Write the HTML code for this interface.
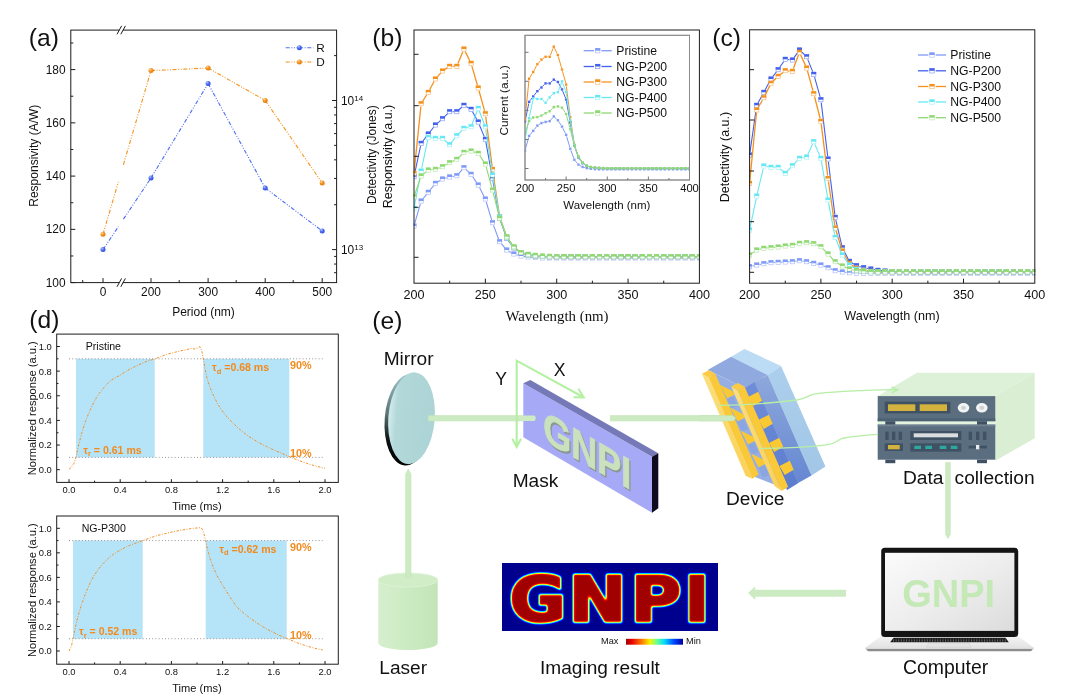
<!DOCTYPE html>
<html lang="en">
<head>
<meta charset="utf-8">
<title>Figure: GNPI photodetector characterisation and imaging</title>
<style>
html,body{margin:0;padding:0;background:#fff;}
body{width:1083px;height:698px;overflow:hidden;}
svg{display:block;font-family:"Liberation Sans",sans-serif;}
</style>
</head>
<body>
<svg width="1083" height="698" viewBox="0 0 1083 698">
<rect width="1083" height="698" fill="#ffffff"/>
<defs>
<radialGradient id="gB" cx="0.35" cy="0.3" r="0.75"><stop offset="0" stop-color="#b9c6ff"/><stop offset="0.45" stop-color="#4d6cf3"/><stop offset="1" stop-color="#2f4fd8"/></radialGradient>
<radialGradient id="gO" cx="0.35" cy="0.3" r="0.75"><stop offset="0" stop-color="#ffd9a6"/><stop offset="0.45" stop-color="#f5921e"/><stop offset="1" stop-color="#e07a08"/></radialGradient>
</defs>
<g id="panel-a">
<text x="28.8" y="45.8" font-size="24.6" fill="#111">(a)</text>
<rect x="70.8" y="30.1" width="265.8" height="252.5" fill="none" stroke="#1c1c1c" stroke-width="1"/>
<line x1="70.8" y1="282.6" x2="75.3" y2="282.6" stroke="#1c1c1c" stroke-width="1"/>
<text x="65.5" y="286.6" font-size="11.9" fill="#111" text-anchor="end">100</text>
<line x1="70.8" y1="255.98" x2="73.3" y2="255.98" stroke="#1c1c1c" stroke-width="1"/>
<line x1="70.8" y1="229.35" x2="75.3" y2="229.35" stroke="#1c1c1c" stroke-width="1"/>
<text x="65.5" y="233.35" font-size="11.9" fill="#111" text-anchor="end">120</text>
<line x1="70.8" y1="202.73" x2="73.3" y2="202.73" stroke="#1c1c1c" stroke-width="1"/>
<line x1="70.8" y1="176.1" x2="75.3" y2="176.1" stroke="#1c1c1c" stroke-width="1"/>
<text x="65.5" y="180.1" font-size="11.9" fill="#111" text-anchor="end">140</text>
<line x1="70.8" y1="149.47" x2="73.3" y2="149.47" stroke="#1c1c1c" stroke-width="1"/>
<line x1="70.8" y1="122.85" x2="75.3" y2="122.85" stroke="#1c1c1c" stroke-width="1"/>
<text x="65.5" y="126.85" font-size="11.9" fill="#111" text-anchor="end">160</text>
<line x1="70.8" y1="96.22" x2="73.3" y2="96.22" stroke="#1c1c1c" stroke-width="1"/>
<line x1="70.8" y1="69.6" x2="75.3" y2="69.6" stroke="#1c1c1c" stroke-width="1"/>
<text x="65.5" y="73.6" font-size="11.9" fill="#111" text-anchor="end">180</text>
<line x1="70.8" y1="42.97" x2="73.3" y2="42.97" stroke="#1c1c1c" stroke-width="1"/>
<text x="38.5" y="155.7" font-size="12" fill="#111" text-anchor="middle" transform="rotate(-90 38.5 155.7)">Responsivity (A/W)</text>
<line x1="336.6" y1="272.7" x2="334.1" y2="272.7" stroke="#1c1c1c" stroke-width="1"/>
<line x1="336.6" y1="264.05" x2="334.1" y2="264.05" stroke="#1c1c1c" stroke-width="1"/>
<line x1="336.6" y1="256.42" x2="334.1" y2="256.42" stroke="#1c1c1c" stroke-width="1"/>
<line x1="336.6" y1="249.6" x2="332.1" y2="249.6" stroke="#1c1c1c" stroke-width="1"/>
<line x1="336.6" y1="204.72" x2="334.1" y2="204.72" stroke="#1c1c1c" stroke-width="1"/>
<line x1="336.6" y1="178.46" x2="334.1" y2="178.46" stroke="#1c1c1c" stroke-width="1"/>
<line x1="336.6" y1="159.83" x2="334.1" y2="159.83" stroke="#1c1c1c" stroke-width="1"/>
<line x1="336.6" y1="145.38" x2="334.1" y2="145.38" stroke="#1c1c1c" stroke-width="1"/>
<line x1="336.6" y1="133.58" x2="334.1" y2="133.58" stroke="#1c1c1c" stroke-width="1"/>
<line x1="336.6" y1="123.6" x2="334.1" y2="123.6" stroke="#1c1c1c" stroke-width="1"/>
<line x1="336.6" y1="114.95" x2="334.1" y2="114.95" stroke="#1c1c1c" stroke-width="1"/>
<line x1="336.6" y1="107.32" x2="334.1" y2="107.32" stroke="#1c1c1c" stroke-width="1"/>
<line x1="336.6" y1="100.5" x2="332.1" y2="100.5" stroke="#1c1c1c" stroke-width="1"/>
<line x1="336.6" y1="55.62" x2="334.1" y2="55.62" stroke="#1c1c1c" stroke-width="1"/>
<text x="341" y="105" font-size="11.9" fill="#111">10<tspan dy="-4.5" font-size="8">14</tspan></text>
<text x="341" y="254.1" font-size="11.9" fill="#111">10<tspan dy="-4.5" font-size="8">13</tspan></text>
<text x="375.9" y="154.7" font-size="12" fill="#111" text-anchor="middle" transform="rotate(-90 375.9 154.7)">Detectivity (Jones)</text>
<line x1="103" y1="282.6" x2="103" y2="278.1" stroke="#1c1c1c" stroke-width="1"/>
<text x="103" y="296.4" font-size="11.9" fill="#111" text-anchor="middle">0</text>
<line x1="151" y1="282.6" x2="151" y2="278.1" stroke="#1c1c1c" stroke-width="1"/>
<text x="151" y="296.4" font-size="11.9" fill="#111" text-anchor="middle">200</text>
<line x1="208.1" y1="282.6" x2="208.1" y2="278.1" stroke="#1c1c1c" stroke-width="1"/>
<text x="208.1" y="296.4" font-size="11.9" fill="#111" text-anchor="middle">300</text>
<line x1="265.2" y1="282.6" x2="265.2" y2="278.1" stroke="#1c1c1c" stroke-width="1"/>
<text x="265.2" y="296.4" font-size="11.9" fill="#111" text-anchor="middle">400</text>
<line x1="322.2" y1="282.6" x2="322.2" y2="278.1" stroke="#1c1c1c" stroke-width="1"/>
<text x="322.2" y="296.4" font-size="11.9" fill="#111" text-anchor="middle">500</text>
<line x1="82.7" y1="282.6" x2="82.7" y2="280.1" stroke="#1c1c1c" stroke-width="1"/>
<line x1="179.2" y1="282.6" x2="179.2" y2="280.1" stroke="#1c1c1c" stroke-width="1"/>
<line x1="236.2" y1="282.6" x2="236.2" y2="280.1" stroke="#1c1c1c" stroke-width="1"/>
<line x1="293.2" y1="282.6" x2="293.2" y2="280.1" stroke="#1c1c1c" stroke-width="1"/>
<text x="203.5" y="316" font-size="12" fill="#111" text-anchor="middle">Period (nm)</text>
<rect x="119.4" y="28.9" width="3.4" height="2.4" fill="#fff"/>
<line x1="117" y1="34.3" x2="121.6" y2="25.9" stroke="#1c1c1c" stroke-width="1"/>
<line x1="120.8" y1="34.3" x2="125.4" y2="25.9" stroke="#1c1c1c" stroke-width="1"/>
<rect x="119.4" y="281.4" width="3.4" height="2.4" fill="#fff"/>
<line x1="117" y1="286.8" x2="121.6" y2="278.4" stroke="#1c1c1c" stroke-width="1"/>
<line x1="120.8" y1="286.8" x2="125.4" y2="278.4" stroke="#1c1c1c" stroke-width="1"/>
<line x1="103" y1="234.3" x2="118.4" y2="181.78" stroke="#f5921e" stroke-width="1.1" stroke-dasharray="4 1.6 1 1.6 1 1.6"/>
<line x1="123.4" y1="164.73" x2="151" y2="70.6" stroke="#f5921e" stroke-width="1.1" stroke-dasharray="4 1.6 1 1.6 1 1.6"/>
<line x1="151" y1="70.6" x2="208.1" y2="68" stroke="#f5921e" stroke-width="1.1" stroke-dasharray="4 1.6 1 1.6 1 1.6"/>
<line x1="208.1" y1="68" x2="265.2" y2="100.4" stroke="#f5921e" stroke-width="1.1" stroke-dasharray="4 1.6 1 1.6 1 1.6"/>
<line x1="265.2" y1="100.4" x2="322.2" y2="183" stroke="#f5921e" stroke-width="1.1" stroke-dasharray="4 1.6 1 1.6 1 1.6"/>
<circle cx="103" cy="234.3" r="2.5" fill="url(#gO)"/>
<circle cx="151" cy="70.6" r="2.5" fill="url(#gO)"/>
<circle cx="208.1" cy="68" r="2.5" fill="url(#gO)"/>
<circle cx="265.2" cy="100.4" r="2.5" fill="url(#gO)"/>
<circle cx="322.2" cy="183" r="2.5" fill="url(#gO)"/>
<line x1="103" y1="249.6" x2="118.4" y2="226.63" stroke="#4d6cf3" stroke-width="1.1" stroke-dasharray="4 1.6 1 1.6 1 1.6"/>
<line x1="123.4" y1="219.17" x2="151" y2="178" stroke="#4d6cf3" stroke-width="1.1" stroke-dasharray="4 1.6 1 1.6 1 1.6"/>
<line x1="151" y1="178" x2="208.1" y2="83.6" stroke="#4d6cf3" stroke-width="1.1" stroke-dasharray="4 1.6 1 1.6 1 1.6"/>
<line x1="208.1" y1="83.6" x2="265.2" y2="188" stroke="#4d6cf3" stroke-width="1.1" stroke-dasharray="4 1.6 1 1.6 1 1.6"/>
<line x1="265.2" y1="188" x2="322.2" y2="231" stroke="#4d6cf3" stroke-width="1.1" stroke-dasharray="4 1.6 1 1.6 1 1.6"/>
<circle cx="103" cy="249.6" r="2.5" fill="url(#gB)"/>
<circle cx="151" cy="178" r="2.5" fill="url(#gB)"/>
<circle cx="208.1" cy="83.6" r="2.5" fill="url(#gB)"/>
<circle cx="265.2" cy="188" r="2.5" fill="url(#gB)"/>
<circle cx="322.2" cy="231" r="2.5" fill="url(#gB)"/>
<line x1="285.7" y1="47.7" x2="313.3" y2="47.7" stroke="#4d6cf3" stroke-width="1.1" stroke-dasharray="4 1.6 1 1.6 1 1.6"/>
<circle cx="299.4" cy="47.7" r="2.5" fill="url(#gB)"/>
<text x="316.3" y="51.9" font-size="11.8" fill="#111">R</text>
<line x1="285.7" y1="62" x2="313.3" y2="62" stroke="#f5921e" stroke-width="1.1" stroke-dasharray="4 1.6 1 1.6 1 1.6"/>
<circle cx="299.4" cy="62" r="2.5" fill="url(#gO)"/>
<text x="316.3" y="66.2" font-size="11.8" fill="#111">D</text>
</g>
<g id="panel-b">
<defs><clipPath id="cb"><rect x="413.5" y="30" width="286.4" height="253.2"/></clipPath>
<clipPath id="ci"><rect x="524.7" y="35.3" width="165.3" height="144.7"/></clipPath></defs>
<text x="372.3" y="45.8" font-size="24.6" fill="#111">(b)</text>
<text x="392.2" y="156.5" font-size="12.5" fill="#111" text-anchor="middle" transform="rotate(-90 392.2 156.5)">Responsivity (a.u.)</text>
<g clip-path="url(#cb)">
<path d="M414.8 223.21L420.34 203.79M422.97 198.76L426.43 194.54M430.07 190.03L433.6 185.57M437.89 181.8L440.06 180.5M445.33 178.22L446.88 177.78M452.53 176.48L453.96 176.22M458.74 173.54L462.01 169.86M466.07 169.67L468.95 172.33M472.69 176.71L476.61 182.59M479.53 187.58L484.03 196.42M486.19 201.78L491.65 219.92M493.5 225.41L498.6 238.99M501.51 243.9L504.86 247.8M509.28 251.42L511.36 252.58M516.68 254.78L518.23 255.22M523.9 256.4L525.29 256.6M531.05 257.24L532.41 257.36M538.19 257.76L539.53 257.84M545.33 258L546.67 258M552.47 258L553.8 258M559.6 258L560.94 258M566.74 258L568.07 258M573.87 258L575.21 258M581 258L582.34 258M588.14 258L589.48 258M595.27 258L596.61 258M602.41 258L603.75 258M609.54 258L610.88 258M616.68 258L618.01 258M623.81 258L625.15 258M630.95 258L632.28 258M638.08 258L639.42 258M645.22 258L646.55 258M652.35 258L653.69 258M659.49 258L660.83 258M666.62 258L667.96 258M673.76 258L675.1 258M680.89 258L682.23 258M688.03 258L689.37 258M695.16 258L696.5 258" fill="none" stroke="#7f9af7" stroke-width="1.1"/>
<rect x="411.9" y="223.9" width="4.2" height="4.2" fill="#fff" stroke="#7f9af7" stroke-width="0.6" stroke-opacity="0.7"/>
<rect x="411.55" y="223.55" width="4.9" height="2.45" fill="#7f9af7"/>
<rect x="419.03" y="198.9" width="4.2" height="4.2" fill="#fff" stroke="#7f9af7" stroke-width="0.6" stroke-opacity="0.7"/>
<rect x="418.68" y="198.55" width="4.9" height="2.45" fill="#7f9af7"/>
<rect x="426.17" y="190.2" width="4.2" height="4.2" fill="#fff" stroke="#7f9af7" stroke-width="0.6" stroke-opacity="0.7"/>
<rect x="425.82" y="189.85" width="4.9" height="2.45" fill="#7f9af7"/>
<rect x="433.3" y="181.2" width="4.2" height="4.2" fill="#fff" stroke="#7f9af7" stroke-width="0.6" stroke-opacity="0.7"/>
<rect x="432.95" y="180.85" width="4.9" height="2.45" fill="#7f9af7"/>
<rect x="440.44" y="176.9" width="4.2" height="4.2" fill="#fff" stroke="#7f9af7" stroke-width="0.6" stroke-opacity="0.7"/>
<rect x="440.09" y="176.55" width="4.9" height="2.45" fill="#7f9af7"/>
<rect x="447.57" y="174.9" width="4.2" height="4.2" fill="#fff" stroke="#7f9af7" stroke-width="0.6" stroke-opacity="0.7"/>
<rect x="447.22" y="174.55" width="4.9" height="2.45" fill="#7f9af7"/>
<rect x="454.71" y="173.6" width="4.2" height="4.2" fill="#fff" stroke="#7f9af7" stroke-width="0.6" stroke-opacity="0.7"/>
<rect x="454.36" y="173.25" width="4.9" height="2.45" fill="#7f9af7"/>
<rect x="461.84" y="165.6" width="4.2" height="4.2" fill="#fff" stroke="#7f9af7" stroke-width="0.6" stroke-opacity="0.7"/>
<rect x="461.49" y="165.25" width="4.9" height="2.45" fill="#7f9af7"/>
<rect x="468.98" y="172.2" width="4.2" height="4.2" fill="#fff" stroke="#7f9af7" stroke-width="0.6" stroke-opacity="0.7"/>
<rect x="468.63" y="171.85" width="4.9" height="2.45" fill="#7f9af7"/>
<rect x="476.12" y="182.9" width="4.2" height="4.2" fill="#fff" stroke="#7f9af7" stroke-width="0.6" stroke-opacity="0.7"/>
<rect x="475.76" y="182.55" width="4.9" height="2.45" fill="#7f9af7"/>
<rect x="483.25" y="196.9" width="4.2" height="4.2" fill="#fff" stroke="#7f9af7" stroke-width="0.6" stroke-opacity="0.7"/>
<rect x="482.9" y="196.55" width="4.9" height="2.45" fill="#7f9af7"/>
<rect x="490.38" y="220.6" width="4.2" height="4.2" fill="#fff" stroke="#7f9af7" stroke-width="0.6" stroke-opacity="0.7"/>
<rect x="490.03" y="220.25" width="4.9" height="2.45" fill="#7f9af7"/>
<rect x="497.52" y="239.6" width="4.2" height="4.2" fill="#fff" stroke="#7f9af7" stroke-width="0.6" stroke-opacity="0.7"/>
<rect x="497.17" y="239.25" width="4.9" height="2.45" fill="#7f9af7"/>
<rect x="504.65" y="247.9" width="4.2" height="4.2" fill="#fff" stroke="#7f9af7" stroke-width="0.6" stroke-opacity="0.7"/>
<rect x="504.3" y="247.55" width="4.9" height="2.45" fill="#7f9af7"/>
<rect x="511.79" y="251.9" width="4.2" height="4.2" fill="#fff" stroke="#7f9af7" stroke-width="0.6" stroke-opacity="0.7"/>
<rect x="511.44" y="251.55" width="4.9" height="2.45" fill="#7f9af7"/>
<rect x="518.92" y="253.9" width="4.2" height="4.2" fill="#fff" stroke="#7f9af7" stroke-width="0.6" stroke-opacity="0.7"/>
<rect x="518.57" y="253.55" width="4.9" height="2.45" fill="#7f9af7"/>
<rect x="526.06" y="254.9" width="4.2" height="4.2" fill="#fff" stroke="#7f9af7" stroke-width="0.6" stroke-opacity="0.7"/>
<rect x="525.71" y="254.55" width="4.9" height="2.45" fill="#7f9af7"/>
<rect x="533.19" y="255.5" width="4.2" height="4.2" fill="#fff" stroke="#7f9af7" stroke-width="0.6" stroke-opacity="0.7"/>
<rect x="532.84" y="255.15" width="4.9" height="2.45" fill="#7f9af7"/>
<rect x="540.33" y="255.9" width="4.2" height="4.2" fill="#fff" stroke="#7f9af7" stroke-width="0.6" stroke-opacity="0.7"/>
<rect x="539.98" y="255.55" width="4.9" height="2.45" fill="#7f9af7"/>
<rect x="547.47" y="255.9" width="4.2" height="4.2" fill="#fff" stroke="#7f9af7" stroke-width="0.6" stroke-opacity="0.7"/>
<rect x="547.12" y="255.55" width="4.9" height="2.45" fill="#7f9af7"/>
<rect x="554.6" y="255.9" width="4.2" height="4.2" fill="#fff" stroke="#7f9af7" stroke-width="0.6" stroke-opacity="0.7"/>
<rect x="554.25" y="255.55" width="4.9" height="2.45" fill="#7f9af7"/>
<rect x="561.74" y="255.9" width="4.2" height="4.2" fill="#fff" stroke="#7f9af7" stroke-width="0.6" stroke-opacity="0.7"/>
<rect x="561.38" y="255.55" width="4.9" height="2.45" fill="#7f9af7"/>
<rect x="568.87" y="255.9" width="4.2" height="4.2" fill="#fff" stroke="#7f9af7" stroke-width="0.6" stroke-opacity="0.7"/>
<rect x="568.52" y="255.55" width="4.9" height="2.45" fill="#7f9af7"/>
<rect x="576" y="255.9" width="4.2" height="4.2" fill="#fff" stroke="#7f9af7" stroke-width="0.6" stroke-opacity="0.7"/>
<rect x="575.65" y="255.55" width="4.9" height="2.45" fill="#7f9af7"/>
<rect x="583.14" y="255.9" width="4.2" height="4.2" fill="#fff" stroke="#7f9af7" stroke-width="0.6" stroke-opacity="0.7"/>
<rect x="582.79" y="255.55" width="4.9" height="2.45" fill="#7f9af7"/>
<rect x="590.27" y="255.9" width="4.2" height="4.2" fill="#fff" stroke="#7f9af7" stroke-width="0.6" stroke-opacity="0.7"/>
<rect x="589.92" y="255.55" width="4.9" height="2.45" fill="#7f9af7"/>
<rect x="597.41" y="255.9" width="4.2" height="4.2" fill="#fff" stroke="#7f9af7" stroke-width="0.6" stroke-opacity="0.7"/>
<rect x="597.06" y="255.55" width="4.9" height="2.45" fill="#7f9af7"/>
<rect x="604.54" y="255.9" width="4.2" height="4.2" fill="#fff" stroke="#7f9af7" stroke-width="0.6" stroke-opacity="0.7"/>
<rect x="604.19" y="255.55" width="4.9" height="2.45" fill="#7f9af7"/>
<rect x="611.68" y="255.9" width="4.2" height="4.2" fill="#fff" stroke="#7f9af7" stroke-width="0.6" stroke-opacity="0.7"/>
<rect x="611.33" y="255.55" width="4.9" height="2.45" fill="#7f9af7"/>
<rect x="618.81" y="255.9" width="4.2" height="4.2" fill="#fff" stroke="#7f9af7" stroke-width="0.6" stroke-opacity="0.7"/>
<rect x="618.46" y="255.55" width="4.9" height="2.45" fill="#7f9af7"/>
<rect x="625.95" y="255.9" width="4.2" height="4.2" fill="#fff" stroke="#7f9af7" stroke-width="0.6" stroke-opacity="0.7"/>
<rect x="625.6" y="255.55" width="4.9" height="2.45" fill="#7f9af7"/>
<rect x="633.08" y="255.9" width="4.2" height="4.2" fill="#fff" stroke="#7f9af7" stroke-width="0.6" stroke-opacity="0.7"/>
<rect x="632.73" y="255.55" width="4.9" height="2.45" fill="#7f9af7"/>
<rect x="640.22" y="255.9" width="4.2" height="4.2" fill="#fff" stroke="#7f9af7" stroke-width="0.6" stroke-opacity="0.7"/>
<rect x="639.87" y="255.55" width="4.9" height="2.45" fill="#7f9af7"/>
<rect x="647.35" y="255.9" width="4.2" height="4.2" fill="#fff" stroke="#7f9af7" stroke-width="0.6" stroke-opacity="0.7"/>
<rect x="647" y="255.55" width="4.9" height="2.45" fill="#7f9af7"/>
<rect x="654.49" y="255.9" width="4.2" height="4.2" fill="#fff" stroke="#7f9af7" stroke-width="0.6" stroke-opacity="0.7"/>
<rect x="654.14" y="255.55" width="4.9" height="2.45" fill="#7f9af7"/>
<rect x="661.62" y="255.9" width="4.2" height="4.2" fill="#fff" stroke="#7f9af7" stroke-width="0.6" stroke-opacity="0.7"/>
<rect x="661.27" y="255.55" width="4.9" height="2.45" fill="#7f9af7"/>
<rect x="668.76" y="255.9" width="4.2" height="4.2" fill="#fff" stroke="#7f9af7" stroke-width="0.6" stroke-opacity="0.7"/>
<rect x="668.41" y="255.55" width="4.9" height="2.45" fill="#7f9af7"/>
<rect x="675.89" y="255.9" width="4.2" height="4.2" fill="#fff" stroke="#7f9af7" stroke-width="0.6" stroke-opacity="0.7"/>
<rect x="675.54" y="255.55" width="4.9" height="2.45" fill="#7f9af7"/>
<rect x="683.03" y="255.9" width="4.2" height="4.2" fill="#fff" stroke="#7f9af7" stroke-width="0.6" stroke-opacity="0.7"/>
<rect x="682.68" y="255.55" width="4.9" height="2.45" fill="#7f9af7"/>
<rect x="690.16" y="255.9" width="4.2" height="4.2" fill="#fff" stroke="#7f9af7" stroke-width="0.6" stroke-opacity="0.7"/>
<rect x="689.81" y="255.55" width="4.9" height="2.45" fill="#7f9af7"/>
<rect x="697.3" y="255.9" width="4.2" height="4.2" fill="#fff" stroke="#7f9af7" stroke-width="0.6" stroke-opacity="0.7"/>
<rect x="696.95" y="255.55" width="4.9" height="2.45" fill="#7f9af7"/>
</g>
<g clip-path="url(#cb)">
<path d="M414.61 173.86L420.53 146.14M422.9 141L426.5 136.3M430.07 131.73L433.6 127.27M437.58 123.08L440.37 120.62M444.61 116.67L447.6 113.73M452.57 111.7L453.91 111.7M458.97 109.76L461.79 107.24M466.47 106.72L468.55 107.88M472.5 111.83L476.79 119.47M479.32 124.68L484.24 136.62M485.87 142.15L491.96 175.45M492.99 181.15L499.11 215.45M500.59 221.03L505.78 235.57M508.47 240.64L512.17 245.66M516.31 249.6L518.6 251.1M523.79 253.59L525.4 254.11M531.03 255.4L532.42 255.6M538.19 256.2L539.54 256.3M545.33 256.62L546.67 256.68M552.47 256.8L553.8 256.8M559.6 256.8L560.94 256.8M566.74 256.8L568.07 256.8M573.87 256.8L575.21 256.8M581 256.8L582.34 256.8M588.14 256.8L589.48 256.8M595.27 256.8L596.61 256.8M602.41 256.8L603.75 256.8M609.54 256.8L610.88 256.8M616.68 256.8L618.01 256.8M623.81 256.8L625.15 256.8M630.95 256.8L632.28 256.8M638.08 256.8L639.42 256.8M645.22 256.8L646.55 256.8M652.35 256.8L653.69 256.8M659.49 256.8L660.83 256.8M666.62 256.8L667.96 256.8M673.76 256.8L675.1 256.8M680.89 256.8L682.23 256.8M688.03 256.8L689.37 256.8M695.16 256.8L696.5 256.8" fill="none" stroke="#4361ee" stroke-width="1.1"/>
<rect x="411.9" y="174.6" width="4.2" height="4.2" fill="#fff" stroke="#4361ee" stroke-width="0.6" stroke-opacity="0.7"/>
<rect x="411.55" y="174.25" width="4.9" height="2.45" fill="#4361ee"/>
<rect x="419.03" y="141.2" width="4.2" height="4.2" fill="#fff" stroke="#4361ee" stroke-width="0.6" stroke-opacity="0.7"/>
<rect x="418.68" y="140.85" width="4.9" height="2.45" fill="#4361ee"/>
<rect x="426.17" y="131.9" width="4.2" height="4.2" fill="#fff" stroke="#4361ee" stroke-width="0.6" stroke-opacity="0.7"/>
<rect x="425.82" y="131.55" width="4.9" height="2.45" fill="#4361ee"/>
<rect x="433.3" y="122.9" width="4.2" height="4.2" fill="#fff" stroke="#4361ee" stroke-width="0.6" stroke-opacity="0.7"/>
<rect x="432.95" y="122.55" width="4.9" height="2.45" fill="#4361ee"/>
<rect x="440.44" y="116.6" width="4.2" height="4.2" fill="#fff" stroke="#4361ee" stroke-width="0.6" stroke-opacity="0.7"/>
<rect x="440.09" y="116.25" width="4.9" height="2.45" fill="#4361ee"/>
<rect x="447.57" y="109.6" width="4.2" height="4.2" fill="#fff" stroke="#4361ee" stroke-width="0.6" stroke-opacity="0.7"/>
<rect x="447.22" y="109.25" width="4.9" height="2.45" fill="#4361ee"/>
<rect x="454.71" y="109.6" width="4.2" height="4.2" fill="#fff" stroke="#4361ee" stroke-width="0.6" stroke-opacity="0.7"/>
<rect x="454.36" y="109.25" width="4.9" height="2.45" fill="#4361ee"/>
<rect x="461.84" y="103.2" width="4.2" height="4.2" fill="#fff" stroke="#4361ee" stroke-width="0.6" stroke-opacity="0.7"/>
<rect x="461.49" y="102.85" width="4.9" height="2.45" fill="#4361ee"/>
<rect x="468.98" y="107.2" width="4.2" height="4.2" fill="#fff" stroke="#4361ee" stroke-width="0.6" stroke-opacity="0.7"/>
<rect x="468.63" y="106.85" width="4.9" height="2.45" fill="#4361ee"/>
<rect x="476.12" y="119.9" width="4.2" height="4.2" fill="#fff" stroke="#4361ee" stroke-width="0.6" stroke-opacity="0.7"/>
<rect x="475.76" y="119.55" width="4.9" height="2.45" fill="#4361ee"/>
<rect x="483.25" y="137.2" width="4.2" height="4.2" fill="#fff" stroke="#4361ee" stroke-width="0.6" stroke-opacity="0.7"/>
<rect x="482.9" y="136.85" width="4.9" height="2.45" fill="#4361ee"/>
<rect x="490.38" y="176.2" width="4.2" height="4.2" fill="#fff" stroke="#4361ee" stroke-width="0.6" stroke-opacity="0.7"/>
<rect x="490.03" y="175.85" width="4.9" height="2.45" fill="#4361ee"/>
<rect x="497.52" y="216.2" width="4.2" height="4.2" fill="#fff" stroke="#4361ee" stroke-width="0.6" stroke-opacity="0.7"/>
<rect x="497.17" y="215.85" width="4.9" height="2.45" fill="#4361ee"/>
<rect x="504.65" y="236.2" width="4.2" height="4.2" fill="#fff" stroke="#4361ee" stroke-width="0.6" stroke-opacity="0.7"/>
<rect x="504.3" y="235.85" width="4.9" height="2.45" fill="#4361ee"/>
<rect x="511.79" y="245.9" width="4.2" height="4.2" fill="#fff" stroke="#4361ee" stroke-width="0.6" stroke-opacity="0.7"/>
<rect x="511.44" y="245.55" width="4.9" height="2.45" fill="#4361ee"/>
<rect x="518.92" y="250.6" width="4.2" height="4.2" fill="#fff" stroke="#4361ee" stroke-width="0.6" stroke-opacity="0.7"/>
<rect x="518.57" y="250.25" width="4.9" height="2.45" fill="#4361ee"/>
<rect x="526.06" y="252.9" width="4.2" height="4.2" fill="#fff" stroke="#4361ee" stroke-width="0.6" stroke-opacity="0.7"/>
<rect x="525.71" y="252.55" width="4.9" height="2.45" fill="#4361ee"/>
<rect x="533.19" y="253.9" width="4.2" height="4.2" fill="#fff" stroke="#4361ee" stroke-width="0.6" stroke-opacity="0.7"/>
<rect x="532.84" y="253.55" width="4.9" height="2.45" fill="#4361ee"/>
<rect x="540.33" y="254.4" width="4.2" height="4.2" fill="#fff" stroke="#4361ee" stroke-width="0.6" stroke-opacity="0.7"/>
<rect x="539.98" y="254.05" width="4.9" height="2.45" fill="#4361ee"/>
<rect x="547.47" y="254.7" width="4.2" height="4.2" fill="#fff" stroke="#4361ee" stroke-width="0.6" stroke-opacity="0.7"/>
<rect x="547.12" y="254.35" width="4.9" height="2.45" fill="#4361ee"/>
<rect x="554.6" y="254.7" width="4.2" height="4.2" fill="#fff" stroke="#4361ee" stroke-width="0.6" stroke-opacity="0.7"/>
<rect x="554.25" y="254.35" width="4.9" height="2.45" fill="#4361ee"/>
<rect x="561.74" y="254.7" width="4.2" height="4.2" fill="#fff" stroke="#4361ee" stroke-width="0.6" stroke-opacity="0.7"/>
<rect x="561.38" y="254.35" width="4.9" height="2.45" fill="#4361ee"/>
<rect x="568.87" y="254.7" width="4.2" height="4.2" fill="#fff" stroke="#4361ee" stroke-width="0.6" stroke-opacity="0.7"/>
<rect x="568.52" y="254.35" width="4.9" height="2.45" fill="#4361ee"/>
<rect x="576" y="254.7" width="4.2" height="4.2" fill="#fff" stroke="#4361ee" stroke-width="0.6" stroke-opacity="0.7"/>
<rect x="575.65" y="254.35" width="4.9" height="2.45" fill="#4361ee"/>
<rect x="583.14" y="254.7" width="4.2" height="4.2" fill="#fff" stroke="#4361ee" stroke-width="0.6" stroke-opacity="0.7"/>
<rect x="582.79" y="254.35" width="4.9" height="2.45" fill="#4361ee"/>
<rect x="590.27" y="254.7" width="4.2" height="4.2" fill="#fff" stroke="#4361ee" stroke-width="0.6" stroke-opacity="0.7"/>
<rect x="589.92" y="254.35" width="4.9" height="2.45" fill="#4361ee"/>
<rect x="597.41" y="254.7" width="4.2" height="4.2" fill="#fff" stroke="#4361ee" stroke-width="0.6" stroke-opacity="0.7"/>
<rect x="597.06" y="254.35" width="4.9" height="2.45" fill="#4361ee"/>
<rect x="604.54" y="254.7" width="4.2" height="4.2" fill="#fff" stroke="#4361ee" stroke-width="0.6" stroke-opacity="0.7"/>
<rect x="604.19" y="254.35" width="4.9" height="2.45" fill="#4361ee"/>
<rect x="611.68" y="254.7" width="4.2" height="4.2" fill="#fff" stroke="#4361ee" stroke-width="0.6" stroke-opacity="0.7"/>
<rect x="611.33" y="254.35" width="4.9" height="2.45" fill="#4361ee"/>
<rect x="618.81" y="254.7" width="4.2" height="4.2" fill="#fff" stroke="#4361ee" stroke-width="0.6" stroke-opacity="0.7"/>
<rect x="618.46" y="254.35" width="4.9" height="2.45" fill="#4361ee"/>
<rect x="625.95" y="254.7" width="4.2" height="4.2" fill="#fff" stroke="#4361ee" stroke-width="0.6" stroke-opacity="0.7"/>
<rect x="625.6" y="254.35" width="4.9" height="2.45" fill="#4361ee"/>
<rect x="633.08" y="254.7" width="4.2" height="4.2" fill="#fff" stroke="#4361ee" stroke-width="0.6" stroke-opacity="0.7"/>
<rect x="632.73" y="254.35" width="4.9" height="2.45" fill="#4361ee"/>
<rect x="640.22" y="254.7" width="4.2" height="4.2" fill="#fff" stroke="#4361ee" stroke-width="0.6" stroke-opacity="0.7"/>
<rect x="639.87" y="254.35" width="4.9" height="2.45" fill="#4361ee"/>
<rect x="647.35" y="254.7" width="4.2" height="4.2" fill="#fff" stroke="#4361ee" stroke-width="0.6" stroke-opacity="0.7"/>
<rect x="647" y="254.35" width="4.9" height="2.45" fill="#4361ee"/>
<rect x="654.49" y="254.7" width="4.2" height="4.2" fill="#fff" stroke="#4361ee" stroke-width="0.6" stroke-opacity="0.7"/>
<rect x="654.14" y="254.35" width="4.9" height="2.45" fill="#4361ee"/>
<rect x="661.62" y="254.7" width="4.2" height="4.2" fill="#fff" stroke="#4361ee" stroke-width="0.6" stroke-opacity="0.7"/>
<rect x="661.27" y="254.35" width="4.9" height="2.45" fill="#4361ee"/>
<rect x="668.76" y="254.7" width="4.2" height="4.2" fill="#fff" stroke="#4361ee" stroke-width="0.6" stroke-opacity="0.7"/>
<rect x="668.41" y="254.35" width="4.9" height="2.45" fill="#4361ee"/>
<rect x="675.89" y="254.7" width="4.2" height="4.2" fill="#fff" stroke="#4361ee" stroke-width="0.6" stroke-opacity="0.7"/>
<rect x="675.54" y="254.35" width="4.9" height="2.45" fill="#4361ee"/>
<rect x="683.03" y="254.7" width="4.2" height="4.2" fill="#fff" stroke="#4361ee" stroke-width="0.6" stroke-opacity="0.7"/>
<rect x="682.68" y="254.35" width="4.9" height="2.45" fill="#4361ee"/>
<rect x="690.16" y="254.7" width="4.2" height="4.2" fill="#fff" stroke="#4361ee" stroke-width="0.6" stroke-opacity="0.7"/>
<rect x="689.81" y="254.35" width="4.9" height="2.45" fill="#4361ee"/>
<rect x="697.3" y="254.7" width="4.2" height="4.2" fill="#fff" stroke="#4361ee" stroke-width="0.6" stroke-opacity="0.7"/>
<rect x="696.95" y="254.35" width="4.9" height="2.45" fill="#4361ee"/>
</g>
<g clip-path="url(#cb)">
<path d="M414.3 170.42L420.84 106.58M422.67 101.24L426.73 94.76M429.64 89.74L434.03 81.56M437.34 76.84L440.61 73.16M444.96 69.4L447.25 67.9M452.57 66.3L453.91 66.3M457.92 63.62L462.84 51.68M465.24 51.59L469.79 60.71M471.88 66.09L477.41 85.21M478.99 90.79L484.57 110.91M485.72 116.58L492.12 166.42M492.92 172.17L499.19 213.83M500.57 219.44L505.81 234.56M508.4 239.69L512.25 245.31M516.26 249.36L518.65 251.04M523.79 253.59L525.4 254.11M531.03 255.4L532.42 255.6M538.19 256.2L539.54 256.3M545.33 256.62L546.67 256.68M552.47 256.8L553.8 256.8M559.6 256.8L560.94 256.8M566.74 256.8L568.07 256.8M573.87 256.8L575.21 256.8M581 256.8L582.34 256.8M588.14 256.8L589.48 256.8M595.27 256.8L596.61 256.8M602.41 256.8L603.75 256.8M609.54 256.8L610.88 256.8M616.68 256.8L618.01 256.8M623.81 256.8L625.15 256.8M630.95 256.8L632.28 256.8M638.08 256.8L639.42 256.8M645.22 256.8L646.55 256.8M652.35 256.8L653.69 256.8M659.49 256.8L660.83 256.8M666.62 256.8L667.96 256.8M673.76 256.8L675.1 256.8M680.89 256.8L682.23 256.8M688.03 256.8L689.37 256.8M695.16 256.8L696.5 256.8" fill="none" stroke="#f5921e" stroke-width="1.3"/>
<rect x="411.9" y="171.2" width="4.2" height="4.2" fill="#fff" stroke="#f5921e" stroke-width="0.6" stroke-opacity="0.7"/>
<rect x="411.55" y="170.85" width="4.9" height="2.45" fill="#f5921e"/>
<rect x="419.03" y="101.6" width="4.2" height="4.2" fill="#fff" stroke="#f5921e" stroke-width="0.6" stroke-opacity="0.7"/>
<rect x="418.68" y="101.25" width="4.9" height="2.45" fill="#f5921e"/>
<rect x="426.17" y="90.2" width="4.2" height="4.2" fill="#fff" stroke="#f5921e" stroke-width="0.6" stroke-opacity="0.7"/>
<rect x="425.82" y="89.85" width="4.9" height="2.45" fill="#f5921e"/>
<rect x="433.3" y="76.9" width="4.2" height="4.2" fill="#fff" stroke="#f5921e" stroke-width="0.6" stroke-opacity="0.7"/>
<rect x="432.95" y="76.55" width="4.9" height="2.45" fill="#f5921e"/>
<rect x="440.44" y="68.9" width="4.2" height="4.2" fill="#fff" stroke="#f5921e" stroke-width="0.6" stroke-opacity="0.7"/>
<rect x="440.09" y="68.55" width="4.9" height="2.45" fill="#f5921e"/>
<rect x="447.57" y="64.2" width="4.2" height="4.2" fill="#fff" stroke="#f5921e" stroke-width="0.6" stroke-opacity="0.7"/>
<rect x="447.22" y="63.85" width="4.9" height="2.45" fill="#f5921e"/>
<rect x="454.71" y="64.2" width="4.2" height="4.2" fill="#fff" stroke="#f5921e" stroke-width="0.6" stroke-opacity="0.7"/>
<rect x="454.36" y="63.85" width="4.9" height="2.45" fill="#f5921e"/>
<rect x="461.84" y="46.9" width="4.2" height="4.2" fill="#fff" stroke="#f5921e" stroke-width="0.6" stroke-opacity="0.7"/>
<rect x="461.49" y="46.55" width="4.9" height="2.45" fill="#f5921e"/>
<rect x="468.98" y="61.2" width="4.2" height="4.2" fill="#fff" stroke="#f5921e" stroke-width="0.6" stroke-opacity="0.7"/>
<rect x="468.63" y="60.85" width="4.9" height="2.45" fill="#f5921e"/>
<rect x="476.12" y="85.9" width="4.2" height="4.2" fill="#fff" stroke="#f5921e" stroke-width="0.6" stroke-opacity="0.7"/>
<rect x="475.76" y="85.55" width="4.9" height="2.45" fill="#f5921e"/>
<rect x="483.25" y="111.6" width="4.2" height="4.2" fill="#fff" stroke="#f5921e" stroke-width="0.6" stroke-opacity="0.7"/>
<rect x="482.9" y="111.25" width="4.9" height="2.45" fill="#f5921e"/>
<rect x="490.38" y="167.2" width="4.2" height="4.2" fill="#fff" stroke="#f5921e" stroke-width="0.6" stroke-opacity="0.7"/>
<rect x="490.03" y="166.85" width="4.9" height="2.45" fill="#f5921e"/>
<rect x="497.52" y="214.6" width="4.2" height="4.2" fill="#fff" stroke="#f5921e" stroke-width="0.6" stroke-opacity="0.7"/>
<rect x="497.17" y="214.25" width="4.9" height="2.45" fill="#f5921e"/>
<rect x="504.65" y="235.2" width="4.2" height="4.2" fill="#fff" stroke="#f5921e" stroke-width="0.6" stroke-opacity="0.7"/>
<rect x="504.3" y="234.85" width="4.9" height="2.45" fill="#f5921e"/>
<rect x="511.79" y="245.6" width="4.2" height="4.2" fill="#fff" stroke="#f5921e" stroke-width="0.6" stroke-opacity="0.7"/>
<rect x="511.44" y="245.25" width="4.9" height="2.45" fill="#f5921e"/>
<rect x="518.92" y="250.6" width="4.2" height="4.2" fill="#fff" stroke="#f5921e" stroke-width="0.6" stroke-opacity="0.7"/>
<rect x="518.57" y="250.25" width="4.9" height="2.45" fill="#f5921e"/>
<rect x="526.06" y="252.9" width="4.2" height="4.2" fill="#fff" stroke="#f5921e" stroke-width="0.6" stroke-opacity="0.7"/>
<rect x="525.71" y="252.55" width="4.9" height="2.45" fill="#f5921e"/>
<rect x="533.19" y="253.9" width="4.2" height="4.2" fill="#fff" stroke="#f5921e" stroke-width="0.6" stroke-opacity="0.7"/>
<rect x="532.84" y="253.55" width="4.9" height="2.45" fill="#f5921e"/>
<rect x="540.33" y="254.4" width="4.2" height="4.2" fill="#fff" stroke="#f5921e" stroke-width="0.6" stroke-opacity="0.7"/>
<rect x="539.98" y="254.05" width="4.9" height="2.45" fill="#f5921e"/>
<rect x="547.47" y="254.7" width="4.2" height="4.2" fill="#fff" stroke="#f5921e" stroke-width="0.6" stroke-opacity="0.7"/>
<rect x="547.12" y="254.35" width="4.9" height="2.45" fill="#f5921e"/>
<rect x="554.6" y="254.7" width="4.2" height="4.2" fill="#fff" stroke="#f5921e" stroke-width="0.6" stroke-opacity="0.7"/>
<rect x="554.25" y="254.35" width="4.9" height="2.45" fill="#f5921e"/>
<rect x="561.74" y="254.7" width="4.2" height="4.2" fill="#fff" stroke="#f5921e" stroke-width="0.6" stroke-opacity="0.7"/>
<rect x="561.38" y="254.35" width="4.9" height="2.45" fill="#f5921e"/>
<rect x="568.87" y="254.7" width="4.2" height="4.2" fill="#fff" stroke="#f5921e" stroke-width="0.6" stroke-opacity="0.7"/>
<rect x="568.52" y="254.35" width="4.9" height="2.45" fill="#f5921e"/>
<rect x="576" y="254.7" width="4.2" height="4.2" fill="#fff" stroke="#f5921e" stroke-width="0.6" stroke-opacity="0.7"/>
<rect x="575.65" y="254.35" width="4.9" height="2.45" fill="#f5921e"/>
<rect x="583.14" y="254.7" width="4.2" height="4.2" fill="#fff" stroke="#f5921e" stroke-width="0.6" stroke-opacity="0.7"/>
<rect x="582.79" y="254.35" width="4.9" height="2.45" fill="#f5921e"/>
<rect x="590.27" y="254.7" width="4.2" height="4.2" fill="#fff" stroke="#f5921e" stroke-width="0.6" stroke-opacity="0.7"/>
<rect x="589.92" y="254.35" width="4.9" height="2.45" fill="#f5921e"/>
<rect x="597.41" y="254.7" width="4.2" height="4.2" fill="#fff" stroke="#f5921e" stroke-width="0.6" stroke-opacity="0.7"/>
<rect x="597.06" y="254.35" width="4.9" height="2.45" fill="#f5921e"/>
<rect x="604.54" y="254.7" width="4.2" height="4.2" fill="#fff" stroke="#f5921e" stroke-width="0.6" stroke-opacity="0.7"/>
<rect x="604.19" y="254.35" width="4.9" height="2.45" fill="#f5921e"/>
<rect x="611.68" y="254.7" width="4.2" height="4.2" fill="#fff" stroke="#f5921e" stroke-width="0.6" stroke-opacity="0.7"/>
<rect x="611.33" y="254.35" width="4.9" height="2.45" fill="#f5921e"/>
<rect x="618.81" y="254.7" width="4.2" height="4.2" fill="#fff" stroke="#f5921e" stroke-width="0.6" stroke-opacity="0.7"/>
<rect x="618.46" y="254.35" width="4.9" height="2.45" fill="#f5921e"/>
<rect x="625.95" y="254.7" width="4.2" height="4.2" fill="#fff" stroke="#f5921e" stroke-width="0.6" stroke-opacity="0.7"/>
<rect x="625.6" y="254.35" width="4.9" height="2.45" fill="#f5921e"/>
<rect x="633.08" y="254.7" width="4.2" height="4.2" fill="#fff" stroke="#f5921e" stroke-width="0.6" stroke-opacity="0.7"/>
<rect x="632.73" y="254.35" width="4.9" height="2.45" fill="#f5921e"/>
<rect x="640.22" y="254.7" width="4.2" height="4.2" fill="#fff" stroke="#f5921e" stroke-width="0.6" stroke-opacity="0.7"/>
<rect x="639.87" y="254.35" width="4.9" height="2.45" fill="#f5921e"/>
<rect x="647.35" y="254.7" width="4.2" height="4.2" fill="#fff" stroke="#f5921e" stroke-width="0.6" stroke-opacity="0.7"/>
<rect x="647" y="254.35" width="4.9" height="2.45" fill="#f5921e"/>
<rect x="654.49" y="254.7" width="4.2" height="4.2" fill="#fff" stroke="#f5921e" stroke-width="0.6" stroke-opacity="0.7"/>
<rect x="654.14" y="254.35" width="4.9" height="2.45" fill="#f5921e"/>
<rect x="661.62" y="254.7" width="4.2" height="4.2" fill="#fff" stroke="#f5921e" stroke-width="0.6" stroke-opacity="0.7"/>
<rect x="661.27" y="254.35" width="4.9" height="2.45" fill="#f5921e"/>
<rect x="668.76" y="254.7" width="4.2" height="4.2" fill="#fff" stroke="#f5921e" stroke-width="0.6" stroke-opacity="0.7"/>
<rect x="668.41" y="254.35" width="4.9" height="2.45" fill="#f5921e"/>
<rect x="675.89" y="254.7" width="4.2" height="4.2" fill="#fff" stroke="#f5921e" stroke-width="0.6" stroke-opacity="0.7"/>
<rect x="675.54" y="254.35" width="4.9" height="2.45" fill="#f5921e"/>
<rect x="683.03" y="254.7" width="4.2" height="4.2" fill="#fff" stroke="#f5921e" stroke-width="0.6" stroke-opacity="0.7"/>
<rect x="682.68" y="254.35" width="4.9" height="2.45" fill="#f5921e"/>
<rect x="690.16" y="254.7" width="4.2" height="4.2" fill="#fff" stroke="#f5921e" stroke-width="0.6" stroke-opacity="0.7"/>
<rect x="689.81" y="254.35" width="4.9" height="2.45" fill="#f5921e"/>
<rect x="697.3" y="254.7" width="4.2" height="4.2" fill="#fff" stroke="#f5921e" stroke-width="0.6" stroke-opacity="0.7"/>
<rect x="696.95" y="254.35" width="4.9" height="2.45" fill="#f5921e"/>
</g>
<g clip-path="url(#cb)">
<path d="M414.54 205.45L420.59 173.85M421.74 168.16L427.67 140.14M431.14 137.7L432.53 137.9M438.3 138.3L439.64 138.3M444.7 140.24L447.52 142.76M451.48 142.43L455.01 137.97M458.82 133.61L461.93 130.39M466.77 127.67L468.25 127.33M472.13 124L477.17 111M479.26 111L484.3 124M485.77 129.57L492.06 172.13M492.97 177.86L499.13 214.14M500.57 219.74L505.8 234.76M508.44 239.86L512.21 245.14M516.26 249.16L518.65 250.84M523.76 253.46L525.42 254.04M531.03 255.4L532.42 255.6M538.19 256.2L539.54 256.3M545.33 256.62L546.67 256.68M552.47 256.8L553.8 256.8M559.6 256.8L560.94 256.8M566.74 256.8L568.07 256.8M573.87 256.8L575.21 256.8M581 256.8L582.34 256.8M588.14 256.8L589.48 256.8M595.27 256.8L596.61 256.8M602.41 256.8L603.75 256.8M609.54 256.8L610.88 256.8M616.68 256.8L618.01 256.8M623.81 256.8L625.15 256.8M630.95 256.8L632.28 256.8M638.08 256.8L639.42 256.8M645.22 256.8L646.55 256.8M652.35 256.8L653.69 256.8M659.49 256.8L660.83 256.8M666.62 256.8L667.96 256.8M673.76 256.8L675.1 256.8M680.89 256.8L682.23 256.8M688.03 256.8L689.37 256.8M695.16 256.8L696.5 256.8" fill="none" stroke="#66e8f4" stroke-width="1.1"/>
<rect x="411.9" y="206.2" width="4.2" height="4.2" fill="#fff" stroke="#66e8f4" stroke-width="0.6" stroke-opacity="0.7"/>
<rect x="411.55" y="205.85" width="4.9" height="2.45" fill="#66e8f4"/>
<rect x="419.03" y="168.9" width="4.2" height="4.2" fill="#fff" stroke="#66e8f4" stroke-width="0.6" stroke-opacity="0.7"/>
<rect x="418.68" y="168.55" width="4.9" height="2.45" fill="#66e8f4"/>
<rect x="426.17" y="135.2" width="4.2" height="4.2" fill="#fff" stroke="#66e8f4" stroke-width="0.6" stroke-opacity="0.7"/>
<rect x="425.82" y="134.85" width="4.9" height="2.45" fill="#66e8f4"/>
<rect x="433.3" y="136.2" width="4.2" height="4.2" fill="#fff" stroke="#66e8f4" stroke-width="0.6" stroke-opacity="0.7"/>
<rect x="432.95" y="135.85" width="4.9" height="2.45" fill="#66e8f4"/>
<rect x="440.44" y="136.2" width="4.2" height="4.2" fill="#fff" stroke="#66e8f4" stroke-width="0.6" stroke-opacity="0.7"/>
<rect x="440.09" y="135.85" width="4.9" height="2.45" fill="#66e8f4"/>
<rect x="447.57" y="142.6" width="4.2" height="4.2" fill="#fff" stroke="#66e8f4" stroke-width="0.6" stroke-opacity="0.7"/>
<rect x="447.22" y="142.25" width="4.9" height="2.45" fill="#66e8f4"/>
<rect x="454.71" y="133.6" width="4.2" height="4.2" fill="#fff" stroke="#66e8f4" stroke-width="0.6" stroke-opacity="0.7"/>
<rect x="454.36" y="133.25" width="4.9" height="2.45" fill="#66e8f4"/>
<rect x="461.84" y="126.2" width="4.2" height="4.2" fill="#fff" stroke="#66e8f4" stroke-width="0.6" stroke-opacity="0.7"/>
<rect x="461.49" y="125.85" width="4.9" height="2.45" fill="#66e8f4"/>
<rect x="468.98" y="124.6" width="4.2" height="4.2" fill="#fff" stroke="#66e8f4" stroke-width="0.6" stroke-opacity="0.7"/>
<rect x="468.63" y="124.25" width="4.9" height="2.45" fill="#66e8f4"/>
<rect x="476.12" y="106.2" width="4.2" height="4.2" fill="#fff" stroke="#66e8f4" stroke-width="0.6" stroke-opacity="0.7"/>
<rect x="475.76" y="105.85" width="4.9" height="2.45" fill="#66e8f4"/>
<rect x="483.25" y="124.6" width="4.2" height="4.2" fill="#fff" stroke="#66e8f4" stroke-width="0.6" stroke-opacity="0.7"/>
<rect x="482.9" y="124.25" width="4.9" height="2.45" fill="#66e8f4"/>
<rect x="490.38" y="172.9" width="4.2" height="4.2" fill="#fff" stroke="#66e8f4" stroke-width="0.6" stroke-opacity="0.7"/>
<rect x="490.03" y="172.55" width="4.9" height="2.45" fill="#66e8f4"/>
<rect x="497.52" y="214.9" width="4.2" height="4.2" fill="#fff" stroke="#66e8f4" stroke-width="0.6" stroke-opacity="0.7"/>
<rect x="497.17" y="214.55" width="4.9" height="2.45" fill="#66e8f4"/>
<rect x="504.65" y="235.4" width="4.2" height="4.2" fill="#fff" stroke="#66e8f4" stroke-width="0.6" stroke-opacity="0.7"/>
<rect x="504.3" y="235.05" width="4.9" height="2.45" fill="#66e8f4"/>
<rect x="511.79" y="245.4" width="4.2" height="4.2" fill="#fff" stroke="#66e8f4" stroke-width="0.6" stroke-opacity="0.7"/>
<rect x="511.44" y="245.05" width="4.9" height="2.45" fill="#66e8f4"/>
<rect x="518.92" y="250.4" width="4.2" height="4.2" fill="#fff" stroke="#66e8f4" stroke-width="0.6" stroke-opacity="0.7"/>
<rect x="518.57" y="250.05" width="4.9" height="2.45" fill="#66e8f4"/>
<rect x="526.06" y="252.9" width="4.2" height="4.2" fill="#fff" stroke="#66e8f4" stroke-width="0.6" stroke-opacity="0.7"/>
<rect x="525.71" y="252.55" width="4.9" height="2.45" fill="#66e8f4"/>
<rect x="533.19" y="253.9" width="4.2" height="4.2" fill="#fff" stroke="#66e8f4" stroke-width="0.6" stroke-opacity="0.7"/>
<rect x="532.84" y="253.55" width="4.9" height="2.45" fill="#66e8f4"/>
<rect x="540.33" y="254.4" width="4.2" height="4.2" fill="#fff" stroke="#66e8f4" stroke-width="0.6" stroke-opacity="0.7"/>
<rect x="539.98" y="254.05" width="4.9" height="2.45" fill="#66e8f4"/>
<rect x="547.47" y="254.7" width="4.2" height="4.2" fill="#fff" stroke="#66e8f4" stroke-width="0.6" stroke-opacity="0.7"/>
<rect x="547.12" y="254.35" width="4.9" height="2.45" fill="#66e8f4"/>
<rect x="554.6" y="254.7" width="4.2" height="4.2" fill="#fff" stroke="#66e8f4" stroke-width="0.6" stroke-opacity="0.7"/>
<rect x="554.25" y="254.35" width="4.9" height="2.45" fill="#66e8f4"/>
<rect x="561.74" y="254.7" width="4.2" height="4.2" fill="#fff" stroke="#66e8f4" stroke-width="0.6" stroke-opacity="0.7"/>
<rect x="561.38" y="254.35" width="4.9" height="2.45" fill="#66e8f4"/>
<rect x="568.87" y="254.7" width="4.2" height="4.2" fill="#fff" stroke="#66e8f4" stroke-width="0.6" stroke-opacity="0.7"/>
<rect x="568.52" y="254.35" width="4.9" height="2.45" fill="#66e8f4"/>
<rect x="576" y="254.7" width="4.2" height="4.2" fill="#fff" stroke="#66e8f4" stroke-width="0.6" stroke-opacity="0.7"/>
<rect x="575.65" y="254.35" width="4.9" height="2.45" fill="#66e8f4"/>
<rect x="583.14" y="254.7" width="4.2" height="4.2" fill="#fff" stroke="#66e8f4" stroke-width="0.6" stroke-opacity="0.7"/>
<rect x="582.79" y="254.35" width="4.9" height="2.45" fill="#66e8f4"/>
<rect x="590.27" y="254.7" width="4.2" height="4.2" fill="#fff" stroke="#66e8f4" stroke-width="0.6" stroke-opacity="0.7"/>
<rect x="589.92" y="254.35" width="4.9" height="2.45" fill="#66e8f4"/>
<rect x="597.41" y="254.7" width="4.2" height="4.2" fill="#fff" stroke="#66e8f4" stroke-width="0.6" stroke-opacity="0.7"/>
<rect x="597.06" y="254.35" width="4.9" height="2.45" fill="#66e8f4"/>
<rect x="604.54" y="254.7" width="4.2" height="4.2" fill="#fff" stroke="#66e8f4" stroke-width="0.6" stroke-opacity="0.7"/>
<rect x="604.19" y="254.35" width="4.9" height="2.45" fill="#66e8f4"/>
<rect x="611.68" y="254.7" width="4.2" height="4.2" fill="#fff" stroke="#66e8f4" stroke-width="0.6" stroke-opacity="0.7"/>
<rect x="611.33" y="254.35" width="4.9" height="2.45" fill="#66e8f4"/>
<rect x="618.81" y="254.7" width="4.2" height="4.2" fill="#fff" stroke="#66e8f4" stroke-width="0.6" stroke-opacity="0.7"/>
<rect x="618.46" y="254.35" width="4.9" height="2.45" fill="#66e8f4"/>
<rect x="625.95" y="254.7" width="4.2" height="4.2" fill="#fff" stroke="#66e8f4" stroke-width="0.6" stroke-opacity="0.7"/>
<rect x="625.6" y="254.35" width="4.9" height="2.45" fill="#66e8f4"/>
<rect x="633.08" y="254.7" width="4.2" height="4.2" fill="#fff" stroke="#66e8f4" stroke-width="0.6" stroke-opacity="0.7"/>
<rect x="632.73" y="254.35" width="4.9" height="2.45" fill="#66e8f4"/>
<rect x="640.22" y="254.7" width="4.2" height="4.2" fill="#fff" stroke="#66e8f4" stroke-width="0.6" stroke-opacity="0.7"/>
<rect x="639.87" y="254.35" width="4.9" height="2.45" fill="#66e8f4"/>
<rect x="647.35" y="254.7" width="4.2" height="4.2" fill="#fff" stroke="#66e8f4" stroke-width="0.6" stroke-opacity="0.7"/>
<rect x="647" y="254.35" width="4.9" height="2.45" fill="#66e8f4"/>
<rect x="654.49" y="254.7" width="4.2" height="4.2" fill="#fff" stroke="#66e8f4" stroke-width="0.6" stroke-opacity="0.7"/>
<rect x="654.14" y="254.35" width="4.9" height="2.45" fill="#66e8f4"/>
<rect x="661.62" y="254.7" width="4.2" height="4.2" fill="#fff" stroke="#66e8f4" stroke-width="0.6" stroke-opacity="0.7"/>
<rect x="661.27" y="254.35" width="4.9" height="2.45" fill="#66e8f4"/>
<rect x="668.76" y="254.7" width="4.2" height="4.2" fill="#fff" stroke="#66e8f4" stroke-width="0.6" stroke-opacity="0.7"/>
<rect x="668.41" y="254.35" width="4.9" height="2.45" fill="#66e8f4"/>
<rect x="675.89" y="254.7" width="4.2" height="4.2" fill="#fff" stroke="#66e8f4" stroke-width="0.6" stroke-opacity="0.7"/>
<rect x="675.54" y="254.35" width="4.9" height="2.45" fill="#66e8f4"/>
<rect x="683.03" y="254.7" width="4.2" height="4.2" fill="#fff" stroke="#66e8f4" stroke-width="0.6" stroke-opacity="0.7"/>
<rect x="682.68" y="254.35" width="4.9" height="2.45" fill="#66e8f4"/>
<rect x="690.16" y="254.7" width="4.2" height="4.2" fill="#fff" stroke="#66e8f4" stroke-width="0.6" stroke-opacity="0.7"/>
<rect x="689.81" y="254.35" width="4.9" height="2.45" fill="#66e8f4"/>
<rect x="697.3" y="254.7" width="4.2" height="4.2" fill="#fff" stroke="#66e8f4" stroke-width="0.6" stroke-opacity="0.7"/>
<rect x="696.95" y="254.35" width="4.9" height="2.45" fill="#66e8f4"/>
</g>
<g clip-path="url(#cb)">
<path d="M414.95 193.96L420.19 178.74M423.35 174.13L426.05 171.87M431.16 169.72L432.52 169.58M438.13 168.31L439.82 167.69M445.07 165.28L447.15 164.12M452.29 161.45L454.19 160.55M458.88 157.27L461.87 154.33M466.8 151.78L468.23 151.52M473.84 151.89L475.45 152.41M479.82 155.71L483.74 161.59M486.12 166.8L491.72 187.2M493.19 192.81L498.91 215.49M500.67 221L505.71 234M508.44 239.06L512.21 244.34M516.14 248.53L518.77 250.67M523.84 253.21L525.35 253.59M531.03 254.7L532.42 254.9M538.18 255.58L539.54 255.72M545.33 256.12L546.67 256.18M552.46 256.42L553.8 256.48M559.6 256.6L560.94 256.6M566.74 256.6L568.07 256.6M573.87 256.6L575.21 256.6M581 256.6L582.34 256.6M588.14 256.6L589.48 256.6M595.27 256.6L596.61 256.6M602.41 256.6L603.75 256.6M609.54 256.6L610.88 256.6M616.68 256.6L618.01 256.6M623.81 256.6L625.15 256.6M630.95 256.6L632.28 256.6M638.08 256.6L639.42 256.6M645.22 256.6L646.55 256.6M652.35 256.6L653.69 256.6M659.49 256.6L660.83 256.6M666.62 256.6L667.96 256.6M673.76 256.6L675.1 256.6M680.89 256.6L682.23 256.6M688.03 256.6L689.37 256.6M695.16 256.6L696.5 256.6" fill="none" stroke="#8fd973" stroke-width="1.1"/>
<rect x="411.9" y="194.6" width="4.2" height="4.2" fill="#fff" stroke="#8fd973" stroke-width="0.6" stroke-opacity="0.7"/>
<rect x="411.55" y="194.25" width="4.9" height="2.45" fill="#8fd973"/>
<rect x="419.03" y="173.9" width="4.2" height="4.2" fill="#fff" stroke="#8fd973" stroke-width="0.6" stroke-opacity="0.7"/>
<rect x="418.68" y="173.55" width="4.9" height="2.45" fill="#8fd973"/>
<rect x="426.17" y="167.9" width="4.2" height="4.2" fill="#fff" stroke="#8fd973" stroke-width="0.6" stroke-opacity="0.7"/>
<rect x="425.82" y="167.55" width="4.9" height="2.45" fill="#8fd973"/>
<rect x="433.3" y="167.2" width="4.2" height="4.2" fill="#fff" stroke="#8fd973" stroke-width="0.6" stroke-opacity="0.7"/>
<rect x="432.95" y="166.85" width="4.9" height="2.45" fill="#8fd973"/>
<rect x="440.44" y="164.6" width="4.2" height="4.2" fill="#fff" stroke="#8fd973" stroke-width="0.6" stroke-opacity="0.7"/>
<rect x="440.09" y="164.25" width="4.9" height="2.45" fill="#8fd973"/>
<rect x="447.57" y="160.6" width="4.2" height="4.2" fill="#fff" stroke="#8fd973" stroke-width="0.6" stroke-opacity="0.7"/>
<rect x="447.22" y="160.25" width="4.9" height="2.45" fill="#8fd973"/>
<rect x="454.71" y="157.2" width="4.2" height="4.2" fill="#fff" stroke="#8fd973" stroke-width="0.6" stroke-opacity="0.7"/>
<rect x="454.36" y="156.85" width="4.9" height="2.45" fill="#8fd973"/>
<rect x="461.84" y="150.2" width="4.2" height="4.2" fill="#fff" stroke="#8fd973" stroke-width="0.6" stroke-opacity="0.7"/>
<rect x="461.49" y="149.85" width="4.9" height="2.45" fill="#8fd973"/>
<rect x="468.98" y="148.9" width="4.2" height="4.2" fill="#fff" stroke="#8fd973" stroke-width="0.6" stroke-opacity="0.7"/>
<rect x="468.63" y="148.55" width="4.9" height="2.45" fill="#8fd973"/>
<rect x="476.12" y="151.2" width="4.2" height="4.2" fill="#fff" stroke="#8fd973" stroke-width="0.6" stroke-opacity="0.7"/>
<rect x="475.76" y="150.85" width="4.9" height="2.45" fill="#8fd973"/>
<rect x="483.25" y="161.9" width="4.2" height="4.2" fill="#fff" stroke="#8fd973" stroke-width="0.6" stroke-opacity="0.7"/>
<rect x="482.9" y="161.55" width="4.9" height="2.45" fill="#8fd973"/>
<rect x="490.38" y="187.9" width="4.2" height="4.2" fill="#fff" stroke="#8fd973" stroke-width="0.6" stroke-opacity="0.7"/>
<rect x="490.03" y="187.55" width="4.9" height="2.45" fill="#8fd973"/>
<rect x="497.52" y="216.2" width="4.2" height="4.2" fill="#fff" stroke="#8fd973" stroke-width="0.6" stroke-opacity="0.7"/>
<rect x="497.17" y="215.85" width="4.9" height="2.45" fill="#8fd973"/>
<rect x="504.65" y="234.6" width="4.2" height="4.2" fill="#fff" stroke="#8fd973" stroke-width="0.6" stroke-opacity="0.7"/>
<rect x="504.3" y="234.25" width="4.9" height="2.45" fill="#8fd973"/>
<rect x="511.79" y="244.6" width="4.2" height="4.2" fill="#fff" stroke="#8fd973" stroke-width="0.6" stroke-opacity="0.7"/>
<rect x="511.44" y="244.25" width="4.9" height="2.45" fill="#8fd973"/>
<rect x="518.92" y="250.4" width="4.2" height="4.2" fill="#fff" stroke="#8fd973" stroke-width="0.6" stroke-opacity="0.7"/>
<rect x="518.57" y="250.05" width="4.9" height="2.45" fill="#8fd973"/>
<rect x="526.06" y="252.2" width="4.2" height="4.2" fill="#fff" stroke="#8fd973" stroke-width="0.6" stroke-opacity="0.7"/>
<rect x="525.71" y="251.85" width="4.9" height="2.45" fill="#8fd973"/>
<rect x="533.19" y="253.2" width="4.2" height="4.2" fill="#fff" stroke="#8fd973" stroke-width="0.6" stroke-opacity="0.7"/>
<rect x="532.84" y="252.85" width="4.9" height="2.45" fill="#8fd973"/>
<rect x="540.33" y="253.9" width="4.2" height="4.2" fill="#fff" stroke="#8fd973" stroke-width="0.6" stroke-opacity="0.7"/>
<rect x="539.98" y="253.55" width="4.9" height="2.45" fill="#8fd973"/>
<rect x="547.47" y="254.2" width="4.2" height="4.2" fill="#fff" stroke="#8fd973" stroke-width="0.6" stroke-opacity="0.7"/>
<rect x="547.12" y="253.85" width="4.9" height="2.45" fill="#8fd973"/>
<rect x="554.6" y="254.5" width="4.2" height="4.2" fill="#fff" stroke="#8fd973" stroke-width="0.6" stroke-opacity="0.7"/>
<rect x="554.25" y="254.15" width="4.9" height="2.45" fill="#8fd973"/>
<rect x="561.74" y="254.5" width="4.2" height="4.2" fill="#fff" stroke="#8fd973" stroke-width="0.6" stroke-opacity="0.7"/>
<rect x="561.38" y="254.15" width="4.9" height="2.45" fill="#8fd973"/>
<rect x="568.87" y="254.5" width="4.2" height="4.2" fill="#fff" stroke="#8fd973" stroke-width="0.6" stroke-opacity="0.7"/>
<rect x="568.52" y="254.15" width="4.9" height="2.45" fill="#8fd973"/>
<rect x="576" y="254.5" width="4.2" height="4.2" fill="#fff" stroke="#8fd973" stroke-width="0.6" stroke-opacity="0.7"/>
<rect x="575.65" y="254.15" width="4.9" height="2.45" fill="#8fd973"/>
<rect x="583.14" y="254.5" width="4.2" height="4.2" fill="#fff" stroke="#8fd973" stroke-width="0.6" stroke-opacity="0.7"/>
<rect x="582.79" y="254.15" width="4.9" height="2.45" fill="#8fd973"/>
<rect x="590.27" y="254.5" width="4.2" height="4.2" fill="#fff" stroke="#8fd973" stroke-width="0.6" stroke-opacity="0.7"/>
<rect x="589.92" y="254.15" width="4.9" height="2.45" fill="#8fd973"/>
<rect x="597.41" y="254.5" width="4.2" height="4.2" fill="#fff" stroke="#8fd973" stroke-width="0.6" stroke-opacity="0.7"/>
<rect x="597.06" y="254.15" width="4.9" height="2.45" fill="#8fd973"/>
<rect x="604.54" y="254.5" width="4.2" height="4.2" fill="#fff" stroke="#8fd973" stroke-width="0.6" stroke-opacity="0.7"/>
<rect x="604.19" y="254.15" width="4.9" height="2.45" fill="#8fd973"/>
<rect x="611.68" y="254.5" width="4.2" height="4.2" fill="#fff" stroke="#8fd973" stroke-width="0.6" stroke-opacity="0.7"/>
<rect x="611.33" y="254.15" width="4.9" height="2.45" fill="#8fd973"/>
<rect x="618.81" y="254.5" width="4.2" height="4.2" fill="#fff" stroke="#8fd973" stroke-width="0.6" stroke-opacity="0.7"/>
<rect x="618.46" y="254.15" width="4.9" height="2.45" fill="#8fd973"/>
<rect x="625.95" y="254.5" width="4.2" height="4.2" fill="#fff" stroke="#8fd973" stroke-width="0.6" stroke-opacity="0.7"/>
<rect x="625.6" y="254.15" width="4.9" height="2.45" fill="#8fd973"/>
<rect x="633.08" y="254.5" width="4.2" height="4.2" fill="#fff" stroke="#8fd973" stroke-width="0.6" stroke-opacity="0.7"/>
<rect x="632.73" y="254.15" width="4.9" height="2.45" fill="#8fd973"/>
<rect x="640.22" y="254.5" width="4.2" height="4.2" fill="#fff" stroke="#8fd973" stroke-width="0.6" stroke-opacity="0.7"/>
<rect x="639.87" y="254.15" width="4.9" height="2.45" fill="#8fd973"/>
<rect x="647.35" y="254.5" width="4.2" height="4.2" fill="#fff" stroke="#8fd973" stroke-width="0.6" stroke-opacity="0.7"/>
<rect x="647" y="254.15" width="4.9" height="2.45" fill="#8fd973"/>
<rect x="654.49" y="254.5" width="4.2" height="4.2" fill="#fff" stroke="#8fd973" stroke-width="0.6" stroke-opacity="0.7"/>
<rect x="654.14" y="254.15" width="4.9" height="2.45" fill="#8fd973"/>
<rect x="661.62" y="254.5" width="4.2" height="4.2" fill="#fff" stroke="#8fd973" stroke-width="0.6" stroke-opacity="0.7"/>
<rect x="661.27" y="254.15" width="4.9" height="2.45" fill="#8fd973"/>
<rect x="668.76" y="254.5" width="4.2" height="4.2" fill="#fff" stroke="#8fd973" stroke-width="0.6" stroke-opacity="0.7"/>
<rect x="668.41" y="254.15" width="4.9" height="2.45" fill="#8fd973"/>
<rect x="675.89" y="254.5" width="4.2" height="4.2" fill="#fff" stroke="#8fd973" stroke-width="0.6" stroke-opacity="0.7"/>
<rect x="675.54" y="254.15" width="4.9" height="2.45" fill="#8fd973"/>
<rect x="683.03" y="254.5" width="4.2" height="4.2" fill="#fff" stroke="#8fd973" stroke-width="0.6" stroke-opacity="0.7"/>
<rect x="682.68" y="254.15" width="4.9" height="2.45" fill="#8fd973"/>
<rect x="690.16" y="254.5" width="4.2" height="4.2" fill="#fff" stroke="#8fd973" stroke-width="0.6" stroke-opacity="0.7"/>
<rect x="689.81" y="254.15" width="4.9" height="2.45" fill="#8fd973"/>
<rect x="697.3" y="254.5" width="4.2" height="4.2" fill="#fff" stroke="#8fd973" stroke-width="0.6" stroke-opacity="0.7"/>
<rect x="696.95" y="254.15" width="4.9" height="2.45" fill="#8fd973"/>
</g>
<rect x="414" y="30" width="285.4" height="253.2" fill="none" stroke="#1c1c1c" stroke-width="1"/>
<line x1="414" y1="54.3" x2="418.5" y2="54.3" stroke="#1c1c1c" stroke-width="1"/>
<line x1="414" y1="105.7" x2="418.5" y2="105.7" stroke="#1c1c1c" stroke-width="1"/>
<line x1="414" y1="156.3" x2="418.5" y2="156.3" stroke="#1c1c1c" stroke-width="1"/>
<line x1="414" y1="207.3" x2="418.5" y2="207.3" stroke="#1c1c1c" stroke-width="1"/>
<line x1="414" y1="257.3" x2="418.5" y2="257.3" stroke="#1c1c1c" stroke-width="1"/>
<text x="414" y="298.9" font-size="12.6" fill="#111" text-anchor="middle">200</text>
<line x1="449.68" y1="283.2" x2="449.68" y2="280.7" stroke="#1c1c1c" stroke-width="1"/>
<line x1="485.35" y1="283.2" x2="485.35" y2="278.7" stroke="#1c1c1c" stroke-width="1"/>
<text x="485.35" y="298.9" font-size="12.6" fill="#111" text-anchor="middle">250</text>
<line x1="521.02" y1="283.2" x2="521.02" y2="280.7" stroke="#1c1c1c" stroke-width="1"/>
<line x1="556.7" y1="283.2" x2="556.7" y2="278.7" stroke="#1c1c1c" stroke-width="1"/>
<text x="556.7" y="298.9" font-size="12.6" fill="#111" text-anchor="middle">300</text>
<line x1="592.38" y1="283.2" x2="592.38" y2="280.7" stroke="#1c1c1c" stroke-width="1"/>
<line x1="628.05" y1="283.2" x2="628.05" y2="278.7" stroke="#1c1c1c" stroke-width="1"/>
<text x="628.05" y="298.9" font-size="12.6" fill="#111" text-anchor="middle">350</text>
<line x1="663.72" y1="283.2" x2="663.72" y2="280.7" stroke="#1c1c1c" stroke-width="1"/>
<text x="699.4" y="298.9" font-size="12.6" fill="#111" text-anchor="middle">400</text>
<text x="557" y="320.8" font-size="14.85" fill="#111" text-anchor="middle" font-family="'Liberation Serif',serif">Wavelength (nm)</text>
<rect x="525" y="35.3" width="164.5" height="144.7" fill="#fff" stroke="#8c8c8c" stroke-width="0.95"/>
<g clip-path="url(#ci)">
<path d="M525.46 148.95L528.65 137.59M530.18 134.63L532.16 132.18M534.27 129.52L536.29 126.93M538.79 124.71L540 123.97M543.09 122.61L543.93 122.37M547.23 121.6L548 121.46M550.8 119.87L552.67 117.74M555.03 117.63L556.66 119.16M558.83 121.75L561.08 125.17M562.78 128.11L565.36 133.26M566.61 136.41L569.75 147.02M570.83 150.25L573.76 158.18M575.45 161.07L577.36 163.33M579.94 165.47L581.1 166.13M584.21 167.43L585.05 167.67M588.37 168.38L589.12 168.48M592.49 168.87L593.22 168.93M596.61 169.17L597.33 169.21M600.73 169.31L601.44 169.31M604.84 169.31L605.55 169.31M608.95 169.31L609.66 169.31M613.06 169.31L613.77 169.31M617.18 169.31L617.89 169.31M621.29 169.31L622 169.31M625.4 169.31L626.11 169.31M629.51 169.31L630.22 169.31M633.62 169.31L634.34 169.31M637.74 169.31L638.45 169.31M641.85 169.31L642.56 169.31M645.96 169.31L646.67 169.31M650.08 169.31L650.79 169.31M654.19 169.31L654.9 169.31M658.3 169.31L659.01 169.31M662.41 169.31L663.12 169.31M666.53 169.31L667.24 169.31M670.64 169.31L671.35 169.31M674.75 169.31L675.46 169.31M678.86 169.31L679.57 169.31M682.98 169.31L683.69 169.31M687.09 169.31L687.8 169.31" fill="none" stroke="#7f9af7" stroke-width="1"/>
<rect x="523.8" y="149.38" width="2.4" height="2.4" fill="#7f9af7"/>
<rect x="527.91" y="134.75" width="2.4" height="2.4" fill="#7f9af7"/>
<rect x="532.02" y="129.66" width="2.4" height="2.4" fill="#7f9af7"/>
<rect x="536.14" y="124.39" width="2.4" height="2.4" fill="#7f9af7"/>
<rect x="540.25" y="121.88" width="2.4" height="2.4" fill="#7f9af7"/>
<rect x="544.36" y="120.71" width="2.4" height="2.4" fill="#7f9af7"/>
<rect x="548.47" y="119.95" width="2.4" height="2.4" fill="#7f9af7"/>
<rect x="552.59" y="115.26" width="2.4" height="2.4" fill="#7f9af7"/>
<rect x="556.7" y="119.13" width="2.4" height="2.4" fill="#7f9af7"/>
<rect x="560.81" y="125.39" width="2.4" height="2.4" fill="#7f9af7"/>
<rect x="564.92" y="133.58" width="2.4" height="2.4" fill="#7f9af7"/>
<rect x="569.04" y="147.45" width="2.4" height="2.4" fill="#7f9af7"/>
<rect x="573.15" y="158.57" width="2.4" height="2.4" fill="#7f9af7"/>
<rect x="577.26" y="163.43" width="2.4" height="2.4" fill="#7f9af7"/>
<rect x="581.38" y="165.77" width="2.4" height="2.4" fill="#7f9af7"/>
<rect x="585.49" y="166.94" width="2.4" height="2.4" fill="#7f9af7"/>
<rect x="589.6" y="167.52" width="2.4" height="2.4" fill="#7f9af7"/>
<rect x="593.71" y="167.88" width="2.4" height="2.4" fill="#7f9af7"/>
<rect x="597.82" y="168.11" width="2.4" height="2.4" fill="#7f9af7"/>
<rect x="601.94" y="168.11" width="2.4" height="2.4" fill="#7f9af7"/>
<rect x="606.05" y="168.11" width="2.4" height="2.4" fill="#7f9af7"/>
<rect x="610.16" y="168.11" width="2.4" height="2.4" fill="#7f9af7"/>
<rect x="614.27" y="168.11" width="2.4" height="2.4" fill="#7f9af7"/>
<rect x="618.39" y="168.11" width="2.4" height="2.4" fill="#7f9af7"/>
<rect x="622.5" y="168.11" width="2.4" height="2.4" fill="#7f9af7"/>
<rect x="626.61" y="168.11" width="2.4" height="2.4" fill="#7f9af7"/>
<rect x="630.72" y="168.11" width="2.4" height="2.4" fill="#7f9af7"/>
<rect x="634.84" y="168.11" width="2.4" height="2.4" fill="#7f9af7"/>
<rect x="638.95" y="168.11" width="2.4" height="2.4" fill="#7f9af7"/>
<rect x="643.06" y="168.11" width="2.4" height="2.4" fill="#7f9af7"/>
<rect x="647.17" y="168.11" width="2.4" height="2.4" fill="#7f9af7"/>
<rect x="651.29" y="168.11" width="2.4" height="2.4" fill="#7f9af7"/>
<rect x="655.4" y="168.11" width="2.4" height="2.4" fill="#7f9af7"/>
<rect x="659.51" y="168.11" width="2.4" height="2.4" fill="#7f9af7"/>
<rect x="663.62" y="168.11" width="2.4" height="2.4" fill="#7f9af7"/>
<rect x="667.74" y="168.11" width="2.4" height="2.4" fill="#7f9af7"/>
<rect x="671.85" y="168.11" width="2.4" height="2.4" fill="#7f9af7"/>
<rect x="675.96" y="168.11" width="2.4" height="2.4" fill="#7f9af7"/>
<rect x="680.07" y="168.11" width="2.4" height="2.4" fill="#7f9af7"/>
<rect x="684.19" y="168.11" width="2.4" height="2.4" fill="#7f9af7"/>
<rect x="688.3" y="168.11" width="2.4" height="2.4" fill="#7f9af7"/>
</g>
<g clip-path="url(#ci)">
<path d="M525.35 119.77L528.76 103.55M530.14 100.53L532.2 97.8M534.27 95.1L536.29 92.52M538.6 90.04L540.18 88.62M542.65 86.29L544.36 84.59M547.26 83.39L547.97 83.39M550.93 82.25L552.53 80.79M555.26 80.49L556.42 81.15M558.72 83.48L561.19 87.93M562.65 91L565.49 97.97M566.43 101.22L569.94 120.7M570.53 124.04L574.06 144.1M574.91 147.38L577.9 155.88M579.46 158.86L581.58 161.78M583.99 164.1L585.27 164.96M588.3 166.44L589.18 166.73M592.48 167.49L593.23 167.6M596.61 167.96L597.33 168.01M600.72 168.2L601.44 168.23M604.84 168.31L605.55 168.31M608.95 168.31L609.66 168.31M613.06 168.31L613.77 168.31M617.18 168.31L617.89 168.31M621.29 168.31L622 168.31M625.4 168.31L626.11 168.31M629.51 168.31L630.22 168.31M633.62 168.31L634.34 168.31M637.74 168.31L638.45 168.31M641.85 168.31L642.56 168.31M645.96 168.31L646.67 168.31M650.08 168.31L650.79 168.31M654.19 168.31L654.9 168.31M658.3 168.31L659.01 168.31M662.41 168.31L663.12 168.31M666.53 168.31L667.24 168.31M670.64 168.31L671.35 168.31M674.75 168.31L675.46 168.31M678.86 168.31L679.57 168.31M682.98 168.31L683.69 168.31M687.09 168.31L687.8 168.31" fill="none" stroke="#4361ee" stroke-width="1"/>
<rect x="523.8" y="120.23" width="2.4" height="2.4" fill="#4361ee"/>
<rect x="527.91" y="100.69" width="2.4" height="2.4" fill="#4361ee"/>
<rect x="532.02" y="95.24" width="2.4" height="2.4" fill="#4361ee"/>
<rect x="536.14" y="89.98" width="2.4" height="2.4" fill="#4361ee"/>
<rect x="540.25" y="86.29" width="2.4" height="2.4" fill="#4361ee"/>
<rect x="544.36" y="82.19" width="2.4" height="2.4" fill="#4361ee"/>
<rect x="548.47" y="82.19" width="2.4" height="2.4" fill="#4361ee"/>
<rect x="552.59" y="78.45" width="2.4" height="2.4" fill="#4361ee"/>
<rect x="556.7" y="80.79" width="2.4" height="2.4" fill="#4361ee"/>
<rect x="560.81" y="88.22" width="2.4" height="2.4" fill="#4361ee"/>
<rect x="564.92" y="98.34" width="2.4" height="2.4" fill="#4361ee"/>
<rect x="569.04" y="121.17" width="2.4" height="2.4" fill="#4361ee"/>
<rect x="573.15" y="144.58" width="2.4" height="2.4" fill="#4361ee"/>
<rect x="577.26" y="156.28" width="2.4" height="2.4" fill="#4361ee"/>
<rect x="581.38" y="161.96" width="2.4" height="2.4" fill="#4361ee"/>
<rect x="585.49" y="164.71" width="2.4" height="2.4" fill="#4361ee"/>
<rect x="589.6" y="166.05" width="2.4" height="2.4" fill="#4361ee"/>
<rect x="593.71" y="166.64" width="2.4" height="2.4" fill="#4361ee"/>
<rect x="597.82" y="166.93" width="2.4" height="2.4" fill="#4361ee"/>
<rect x="601.94" y="167.11" width="2.4" height="2.4" fill="#4361ee"/>
<rect x="606.05" y="167.11" width="2.4" height="2.4" fill="#4361ee"/>
<rect x="610.16" y="167.11" width="2.4" height="2.4" fill="#4361ee"/>
<rect x="614.27" y="167.11" width="2.4" height="2.4" fill="#4361ee"/>
<rect x="618.39" y="167.11" width="2.4" height="2.4" fill="#4361ee"/>
<rect x="622.5" y="167.11" width="2.4" height="2.4" fill="#4361ee"/>
<rect x="626.61" y="167.11" width="2.4" height="2.4" fill="#4361ee"/>
<rect x="630.72" y="167.11" width="2.4" height="2.4" fill="#4361ee"/>
<rect x="634.84" y="167.11" width="2.4" height="2.4" fill="#4361ee"/>
<rect x="638.95" y="167.11" width="2.4" height="2.4" fill="#4361ee"/>
<rect x="643.06" y="167.11" width="2.4" height="2.4" fill="#4361ee"/>
<rect x="647.17" y="167.11" width="2.4" height="2.4" fill="#4361ee"/>
<rect x="651.29" y="167.11" width="2.4" height="2.4" fill="#4361ee"/>
<rect x="655.4" y="167.11" width="2.4" height="2.4" fill="#4361ee"/>
<rect x="659.51" y="167.11" width="2.4" height="2.4" fill="#4361ee"/>
<rect x="663.62" y="167.11" width="2.4" height="2.4" fill="#4361ee"/>
<rect x="667.74" y="167.11" width="2.4" height="2.4" fill="#4361ee"/>
<rect x="671.85" y="167.11" width="2.4" height="2.4" fill="#4361ee"/>
<rect x="675.96" y="167.11" width="2.4" height="2.4" fill="#4361ee"/>
<rect x="680.07" y="167.11" width="2.4" height="2.4" fill="#4361ee"/>
<rect x="684.19" y="167.11" width="2.4" height="2.4" fill="#4361ee"/>
<rect x="688.3" y="167.11" width="2.4" height="2.4" fill="#4361ee"/>
</g>
<g clip-path="url(#ci)">
<path d="M525.17 117.75L528.94 80.4M530 77.26L532.33 73.49M534.02 70.54L536.54 65.76M538.46 62.98L540.33 60.85M542.86 58.63L544.15 57.77M547.26 56.82L547.97 56.82M550.31 55.25L553.15 48.28M554.54 48.23L557.15 53.54M558.37 56.7L561.55 67.89M562.46 71.16L565.68 82.92M566.34 86.25L570.02 115.41M570.49 118.78L574.1 143.16M574.9 146.45L577.91 155.29M579.41 158.3L581.62 161.57M583.96 163.97L585.3 164.92M588.3 166.44L589.18 166.73M592.48 167.49L593.23 167.6M596.61 167.96L597.33 168.01M600.72 168.2L601.44 168.23M604.84 168.31L605.55 168.31M608.95 168.31L609.66 168.31M613.06 168.31L613.77 168.31M617.18 168.31L617.89 168.31M621.29 168.31L622 168.31M625.4 168.31L626.11 168.31M629.51 168.31L630.22 168.31M633.62 168.31L634.34 168.31M637.74 168.31L638.45 168.31M641.85 168.31L642.56 168.31M645.96 168.31L646.67 168.31M650.08 168.31L650.79 168.31M654.19 168.31L654.9 168.31M658.3 168.31L659.01 168.31M662.41 168.31L663.12 168.31M666.53 168.31L667.24 168.31M670.64 168.31L671.35 168.31M674.75 168.31L675.46 168.31M678.86 168.31L679.57 168.31M682.98 168.31L683.69 168.31M687.09 168.31L687.8 168.31" fill="none" stroke="#f5921e" stroke-width="1"/>
<rect x="523.8" y="118.24" width="2.4" height="2.4" fill="#f5921e"/>
<rect x="527.91" y="77.51" width="2.4" height="2.4" fill="#f5921e"/>
<rect x="532.02" y="70.84" width="2.4" height="2.4" fill="#f5921e"/>
<rect x="536.14" y="63.06" width="2.4" height="2.4" fill="#f5921e"/>
<rect x="540.25" y="58.37" width="2.4" height="2.4" fill="#f5921e"/>
<rect x="544.36" y="55.62" width="2.4" height="2.4" fill="#f5921e"/>
<rect x="548.47" y="55.62" width="2.4" height="2.4" fill="#f5921e"/>
<rect x="552.59" y="45.5" width="2.4" height="2.4" fill="#f5921e"/>
<rect x="556.7" y="53.87" width="2.4" height="2.4" fill="#f5921e"/>
<rect x="560.81" y="68.32" width="2.4" height="2.4" fill="#f5921e"/>
<rect x="564.92" y="83.36" width="2.4" height="2.4" fill="#f5921e"/>
<rect x="569.04" y="115.9" width="2.4" height="2.4" fill="#f5921e"/>
<rect x="573.15" y="143.64" width="2.4" height="2.4" fill="#f5921e"/>
<rect x="577.26" y="155.7" width="2.4" height="2.4" fill="#f5921e"/>
<rect x="581.38" y="161.78" width="2.4" height="2.4" fill="#f5921e"/>
<rect x="585.49" y="164.71" width="2.4" height="2.4" fill="#f5921e"/>
<rect x="589.6" y="166.05" width="2.4" height="2.4" fill="#f5921e"/>
<rect x="593.71" y="166.64" width="2.4" height="2.4" fill="#f5921e"/>
<rect x="597.82" y="166.93" width="2.4" height="2.4" fill="#f5921e"/>
<rect x="601.94" y="167.11" width="2.4" height="2.4" fill="#f5921e"/>
<rect x="606.05" y="167.11" width="2.4" height="2.4" fill="#f5921e"/>
<rect x="610.16" y="167.11" width="2.4" height="2.4" fill="#f5921e"/>
<rect x="614.27" y="167.11" width="2.4" height="2.4" fill="#f5921e"/>
<rect x="618.39" y="167.11" width="2.4" height="2.4" fill="#f5921e"/>
<rect x="622.5" y="167.11" width="2.4" height="2.4" fill="#f5921e"/>
<rect x="626.61" y="167.11" width="2.4" height="2.4" fill="#f5921e"/>
<rect x="630.72" y="167.11" width="2.4" height="2.4" fill="#f5921e"/>
<rect x="634.84" y="167.11" width="2.4" height="2.4" fill="#f5921e"/>
<rect x="638.95" y="167.11" width="2.4" height="2.4" fill="#f5921e"/>
<rect x="643.06" y="167.11" width="2.4" height="2.4" fill="#f5921e"/>
<rect x="647.17" y="167.11" width="2.4" height="2.4" fill="#f5921e"/>
<rect x="651.29" y="167.11" width="2.4" height="2.4" fill="#f5921e"/>
<rect x="655.4" y="167.11" width="2.4" height="2.4" fill="#f5921e"/>
<rect x="659.51" y="167.11" width="2.4" height="2.4" fill="#f5921e"/>
<rect x="663.62" y="167.11" width="2.4" height="2.4" fill="#f5921e"/>
<rect x="667.74" y="167.11" width="2.4" height="2.4" fill="#f5921e"/>
<rect x="671.85" y="167.11" width="2.4" height="2.4" fill="#f5921e"/>
<rect x="675.96" y="167.11" width="2.4" height="2.4" fill="#f5921e"/>
<rect x="680.07" y="167.11" width="2.4" height="2.4" fill="#f5921e"/>
<rect x="684.19" y="167.11" width="2.4" height="2.4" fill="#f5921e"/>
<rect x="688.3" y="167.11" width="2.4" height="2.4" fill="#f5921e"/>
</g>
<g clip-path="url(#ci)">
<path d="M525.31 138.25L528.8 119.77M529.46 116.43L532.88 100.04M534.91 98.61L535.65 98.72M539.04 98.96L539.75 98.96M542.71 100.1L544.31 101.56M546.61 101.37L548.63 98.78M550.85 96.21L552.62 94.34M555.45 92.73L556.24 92.55M558.51 90.58L561.41 82.99M562.62 82.99L565.52 90.58M566.37 93.85L569.99 118.75M570.52 122.11L574.07 143.34M574.9 146.62L577.91 155.4M579.44 158.4L581.6 161.47M583.96 163.85L585.3 164.81M588.29 166.36L589.2 166.68M592.48 167.49L593.23 167.6M596.61 167.96L597.33 168.01M600.72 168.2L601.44 168.23M604.84 168.31L605.55 168.31M608.95 168.31L609.66 168.31M613.06 168.31L613.77 168.31M617.18 168.31L617.89 168.31M621.29 168.31L622 168.31M625.4 168.31L626.11 168.31M629.51 168.31L630.22 168.31M633.62 168.31L634.34 168.31M637.74 168.31L638.45 168.31M641.85 168.31L642.56 168.31M645.96 168.31L646.67 168.31M650.08 168.31L650.79 168.31M654.19 168.31L654.9 168.31M658.3 168.31L659.01 168.31M662.41 168.31L663.12 168.31M666.53 168.31L667.24 168.31M670.64 168.31L671.35 168.31M674.75 168.31L675.46 168.31M678.86 168.31L679.57 168.31M682.98 168.31L683.69 168.31M687.09 168.31L687.8 168.31" fill="none" stroke="#66e8f4" stroke-width="1"/>
<rect x="523.8" y="138.72" width="2.4" height="2.4" fill="#66e8f4"/>
<rect x="527.91" y="116.9" width="2.4" height="2.4" fill="#66e8f4"/>
<rect x="532.02" y="97.17" width="2.4" height="2.4" fill="#66e8f4"/>
<rect x="536.14" y="97.76" width="2.4" height="2.4" fill="#66e8f4"/>
<rect x="540.25" y="97.76" width="2.4" height="2.4" fill="#66e8f4"/>
<rect x="544.36" y="101.5" width="2.4" height="2.4" fill="#66e8f4"/>
<rect x="548.47" y="96.24" width="2.4" height="2.4" fill="#66e8f4"/>
<rect x="552.59" y="91.91" width="2.4" height="2.4" fill="#66e8f4"/>
<rect x="556.7" y="90.97" width="2.4" height="2.4" fill="#66e8f4"/>
<rect x="560.81" y="80.2" width="2.4" height="2.4" fill="#66e8f4"/>
<rect x="564.92" y="90.97" width="2.4" height="2.4" fill="#66e8f4"/>
<rect x="569.04" y="119.24" width="2.4" height="2.4" fill="#66e8f4"/>
<rect x="573.15" y="143.82" width="2.4" height="2.4" fill="#66e8f4"/>
<rect x="577.26" y="155.81" width="2.4" height="2.4" fill="#66e8f4"/>
<rect x="581.38" y="161.66" width="2.4" height="2.4" fill="#66e8f4"/>
<rect x="585.49" y="164.59" width="2.4" height="2.4" fill="#66e8f4"/>
<rect x="589.6" y="166.05" width="2.4" height="2.4" fill="#66e8f4"/>
<rect x="593.71" y="166.64" width="2.4" height="2.4" fill="#66e8f4"/>
<rect x="597.82" y="166.93" width="2.4" height="2.4" fill="#66e8f4"/>
<rect x="601.94" y="167.11" width="2.4" height="2.4" fill="#66e8f4"/>
<rect x="606.05" y="167.11" width="2.4" height="2.4" fill="#66e8f4"/>
<rect x="610.16" y="167.11" width="2.4" height="2.4" fill="#66e8f4"/>
<rect x="614.27" y="167.11" width="2.4" height="2.4" fill="#66e8f4"/>
<rect x="618.39" y="167.11" width="2.4" height="2.4" fill="#66e8f4"/>
<rect x="622.5" y="167.11" width="2.4" height="2.4" fill="#66e8f4"/>
<rect x="626.61" y="167.11" width="2.4" height="2.4" fill="#66e8f4"/>
<rect x="630.72" y="167.11" width="2.4" height="2.4" fill="#66e8f4"/>
<rect x="634.84" y="167.11" width="2.4" height="2.4" fill="#66e8f4"/>
<rect x="638.95" y="167.11" width="2.4" height="2.4" fill="#66e8f4"/>
<rect x="643.06" y="167.11" width="2.4" height="2.4" fill="#66e8f4"/>
<rect x="647.17" y="167.11" width="2.4" height="2.4" fill="#66e8f4"/>
<rect x="651.29" y="167.11" width="2.4" height="2.4" fill="#66e8f4"/>
<rect x="655.4" y="167.11" width="2.4" height="2.4" fill="#66e8f4"/>
<rect x="659.51" y="167.11" width="2.4" height="2.4" fill="#66e8f4"/>
<rect x="663.62" y="167.11" width="2.4" height="2.4" fill="#66e8f4"/>
<rect x="667.74" y="167.11" width="2.4" height="2.4" fill="#66e8f4"/>
<rect x="671.85" y="167.11" width="2.4" height="2.4" fill="#66e8f4"/>
<rect x="675.96" y="167.11" width="2.4" height="2.4" fill="#66e8f4"/>
<rect x="680.07" y="167.11" width="2.4" height="2.4" fill="#66e8f4"/>
<rect x="684.19" y="167.11" width="2.4" height="2.4" fill="#66e8f4"/>
<rect x="688.3" y="167.11" width="2.4" height="2.4" fill="#66e8f4"/>
</g>
<g clip-path="url(#ci)">
<path d="M525.55 131.53L528.57 122.63M530.41 119.92L531.93 118.61M534.92 117.34L535.65 117.27M538.93 116.51L539.86 116.17M542.93 114.74L544.09 114.08M547.09 112.5L548.14 111.99M550.88 110.05L552.58 108.35M555.46 106.84L556.23 106.7M559.52 106.92L560.4 107.21M562.95 109.16L565.19 112.58M566.57 115.64L569.79 127.57M570.65 130.87L573.94 144.13M574.96 147.36L577.86 154.96M579.44 157.94L581.6 161.01M583.89 163.48L585.38 164.71M588.33 166.21L589.15 166.42M592.48 167.08L593.23 167.19M596.6 167.6L597.33 167.67M600.72 167.91L601.44 167.94M604.84 168.09L605.55 168.12M608.95 168.19L609.66 168.19M613.06 168.19L613.77 168.19M617.18 168.19L617.89 168.19M621.29 168.19L622 168.19M625.4 168.19L626.11 168.19M629.51 168.19L630.22 168.19M633.62 168.19L634.34 168.19M637.74 168.19L638.45 168.19M641.85 168.19L642.56 168.19M645.96 168.19L646.67 168.19M650.08 168.19L650.79 168.19M654.19 168.19L654.9 168.19M658.3 168.19L659.01 168.19M662.41 168.19L663.12 168.19M666.53 168.19L667.24 168.19M670.64 168.19L671.35 168.19M674.75 168.19L675.46 168.19M678.86 168.19L679.57 168.19M682.98 168.19L683.69 168.19M687.09 168.19L687.8 168.19" fill="none" stroke="#8fd973" stroke-width="1"/>
<rect x="523.8" y="131.94" width="2.4" height="2.4" fill="#8fd973"/>
<rect x="527.91" y="119.82" width="2.4" height="2.4" fill="#8fd973"/>
<rect x="532.02" y="116.31" width="2.4" height="2.4" fill="#8fd973"/>
<rect x="536.14" y="115.9" width="2.4" height="2.4" fill="#8fd973"/>
<rect x="540.25" y="114.38" width="2.4" height="2.4" fill="#8fd973"/>
<rect x="544.36" y="112.04" width="2.4" height="2.4" fill="#8fd973"/>
<rect x="548.47" y="110.05" width="2.4" height="2.4" fill="#8fd973"/>
<rect x="552.59" y="105.95" width="2.4" height="2.4" fill="#8fd973"/>
<rect x="556.7" y="105.19" width="2.4" height="2.4" fill="#8fd973"/>
<rect x="560.81" y="106.54" width="2.4" height="2.4" fill="#8fd973"/>
<rect x="564.92" y="112.8" width="2.4" height="2.4" fill="#8fd973"/>
<rect x="569.04" y="128.02" width="2.4" height="2.4" fill="#8fd973"/>
<rect x="573.15" y="144.58" width="2.4" height="2.4" fill="#8fd973"/>
<rect x="577.26" y="155.34" width="2.4" height="2.4" fill="#8fd973"/>
<rect x="581.38" y="161.2" width="2.4" height="2.4" fill="#8fd973"/>
<rect x="585.49" y="164.59" width="2.4" height="2.4" fill="#8fd973"/>
<rect x="589.6" y="165.64" width="2.4" height="2.4" fill="#8fd973"/>
<rect x="593.71" y="166.23" width="2.4" height="2.4" fill="#8fd973"/>
<rect x="597.82" y="166.64" width="2.4" height="2.4" fill="#8fd973"/>
<rect x="601.94" y="166.81" width="2.4" height="2.4" fill="#8fd973"/>
<rect x="606.05" y="166.99" width="2.4" height="2.4" fill="#8fd973"/>
<rect x="610.16" y="166.99" width="2.4" height="2.4" fill="#8fd973"/>
<rect x="614.27" y="166.99" width="2.4" height="2.4" fill="#8fd973"/>
<rect x="618.39" y="166.99" width="2.4" height="2.4" fill="#8fd973"/>
<rect x="622.5" y="166.99" width="2.4" height="2.4" fill="#8fd973"/>
<rect x="626.61" y="166.99" width="2.4" height="2.4" fill="#8fd973"/>
<rect x="630.72" y="166.99" width="2.4" height="2.4" fill="#8fd973"/>
<rect x="634.84" y="166.99" width="2.4" height="2.4" fill="#8fd973"/>
<rect x="638.95" y="166.99" width="2.4" height="2.4" fill="#8fd973"/>
<rect x="643.06" y="166.99" width="2.4" height="2.4" fill="#8fd973"/>
<rect x="647.17" y="166.99" width="2.4" height="2.4" fill="#8fd973"/>
<rect x="651.29" y="166.99" width="2.4" height="2.4" fill="#8fd973"/>
<rect x="655.4" y="166.99" width="2.4" height="2.4" fill="#8fd973"/>
<rect x="659.51" y="166.99" width="2.4" height="2.4" fill="#8fd973"/>
<rect x="663.62" y="166.99" width="2.4" height="2.4" fill="#8fd973"/>
<rect x="667.74" y="166.99" width="2.4" height="2.4" fill="#8fd973"/>
<rect x="671.85" y="166.99" width="2.4" height="2.4" fill="#8fd973"/>
<rect x="675.96" y="166.99" width="2.4" height="2.4" fill="#8fd973"/>
<rect x="680.07" y="166.99" width="2.4" height="2.4" fill="#8fd973"/>
<rect x="684.19" y="166.99" width="2.4" height="2.4" fill="#8fd973"/>
<rect x="688.3" y="166.99" width="2.4" height="2.4" fill="#8fd973"/>
</g>
<rect x="525" y="35.3" width="164.5" height="144.7" fill="none" stroke="#8c8c8c" stroke-width="0.95"/>
<line x1="525" y1="52.3" x2="528.5" y2="52.3" stroke="#777" stroke-width="1"/>
<line x1="525" y1="81.3" x2="528.5" y2="81.3" stroke="#777" stroke-width="1"/>
<line x1="525" y1="110.4" x2="528.5" y2="110.4" stroke="#777" stroke-width="1"/>
<line x1="525" y1="139.5" x2="528.5" y2="139.5" stroke="#777" stroke-width="1"/>
<line x1="525" y1="168.5" x2="528.5" y2="168.5" stroke="#777" stroke-width="1"/>
<text x="525" y="191.7" font-size="11.2" fill="#111" text-anchor="middle">200</text>
<line x1="545.56" y1="180" x2="545.56" y2="178" stroke="#777" stroke-width="1"/>
<line x1="566.12" y1="180" x2="566.12" y2="176.5" stroke="#777" stroke-width="1"/>
<text x="566.12" y="191.7" font-size="11.2" fill="#111" text-anchor="middle">250</text>
<line x1="586.69" y1="180" x2="586.69" y2="178" stroke="#777" stroke-width="1"/>
<line x1="607.25" y1="180" x2="607.25" y2="176.5" stroke="#777" stroke-width="1"/>
<text x="607.25" y="191.7" font-size="11.2" fill="#111" text-anchor="middle">300</text>
<line x1="627.81" y1="180" x2="627.81" y2="178" stroke="#777" stroke-width="1"/>
<line x1="648.38" y1="180" x2="648.38" y2="176.5" stroke="#777" stroke-width="1"/>
<text x="648.38" y="191.7" font-size="11.2" fill="#111" text-anchor="middle">350</text>
<line x1="668.94" y1="180" x2="668.94" y2="178" stroke="#777" stroke-width="1"/>
<text x="689.5" y="191.7" font-size="11.2" fill="#111" text-anchor="middle">400</text>
<text x="606.8" y="209" font-size="11.5" fill="#111" text-anchor="middle">Wavelength (nm)</text>
<text x="508" y="100.5" font-size="11.8" fill="#111" text-anchor="middle" transform="rotate(-90 508 100.5)">Current (a.u.)</text>
<line x1="583.7" y1="50.7" x2="594" y2="50.7" stroke="#7f9af7" stroke-width="1.3"/>
<line x1="601.4" y1="50.7" x2="611.7" y2="50.7" stroke="#7f9af7" stroke-width="1.3"/>
<rect x="595.5" y="48.5" width="4.4" height="4.4" fill="#fff" stroke="#7f9af7" stroke-width="0.6" stroke-opacity="0.7"/>
<rect x="595.15" y="48.15" width="5.1" height="2.55" fill="#7f9af7"/>
<text x="616.3" y="55" font-size="12.2" fill="#111">Pristine</text>
<line x1="583.7" y1="66.5" x2="594" y2="66.5" stroke="#4361ee" stroke-width="1.3"/>
<line x1="601.4" y1="66.5" x2="611.7" y2="66.5" stroke="#4361ee" stroke-width="1.3"/>
<rect x="595.5" y="64.3" width="4.4" height="4.4" fill="#fff" stroke="#4361ee" stroke-width="0.6" stroke-opacity="0.7"/>
<rect x="595.15" y="63.95" width="5.1" height="2.55" fill="#4361ee"/>
<text x="616.3" y="70.8" font-size="12.2" fill="#111">NG-P200</text>
<line x1="583.7" y1="82" x2="594" y2="82" stroke="#f5921e" stroke-width="1.3"/>
<line x1="601.4" y1="82" x2="611.7" y2="82" stroke="#f5921e" stroke-width="1.3"/>
<rect x="595.5" y="79.8" width="4.4" height="4.4" fill="#fff" stroke="#f5921e" stroke-width="0.6" stroke-opacity="0.7"/>
<rect x="595.15" y="79.45" width="5.1" height="2.55" fill="#f5921e"/>
<text x="616.3" y="86.3" font-size="12.2" fill="#111">NG-P300</text>
<line x1="583.7" y1="97.5" x2="594" y2="97.5" stroke="#66e8f4" stroke-width="1.3"/>
<line x1="601.4" y1="97.5" x2="611.7" y2="97.5" stroke="#66e8f4" stroke-width="1.3"/>
<rect x="595.5" y="95.3" width="4.4" height="4.4" fill="#fff" stroke="#66e8f4" stroke-width="0.6" stroke-opacity="0.7"/>
<rect x="595.15" y="94.95" width="5.1" height="2.55" fill="#66e8f4"/>
<text x="616.3" y="101.8" font-size="12.2" fill="#111">NG-P400</text>
<line x1="583.7" y1="113" x2="594" y2="113" stroke="#8fd973" stroke-width="1.3"/>
<line x1="601.4" y1="113" x2="611.7" y2="113" stroke="#8fd973" stroke-width="1.3"/>
<rect x="595.5" y="110.8" width="4.4" height="4.4" fill="#fff" stroke="#8fd973" stroke-width="0.6" stroke-opacity="0.7"/>
<rect x="595.15" y="110.45" width="5.1" height="2.55" fill="#8fd973"/>
<text x="616.3" y="117.3" font-size="12.2" fill="#111">NG-P500</text>
</g>
<g id="panel-c">
<defs><clipPath id="cc"><rect x="749.1" y="29.8" width="286.2" height="253.4"/></clipPath></defs>
<text x="712.3" y="45.8" font-size="24.6" fill="#111">(c)</text>
<text x="728.8" y="157" font-size="12.5" fill="#111" text-anchor="middle" transform="rotate(-90 728.8 157)">Detectivity (a.u.)</text>
<g clip-path="url(#cc)">
<path d="M752.42 266.03L753.91 265.67M759.58 264.48L761.01 264.22M766.73 263.3L768.12 263.1M773.89 262.54L775.22 262.46M781.02 262.18L782.35 262.12M788.15 261.88L789.48 261.82M795.25 261.3L796.64 261.1M802.38 261.1L803.77 261.3M809.47 262.33L810.94 262.67M816.59 263.97L818.08 264.33M823.61 266.03L825.32 266.67M830.7 268.82L832.49 269.58M838.01 271.22L839.44 271.48M845.18 272.28L846.53 272.42M852.31 272.9L853.66 273M859.45 273.2L860.78 273.2M866.58 273.2L867.91 273.2M873.71 273.2L875.04 273.2M880.84 273.2L882.17 273.2M887.97 273.2L889.3 273.2M895.1 273.2L896.43 273.2M902.23 273.2L903.56 273.2M909.36 273.2L910.69 273.2M916.49 273.2L917.82 273.2M923.62 273.2L924.95 273.2M930.75 273.2L932.08 273.2M937.88 273.2L939.21 273.2M945.01 273.2L946.34 273.2M952.14 273.2L953.47 273.2M959.27 273.2L960.6 273.2M966.4 273.2L967.73 273.2M973.53 273.2L974.86 273.2M980.66 273.2L981.99 273.2M987.79 273.2L989.12 273.2M994.92 273.2L996.25 273.2M1002.05 273.2L1003.38 273.2M1009.18 273.2L1010.51 273.2M1016.31 273.2L1017.64 273.2M1023.44 273.2L1024.77 273.2M1030.57 273.2L1031.9 273.2" fill="none" stroke="#7f9af7" stroke-width="1.1"/>
<rect x="747.5" y="264.6" width="4.2" height="4.2" fill="#fff" stroke="#7f9af7" stroke-width="0.6" stroke-opacity="0.7"/>
<rect x="747.15" y="264.25" width="4.9" height="2.45" fill="#7f9af7"/>
<rect x="754.63" y="262.9" width="4.2" height="4.2" fill="#fff" stroke="#7f9af7" stroke-width="0.6" stroke-opacity="0.7"/>
<rect x="754.28" y="262.55" width="4.9" height="2.45" fill="#7f9af7"/>
<rect x="761.76" y="261.6" width="4.2" height="4.2" fill="#fff" stroke="#7f9af7" stroke-width="0.6" stroke-opacity="0.7"/>
<rect x="761.41" y="261.25" width="4.9" height="2.45" fill="#7f9af7"/>
<rect x="768.89" y="260.6" width="4.2" height="4.2" fill="#fff" stroke="#7f9af7" stroke-width="0.6" stroke-opacity="0.7"/>
<rect x="768.54" y="260.25" width="4.9" height="2.45" fill="#7f9af7"/>
<rect x="776.02" y="260.2" width="4.2" height="4.2" fill="#fff" stroke="#7f9af7" stroke-width="0.6" stroke-opacity="0.7"/>
<rect x="775.67" y="259.85" width="4.9" height="2.45" fill="#7f9af7"/>
<rect x="783.15" y="259.9" width="4.2" height="4.2" fill="#fff" stroke="#7f9af7" stroke-width="0.6" stroke-opacity="0.7"/>
<rect x="782.8" y="259.55" width="4.9" height="2.45" fill="#7f9af7"/>
<rect x="790.28" y="259.6" width="4.2" height="4.2" fill="#fff" stroke="#7f9af7" stroke-width="0.6" stroke-opacity="0.7"/>
<rect x="789.93" y="259.25" width="4.9" height="2.45" fill="#7f9af7"/>
<rect x="797.41" y="258.6" width="4.2" height="4.2" fill="#fff" stroke="#7f9af7" stroke-width="0.6" stroke-opacity="0.7"/>
<rect x="797.06" y="258.25" width="4.9" height="2.45" fill="#7f9af7"/>
<rect x="804.54" y="259.6" width="4.2" height="4.2" fill="#fff" stroke="#7f9af7" stroke-width="0.6" stroke-opacity="0.7"/>
<rect x="804.19" y="259.25" width="4.9" height="2.45" fill="#7f9af7"/>
<rect x="811.67" y="261.2" width="4.2" height="4.2" fill="#fff" stroke="#7f9af7" stroke-width="0.6" stroke-opacity="0.7"/>
<rect x="811.32" y="260.85" width="4.9" height="2.45" fill="#7f9af7"/>
<rect x="818.8" y="262.9" width="4.2" height="4.2" fill="#fff" stroke="#7f9af7" stroke-width="0.6" stroke-opacity="0.7"/>
<rect x="818.45" y="262.55" width="4.9" height="2.45" fill="#7f9af7"/>
<rect x="825.93" y="265.6" width="4.2" height="4.2" fill="#fff" stroke="#7f9af7" stroke-width="0.6" stroke-opacity="0.7"/>
<rect x="825.58" y="265.25" width="4.9" height="2.45" fill="#7f9af7"/>
<rect x="833.06" y="268.6" width="4.2" height="4.2" fill="#fff" stroke="#7f9af7" stroke-width="0.6" stroke-opacity="0.7"/>
<rect x="832.71" y="268.25" width="4.9" height="2.45" fill="#7f9af7"/>
<rect x="840.19" y="269.9" width="4.2" height="4.2" fill="#fff" stroke="#7f9af7" stroke-width="0.6" stroke-opacity="0.7"/>
<rect x="839.84" y="269.55" width="4.9" height="2.45" fill="#7f9af7"/>
<rect x="847.32" y="270.6" width="4.2" height="4.2" fill="#fff" stroke="#7f9af7" stroke-width="0.6" stroke-opacity="0.7"/>
<rect x="846.97" y="270.25" width="4.9" height="2.45" fill="#7f9af7"/>
<rect x="854.45" y="271.1" width="4.2" height="4.2" fill="#fff" stroke="#7f9af7" stroke-width="0.6" stroke-opacity="0.7"/>
<rect x="854.1" y="270.75" width="4.9" height="2.45" fill="#7f9af7"/>
<rect x="861.58" y="271.1" width="4.2" height="4.2" fill="#fff" stroke="#7f9af7" stroke-width="0.6" stroke-opacity="0.7"/>
<rect x="861.23" y="270.75" width="4.9" height="2.45" fill="#7f9af7"/>
<rect x="868.71" y="271.1" width="4.2" height="4.2" fill="#fff" stroke="#7f9af7" stroke-width="0.6" stroke-opacity="0.7"/>
<rect x="868.36" y="270.75" width="4.9" height="2.45" fill="#7f9af7"/>
<rect x="875.84" y="271.1" width="4.2" height="4.2" fill="#fff" stroke="#7f9af7" stroke-width="0.6" stroke-opacity="0.7"/>
<rect x="875.49" y="270.75" width="4.9" height="2.45" fill="#7f9af7"/>
<rect x="882.97" y="271.1" width="4.2" height="4.2" fill="#fff" stroke="#7f9af7" stroke-width="0.6" stroke-opacity="0.7"/>
<rect x="882.62" y="270.75" width="4.9" height="2.45" fill="#7f9af7"/>
<rect x="890.1" y="271.1" width="4.2" height="4.2" fill="#fff" stroke="#7f9af7" stroke-width="0.6" stroke-opacity="0.7"/>
<rect x="889.75" y="270.75" width="4.9" height="2.45" fill="#7f9af7"/>
<rect x="897.23" y="271.1" width="4.2" height="4.2" fill="#fff" stroke="#7f9af7" stroke-width="0.6" stroke-opacity="0.7"/>
<rect x="896.88" y="270.75" width="4.9" height="2.45" fill="#7f9af7"/>
<rect x="904.36" y="271.1" width="4.2" height="4.2" fill="#fff" stroke="#7f9af7" stroke-width="0.6" stroke-opacity="0.7"/>
<rect x="904.01" y="270.75" width="4.9" height="2.45" fill="#7f9af7"/>
<rect x="911.49" y="271.1" width="4.2" height="4.2" fill="#fff" stroke="#7f9af7" stroke-width="0.6" stroke-opacity="0.7"/>
<rect x="911.14" y="270.75" width="4.9" height="2.45" fill="#7f9af7"/>
<rect x="918.62" y="271.1" width="4.2" height="4.2" fill="#fff" stroke="#7f9af7" stroke-width="0.6" stroke-opacity="0.7"/>
<rect x="918.27" y="270.75" width="4.9" height="2.45" fill="#7f9af7"/>
<rect x="925.75" y="271.1" width="4.2" height="4.2" fill="#fff" stroke="#7f9af7" stroke-width="0.6" stroke-opacity="0.7"/>
<rect x="925.4" y="270.75" width="4.9" height="2.45" fill="#7f9af7"/>
<rect x="932.88" y="271.1" width="4.2" height="4.2" fill="#fff" stroke="#7f9af7" stroke-width="0.6" stroke-opacity="0.7"/>
<rect x="932.53" y="270.75" width="4.9" height="2.45" fill="#7f9af7"/>
<rect x="940.01" y="271.1" width="4.2" height="4.2" fill="#fff" stroke="#7f9af7" stroke-width="0.6" stroke-opacity="0.7"/>
<rect x="939.66" y="270.75" width="4.9" height="2.45" fill="#7f9af7"/>
<rect x="947.14" y="271.1" width="4.2" height="4.2" fill="#fff" stroke="#7f9af7" stroke-width="0.6" stroke-opacity="0.7"/>
<rect x="946.79" y="270.75" width="4.9" height="2.45" fill="#7f9af7"/>
<rect x="954.27" y="271.1" width="4.2" height="4.2" fill="#fff" stroke="#7f9af7" stroke-width="0.6" stroke-opacity="0.7"/>
<rect x="953.92" y="270.75" width="4.9" height="2.45" fill="#7f9af7"/>
<rect x="961.4" y="271.1" width="4.2" height="4.2" fill="#fff" stroke="#7f9af7" stroke-width="0.6" stroke-opacity="0.7"/>
<rect x="961.05" y="270.75" width="4.9" height="2.45" fill="#7f9af7"/>
<rect x="968.53" y="271.1" width="4.2" height="4.2" fill="#fff" stroke="#7f9af7" stroke-width="0.6" stroke-opacity="0.7"/>
<rect x="968.18" y="270.75" width="4.9" height="2.45" fill="#7f9af7"/>
<rect x="975.66" y="271.1" width="4.2" height="4.2" fill="#fff" stroke="#7f9af7" stroke-width="0.6" stroke-opacity="0.7"/>
<rect x="975.31" y="270.75" width="4.9" height="2.45" fill="#7f9af7"/>
<rect x="982.79" y="271.1" width="4.2" height="4.2" fill="#fff" stroke="#7f9af7" stroke-width="0.6" stroke-opacity="0.7"/>
<rect x="982.44" y="270.75" width="4.9" height="2.45" fill="#7f9af7"/>
<rect x="989.92" y="271.1" width="4.2" height="4.2" fill="#fff" stroke="#7f9af7" stroke-width="0.6" stroke-opacity="0.7"/>
<rect x="989.57" y="270.75" width="4.9" height="2.45" fill="#7f9af7"/>
<rect x="997.05" y="271.1" width="4.2" height="4.2" fill="#fff" stroke="#7f9af7" stroke-width="0.6" stroke-opacity="0.7"/>
<rect x="996.7" y="270.75" width="4.9" height="2.45" fill="#7f9af7"/>
<rect x="1004.18" y="271.1" width="4.2" height="4.2" fill="#fff" stroke="#7f9af7" stroke-width="0.6" stroke-opacity="0.7"/>
<rect x="1003.83" y="270.75" width="4.9" height="2.45" fill="#7f9af7"/>
<rect x="1011.31" y="271.1" width="4.2" height="4.2" fill="#fff" stroke="#7f9af7" stroke-width="0.6" stroke-opacity="0.7"/>
<rect x="1010.96" y="270.75" width="4.9" height="2.45" fill="#7f9af7"/>
<rect x="1018.44" y="271.1" width="4.2" height="4.2" fill="#fff" stroke="#7f9af7" stroke-width="0.6" stroke-opacity="0.7"/>
<rect x="1018.09" y="270.75" width="4.9" height="2.45" fill="#7f9af7"/>
<rect x="1025.57" y="271.1" width="4.2" height="4.2" fill="#fff" stroke="#7f9af7" stroke-width="0.6" stroke-opacity="0.7"/>
<rect x="1025.22" y="270.75" width="4.9" height="2.45" fill="#7f9af7"/>
<rect x="1032.7" y="271.1" width="4.2" height="4.2" fill="#fff" stroke="#7f9af7" stroke-width="0.6" stroke-opacity="0.7"/>
<rect x="1032.35" y="270.75" width="4.9" height="2.45" fill="#7f9af7"/>
</g>
<g clip-path="url(#cc)">
<path d="M750.01 152.13L756.32 108.17M758.12 102.76L762.47 94.84M765.23 89.74L769.62 81.56M772.75 76.7L776.36 72M779.76 67.31L783.61 61.69M788.14 59.58L789.49 59.72M794.06 57.64L797.83 52.36M801.62 51.99L804.53 54.71M807.73 59.39L812.68 71.61M814.55 77.09L820.12 96.91M821.25 102.58L827.68 156.12M828.38 161.88L834.81 214.42M835.82 220.12L841.63 244.88M843.64 250.27L848.07 258.73M851.89 262.82L854.08 264.18M859.34 266.48L860.89 266.92M866.53 268.22L867.96 268.48M873.66 269.52L875.09 269.78M880.83 270.58L882.18 270.72M887.96 271.2L889.31 271.3M895.09 271.7L896.44 271.8M902.23 272L903.56 272M909.36 272L910.69 272M916.49 272L917.82 272M923.62 272L924.95 272M930.75 272L932.08 272M937.88 272L939.21 272M945.01 272L946.34 272M952.14 272L953.47 272M959.27 272L960.6 272M966.4 272L967.73 272M973.53 272L974.86 272M980.66 272L981.99 272M987.79 272L989.12 272M994.92 272L996.25 272M1002.05 272L1003.38 272M1009.18 272L1010.51 272M1016.31 272L1017.64 272M1023.44 272L1024.77 272M1030.57 272L1031.9 272" fill="none" stroke="#4361ee" stroke-width="1.1"/>
<rect x="747.5" y="152.9" width="4.2" height="4.2" fill="#fff" stroke="#4361ee" stroke-width="0.6" stroke-opacity="0.7"/>
<rect x="747.15" y="152.55" width="4.9" height="2.45" fill="#4361ee"/>
<rect x="754.63" y="103.2" width="4.2" height="4.2" fill="#fff" stroke="#4361ee" stroke-width="0.6" stroke-opacity="0.7"/>
<rect x="754.28" y="102.85" width="4.9" height="2.45" fill="#4361ee"/>
<rect x="761.76" y="90.2" width="4.2" height="4.2" fill="#fff" stroke="#4361ee" stroke-width="0.6" stroke-opacity="0.7"/>
<rect x="761.41" y="89.85" width="4.9" height="2.45" fill="#4361ee"/>
<rect x="768.89" y="76.9" width="4.2" height="4.2" fill="#fff" stroke="#4361ee" stroke-width="0.6" stroke-opacity="0.7"/>
<rect x="768.54" y="76.55" width="4.9" height="2.45" fill="#4361ee"/>
<rect x="776.02" y="67.6" width="4.2" height="4.2" fill="#fff" stroke="#4361ee" stroke-width="0.6" stroke-opacity="0.7"/>
<rect x="775.67" y="67.25" width="4.9" height="2.45" fill="#4361ee"/>
<rect x="783.15" y="57.2" width="4.2" height="4.2" fill="#fff" stroke="#4361ee" stroke-width="0.6" stroke-opacity="0.7"/>
<rect x="782.8" y="56.85" width="4.9" height="2.45" fill="#4361ee"/>
<rect x="790.28" y="57.9" width="4.2" height="4.2" fill="#fff" stroke="#4361ee" stroke-width="0.6" stroke-opacity="0.7"/>
<rect x="789.93" y="57.55" width="4.9" height="2.45" fill="#4361ee"/>
<rect x="797.41" y="47.9" width="4.2" height="4.2" fill="#fff" stroke="#4361ee" stroke-width="0.6" stroke-opacity="0.7"/>
<rect x="797.06" y="47.55" width="4.9" height="2.45" fill="#4361ee"/>
<rect x="804.54" y="54.6" width="4.2" height="4.2" fill="#fff" stroke="#4361ee" stroke-width="0.6" stroke-opacity="0.7"/>
<rect x="804.19" y="54.25" width="4.9" height="2.45" fill="#4361ee"/>
<rect x="811.67" y="72.2" width="4.2" height="4.2" fill="#fff" stroke="#4361ee" stroke-width="0.6" stroke-opacity="0.7"/>
<rect x="811.32" y="71.85" width="4.9" height="2.45" fill="#4361ee"/>
<rect x="818.8" y="97.6" width="4.2" height="4.2" fill="#fff" stroke="#4361ee" stroke-width="0.6" stroke-opacity="0.7"/>
<rect x="818.45" y="97.25" width="4.9" height="2.45" fill="#4361ee"/>
<rect x="825.93" y="156.9" width="4.2" height="4.2" fill="#fff" stroke="#4361ee" stroke-width="0.6" stroke-opacity="0.7"/>
<rect x="825.58" y="156.55" width="4.9" height="2.45" fill="#4361ee"/>
<rect x="833.06" y="215.2" width="4.2" height="4.2" fill="#fff" stroke="#4361ee" stroke-width="0.6" stroke-opacity="0.7"/>
<rect x="832.71" y="214.85" width="4.9" height="2.45" fill="#4361ee"/>
<rect x="840.19" y="245.6" width="4.2" height="4.2" fill="#fff" stroke="#4361ee" stroke-width="0.6" stroke-opacity="0.7"/>
<rect x="839.84" y="245.25" width="4.9" height="2.45" fill="#4361ee"/>
<rect x="847.32" y="259.2" width="4.2" height="4.2" fill="#fff" stroke="#4361ee" stroke-width="0.6" stroke-opacity="0.7"/>
<rect x="846.97" y="258.85" width="4.9" height="2.45" fill="#4361ee"/>
<rect x="854.45" y="263.6" width="4.2" height="4.2" fill="#fff" stroke="#4361ee" stroke-width="0.6" stroke-opacity="0.7"/>
<rect x="854.1" y="263.25" width="4.9" height="2.45" fill="#4361ee"/>
<rect x="861.58" y="265.6" width="4.2" height="4.2" fill="#fff" stroke="#4361ee" stroke-width="0.6" stroke-opacity="0.7"/>
<rect x="861.23" y="265.25" width="4.9" height="2.45" fill="#4361ee"/>
<rect x="868.71" y="266.9" width="4.2" height="4.2" fill="#fff" stroke="#4361ee" stroke-width="0.6" stroke-opacity="0.7"/>
<rect x="868.36" y="266.55" width="4.9" height="2.45" fill="#4361ee"/>
<rect x="875.84" y="268.2" width="4.2" height="4.2" fill="#fff" stroke="#4361ee" stroke-width="0.6" stroke-opacity="0.7"/>
<rect x="875.49" y="267.85" width="4.9" height="2.45" fill="#4361ee"/>
<rect x="882.97" y="268.9" width="4.2" height="4.2" fill="#fff" stroke="#4361ee" stroke-width="0.6" stroke-opacity="0.7"/>
<rect x="882.62" y="268.55" width="4.9" height="2.45" fill="#4361ee"/>
<rect x="890.1" y="269.4" width="4.2" height="4.2" fill="#fff" stroke="#4361ee" stroke-width="0.6" stroke-opacity="0.7"/>
<rect x="889.75" y="269.05" width="4.9" height="2.45" fill="#4361ee"/>
<rect x="897.23" y="269.9" width="4.2" height="4.2" fill="#fff" stroke="#4361ee" stroke-width="0.6" stroke-opacity="0.7"/>
<rect x="896.88" y="269.55" width="4.9" height="2.45" fill="#4361ee"/>
<rect x="904.36" y="269.9" width="4.2" height="4.2" fill="#fff" stroke="#4361ee" stroke-width="0.6" stroke-opacity="0.7"/>
<rect x="904.01" y="269.55" width="4.9" height="2.45" fill="#4361ee"/>
<rect x="911.49" y="269.9" width="4.2" height="4.2" fill="#fff" stroke="#4361ee" stroke-width="0.6" stroke-opacity="0.7"/>
<rect x="911.14" y="269.55" width="4.9" height="2.45" fill="#4361ee"/>
<rect x="918.62" y="269.9" width="4.2" height="4.2" fill="#fff" stroke="#4361ee" stroke-width="0.6" stroke-opacity="0.7"/>
<rect x="918.27" y="269.55" width="4.9" height="2.45" fill="#4361ee"/>
<rect x="925.75" y="269.9" width="4.2" height="4.2" fill="#fff" stroke="#4361ee" stroke-width="0.6" stroke-opacity="0.7"/>
<rect x="925.4" y="269.55" width="4.9" height="2.45" fill="#4361ee"/>
<rect x="932.88" y="269.9" width="4.2" height="4.2" fill="#fff" stroke="#4361ee" stroke-width="0.6" stroke-opacity="0.7"/>
<rect x="932.53" y="269.55" width="4.9" height="2.45" fill="#4361ee"/>
<rect x="940.01" y="269.9" width="4.2" height="4.2" fill="#fff" stroke="#4361ee" stroke-width="0.6" stroke-opacity="0.7"/>
<rect x="939.66" y="269.55" width="4.9" height="2.45" fill="#4361ee"/>
<rect x="947.14" y="269.9" width="4.2" height="4.2" fill="#fff" stroke="#4361ee" stroke-width="0.6" stroke-opacity="0.7"/>
<rect x="946.79" y="269.55" width="4.9" height="2.45" fill="#4361ee"/>
<rect x="954.27" y="269.9" width="4.2" height="4.2" fill="#fff" stroke="#4361ee" stroke-width="0.6" stroke-opacity="0.7"/>
<rect x="953.92" y="269.55" width="4.9" height="2.45" fill="#4361ee"/>
<rect x="961.4" y="269.9" width="4.2" height="4.2" fill="#fff" stroke="#4361ee" stroke-width="0.6" stroke-opacity="0.7"/>
<rect x="961.05" y="269.55" width="4.9" height="2.45" fill="#4361ee"/>
<rect x="968.53" y="269.9" width="4.2" height="4.2" fill="#fff" stroke="#4361ee" stroke-width="0.6" stroke-opacity="0.7"/>
<rect x="968.18" y="269.55" width="4.9" height="2.45" fill="#4361ee"/>
<rect x="975.66" y="269.9" width="4.2" height="4.2" fill="#fff" stroke="#4361ee" stroke-width="0.6" stroke-opacity="0.7"/>
<rect x="975.31" y="269.55" width="4.9" height="2.45" fill="#4361ee"/>
<rect x="982.79" y="269.9" width="4.2" height="4.2" fill="#fff" stroke="#4361ee" stroke-width="0.6" stroke-opacity="0.7"/>
<rect x="982.44" y="269.55" width="4.9" height="2.45" fill="#4361ee"/>
<rect x="989.92" y="269.9" width="4.2" height="4.2" fill="#fff" stroke="#4361ee" stroke-width="0.6" stroke-opacity="0.7"/>
<rect x="989.57" y="269.55" width="4.9" height="2.45" fill="#4361ee"/>
<rect x="997.05" y="269.9" width="4.2" height="4.2" fill="#fff" stroke="#4361ee" stroke-width="0.6" stroke-opacity="0.7"/>
<rect x="996.7" y="269.55" width="4.9" height="2.45" fill="#4361ee"/>
<rect x="1004.18" y="269.9" width="4.2" height="4.2" fill="#fff" stroke="#4361ee" stroke-width="0.6" stroke-opacity="0.7"/>
<rect x="1003.83" y="269.55" width="4.9" height="2.45" fill="#4361ee"/>
<rect x="1011.31" y="269.9" width="4.2" height="4.2" fill="#fff" stroke="#4361ee" stroke-width="0.6" stroke-opacity="0.7"/>
<rect x="1010.96" y="269.55" width="4.9" height="2.45" fill="#4361ee"/>
<rect x="1018.44" y="269.9" width="4.2" height="4.2" fill="#fff" stroke="#4361ee" stroke-width="0.6" stroke-opacity="0.7"/>
<rect x="1018.09" y="269.55" width="4.9" height="2.45" fill="#4361ee"/>
<rect x="1025.57" y="269.9" width="4.2" height="4.2" fill="#fff" stroke="#4361ee" stroke-width="0.6" stroke-opacity="0.7"/>
<rect x="1025.22" y="269.55" width="4.9" height="2.45" fill="#4361ee"/>
<rect x="1032.7" y="269.9" width="4.2" height="4.2" fill="#fff" stroke="#4361ee" stroke-width="0.6" stroke-opacity="0.7"/>
<rect x="1032.35" y="269.55" width="4.9" height="2.45" fill="#4361ee"/>
</g>
<g clip-path="url(#cc)">
<path d="M749.88 180.41L756.45 112.89M758.18 107.49L762.41 100.21M765.15 95.1L769.7 85.9M773.06 81.27L776.05 78.33M780.4 74.51L782.97 72.49M788.14 70.94L789.49 71.06M793.4 68.58L798.49 55.02M800.71 54.94L805.44 65.36M807.42 70.79L812.99 90.91M814.5 96.51L820.17 118.49M821.26 124.18L827.67 175.62M828.44 181.37L834.75 225.13M836.02 230.77L841.43 248.23M843.74 253.51L847.97 260.79M851.79 264.97L854.18 266.63M859.34 269.08L860.89 269.52M866.55 270.7L867.94 270.9M873.7 271.58L875.05 271.72M880.84 272L882.17 272M887.97 272L889.3 272M895.1 272L896.43 272M902.23 272L903.56 272M909.36 272L910.69 272M916.49 272L917.82 272M923.62 272L924.95 272M930.75 272L932.08 272M937.88 272L939.21 272M945.01 272L946.34 272M952.14 272L953.47 272M959.27 272L960.6 272M966.4 272L967.73 272M973.53 272L974.86 272M980.66 272L981.99 272M987.79 272L989.12 272M994.92 272L996.25 272M1002.05 272L1003.38 272M1009.18 272L1010.51 272M1016.31 272L1017.64 272M1023.44 272L1024.77 272M1030.57 272L1031.9 272" fill="none" stroke="#f5921e" stroke-width="1.3"/>
<rect x="747.5" y="181.2" width="4.2" height="4.2" fill="#fff" stroke="#f5921e" stroke-width="0.6" stroke-opacity="0.7"/>
<rect x="747.15" y="180.85" width="4.9" height="2.45" fill="#f5921e"/>
<rect x="754.63" y="107.9" width="4.2" height="4.2" fill="#fff" stroke="#f5921e" stroke-width="0.6" stroke-opacity="0.7"/>
<rect x="754.28" y="107.55" width="4.9" height="2.45" fill="#f5921e"/>
<rect x="761.76" y="95.6" width="4.2" height="4.2" fill="#fff" stroke="#f5921e" stroke-width="0.6" stroke-opacity="0.7"/>
<rect x="761.41" y="95.25" width="4.9" height="2.45" fill="#f5921e"/>
<rect x="768.89" y="81.2" width="4.2" height="4.2" fill="#fff" stroke="#f5921e" stroke-width="0.6" stroke-opacity="0.7"/>
<rect x="768.54" y="80.85" width="4.9" height="2.45" fill="#f5921e"/>
<rect x="776.02" y="74.2" width="4.2" height="4.2" fill="#fff" stroke="#f5921e" stroke-width="0.6" stroke-opacity="0.7"/>
<rect x="775.67" y="73.85" width="4.9" height="2.45" fill="#f5921e"/>
<rect x="783.15" y="68.6" width="4.2" height="4.2" fill="#fff" stroke="#f5921e" stroke-width="0.6" stroke-opacity="0.7"/>
<rect x="782.8" y="68.25" width="4.9" height="2.45" fill="#f5921e"/>
<rect x="790.28" y="69.2" width="4.2" height="4.2" fill="#fff" stroke="#f5921e" stroke-width="0.6" stroke-opacity="0.7"/>
<rect x="789.93" y="68.85" width="4.9" height="2.45" fill="#f5921e"/>
<rect x="797.41" y="50.2" width="4.2" height="4.2" fill="#fff" stroke="#f5921e" stroke-width="0.6" stroke-opacity="0.7"/>
<rect x="797.06" y="49.85" width="4.9" height="2.45" fill="#f5921e"/>
<rect x="804.54" y="65.9" width="4.2" height="4.2" fill="#fff" stroke="#f5921e" stroke-width="0.6" stroke-opacity="0.7"/>
<rect x="804.19" y="65.55" width="4.9" height="2.45" fill="#f5921e"/>
<rect x="811.67" y="91.6" width="4.2" height="4.2" fill="#fff" stroke="#f5921e" stroke-width="0.6" stroke-opacity="0.7"/>
<rect x="811.32" y="91.25" width="4.9" height="2.45" fill="#f5921e"/>
<rect x="818.8" y="119.2" width="4.2" height="4.2" fill="#fff" stroke="#f5921e" stroke-width="0.6" stroke-opacity="0.7"/>
<rect x="818.45" y="118.85" width="4.9" height="2.45" fill="#f5921e"/>
<rect x="825.93" y="176.4" width="4.2" height="4.2" fill="#fff" stroke="#f5921e" stroke-width="0.6" stroke-opacity="0.7"/>
<rect x="825.58" y="176.05" width="4.9" height="2.45" fill="#f5921e"/>
<rect x="833.06" y="225.9" width="4.2" height="4.2" fill="#fff" stroke="#f5921e" stroke-width="0.6" stroke-opacity="0.7"/>
<rect x="832.71" y="225.55" width="4.9" height="2.45" fill="#f5921e"/>
<rect x="840.19" y="248.9" width="4.2" height="4.2" fill="#fff" stroke="#f5921e" stroke-width="0.6" stroke-opacity="0.7"/>
<rect x="839.84" y="248.55" width="4.9" height="2.45" fill="#f5921e"/>
<rect x="847.32" y="261.2" width="4.2" height="4.2" fill="#fff" stroke="#f5921e" stroke-width="0.6" stroke-opacity="0.7"/>
<rect x="846.97" y="260.85" width="4.9" height="2.45" fill="#f5921e"/>
<rect x="854.45" y="266.2" width="4.2" height="4.2" fill="#fff" stroke="#f5921e" stroke-width="0.6" stroke-opacity="0.7"/>
<rect x="854.1" y="265.85" width="4.9" height="2.45" fill="#f5921e"/>
<rect x="861.58" y="268.2" width="4.2" height="4.2" fill="#fff" stroke="#f5921e" stroke-width="0.6" stroke-opacity="0.7"/>
<rect x="861.23" y="267.85" width="4.9" height="2.45" fill="#f5921e"/>
<rect x="868.71" y="269.2" width="4.2" height="4.2" fill="#fff" stroke="#f5921e" stroke-width="0.6" stroke-opacity="0.7"/>
<rect x="868.36" y="268.85" width="4.9" height="2.45" fill="#f5921e"/>
<rect x="875.84" y="269.9" width="4.2" height="4.2" fill="#fff" stroke="#f5921e" stroke-width="0.6" stroke-opacity="0.7"/>
<rect x="875.49" y="269.55" width="4.9" height="2.45" fill="#f5921e"/>
<rect x="882.97" y="269.9" width="4.2" height="4.2" fill="#fff" stroke="#f5921e" stroke-width="0.6" stroke-opacity="0.7"/>
<rect x="882.62" y="269.55" width="4.9" height="2.45" fill="#f5921e"/>
<rect x="890.1" y="269.9" width="4.2" height="4.2" fill="#fff" stroke="#f5921e" stroke-width="0.6" stroke-opacity="0.7"/>
<rect x="889.75" y="269.55" width="4.9" height="2.45" fill="#f5921e"/>
<rect x="897.23" y="269.9" width="4.2" height="4.2" fill="#fff" stroke="#f5921e" stroke-width="0.6" stroke-opacity="0.7"/>
<rect x="896.88" y="269.55" width="4.9" height="2.45" fill="#f5921e"/>
<rect x="904.36" y="269.9" width="4.2" height="4.2" fill="#fff" stroke="#f5921e" stroke-width="0.6" stroke-opacity="0.7"/>
<rect x="904.01" y="269.55" width="4.9" height="2.45" fill="#f5921e"/>
<rect x="911.49" y="269.9" width="4.2" height="4.2" fill="#fff" stroke="#f5921e" stroke-width="0.6" stroke-opacity="0.7"/>
<rect x="911.14" y="269.55" width="4.9" height="2.45" fill="#f5921e"/>
<rect x="918.62" y="269.9" width="4.2" height="4.2" fill="#fff" stroke="#f5921e" stroke-width="0.6" stroke-opacity="0.7"/>
<rect x="918.27" y="269.55" width="4.9" height="2.45" fill="#f5921e"/>
<rect x="925.75" y="269.9" width="4.2" height="4.2" fill="#fff" stroke="#f5921e" stroke-width="0.6" stroke-opacity="0.7"/>
<rect x="925.4" y="269.55" width="4.9" height="2.45" fill="#f5921e"/>
<rect x="932.88" y="269.9" width="4.2" height="4.2" fill="#fff" stroke="#f5921e" stroke-width="0.6" stroke-opacity="0.7"/>
<rect x="932.53" y="269.55" width="4.9" height="2.45" fill="#f5921e"/>
<rect x="940.01" y="269.9" width="4.2" height="4.2" fill="#fff" stroke="#f5921e" stroke-width="0.6" stroke-opacity="0.7"/>
<rect x="939.66" y="269.55" width="4.9" height="2.45" fill="#f5921e"/>
<rect x="947.14" y="269.9" width="4.2" height="4.2" fill="#fff" stroke="#f5921e" stroke-width="0.6" stroke-opacity="0.7"/>
<rect x="946.79" y="269.55" width="4.9" height="2.45" fill="#f5921e"/>
<rect x="954.27" y="269.9" width="4.2" height="4.2" fill="#fff" stroke="#f5921e" stroke-width="0.6" stroke-opacity="0.7"/>
<rect x="953.92" y="269.55" width="4.9" height="2.45" fill="#f5921e"/>
<rect x="961.4" y="269.9" width="4.2" height="4.2" fill="#fff" stroke="#f5921e" stroke-width="0.6" stroke-opacity="0.7"/>
<rect x="961.05" y="269.55" width="4.9" height="2.45" fill="#f5921e"/>
<rect x="968.53" y="269.9" width="4.2" height="4.2" fill="#fff" stroke="#f5921e" stroke-width="0.6" stroke-opacity="0.7"/>
<rect x="968.18" y="269.55" width="4.9" height="2.45" fill="#f5921e"/>
<rect x="975.66" y="269.9" width="4.2" height="4.2" fill="#fff" stroke="#f5921e" stroke-width="0.6" stroke-opacity="0.7"/>
<rect x="975.31" y="269.55" width="4.9" height="2.45" fill="#f5921e"/>
<rect x="982.79" y="269.9" width="4.2" height="4.2" fill="#fff" stroke="#f5921e" stroke-width="0.6" stroke-opacity="0.7"/>
<rect x="982.44" y="269.55" width="4.9" height="2.45" fill="#f5921e"/>
<rect x="989.92" y="269.9" width="4.2" height="4.2" fill="#fff" stroke="#f5921e" stroke-width="0.6" stroke-opacity="0.7"/>
<rect x="989.57" y="269.55" width="4.9" height="2.45" fill="#f5921e"/>
<rect x="997.05" y="269.9" width="4.2" height="4.2" fill="#fff" stroke="#f5921e" stroke-width="0.6" stroke-opacity="0.7"/>
<rect x="996.7" y="269.55" width="4.9" height="2.45" fill="#f5921e"/>
<rect x="1004.18" y="269.9" width="4.2" height="4.2" fill="#fff" stroke="#f5921e" stroke-width="0.6" stroke-opacity="0.7"/>
<rect x="1003.83" y="269.55" width="4.9" height="2.45" fill="#f5921e"/>
<rect x="1011.31" y="269.9" width="4.2" height="4.2" fill="#fff" stroke="#f5921e" stroke-width="0.6" stroke-opacity="0.7"/>
<rect x="1010.96" y="269.55" width="4.9" height="2.45" fill="#f5921e"/>
<rect x="1018.44" y="269.9" width="4.2" height="4.2" fill="#fff" stroke="#f5921e" stroke-width="0.6" stroke-opacity="0.7"/>
<rect x="1018.09" y="269.55" width="4.9" height="2.45" fill="#f5921e"/>
<rect x="1025.57" y="269.9" width="4.2" height="4.2" fill="#fff" stroke="#f5921e" stroke-width="0.6" stroke-opacity="0.7"/>
<rect x="1025.22" y="269.55" width="4.9" height="2.45" fill="#f5921e"/>
<rect x="1032.7" y="269.9" width="4.2" height="4.2" fill="#fff" stroke="#f5921e" stroke-width="0.6" stroke-opacity="0.7"/>
<rect x="1032.35" y="269.55" width="4.9" height="2.45" fill="#f5921e"/>
</g>
<g clip-path="url(#cc)">
<path d="M750.2 227.16L756.13 198.84M757.4 193.18L763.19 168.82M766.71 166.52L768.14 166.78M773.89 167.3L775.22 167.3M780.34 169.17L783.03 171.43M787.23 171.19L790.4 167.81M794.39 163.61L797.5 160.39M802.36 157.78L803.79 157.52M807.86 154.37L812.55 144.33M814.91 144.36L819.76 155.64M821.39 161.16L827.54 197.14M828.57 202.85L834.62 234.45M836.24 239.99L841.21 252.31M843.97 257.36L847.74 262.64M851.9 266.5L854.07 267.8M859.37 269.97L860.86 270.33M866.57 271.28L867.92 271.42M873.71 271.82L875.04 271.88M880.84 272L882.17 272M887.97 272L889.3 272M895.1 272L896.43 272M902.23 272L903.56 272M909.36 272L910.69 272M916.49 272L917.82 272M923.62 272L924.95 272M930.75 272L932.08 272M937.88 272L939.21 272M945.01 272L946.34 272M952.14 272L953.47 272M959.27 272L960.6 272M966.4 272L967.73 272M973.53 272L974.86 272M980.66 272L981.99 272M987.79 272L989.12 272M994.92 272L996.25 272M1002.05 272L1003.38 272M1009.18 272L1010.51 272M1016.31 272L1017.64 272M1023.44 272L1024.77 272M1030.57 272L1031.9 272" fill="none" stroke="#66e8f4" stroke-width="1.1"/>
<rect x="747.5" y="227.9" width="4.2" height="4.2" fill="#fff" stroke="#66e8f4" stroke-width="0.6" stroke-opacity="0.7"/>
<rect x="747.15" y="227.55" width="4.9" height="2.45" fill="#66e8f4"/>
<rect x="754.63" y="193.9" width="4.2" height="4.2" fill="#fff" stroke="#66e8f4" stroke-width="0.6" stroke-opacity="0.7"/>
<rect x="754.28" y="193.55" width="4.9" height="2.45" fill="#66e8f4"/>
<rect x="761.76" y="163.9" width="4.2" height="4.2" fill="#fff" stroke="#66e8f4" stroke-width="0.6" stroke-opacity="0.7"/>
<rect x="761.41" y="163.55" width="4.9" height="2.45" fill="#66e8f4"/>
<rect x="768.89" y="165.2" width="4.2" height="4.2" fill="#fff" stroke="#66e8f4" stroke-width="0.6" stroke-opacity="0.7"/>
<rect x="768.54" y="164.85" width="4.9" height="2.45" fill="#66e8f4"/>
<rect x="776.02" y="165.2" width="4.2" height="4.2" fill="#fff" stroke="#66e8f4" stroke-width="0.6" stroke-opacity="0.7"/>
<rect x="775.67" y="164.85" width="4.9" height="2.45" fill="#66e8f4"/>
<rect x="783.15" y="171.2" width="4.2" height="4.2" fill="#fff" stroke="#66e8f4" stroke-width="0.6" stroke-opacity="0.7"/>
<rect x="782.8" y="170.85" width="4.9" height="2.45" fill="#66e8f4"/>
<rect x="790.28" y="163.6" width="4.2" height="4.2" fill="#fff" stroke="#66e8f4" stroke-width="0.6" stroke-opacity="0.7"/>
<rect x="789.93" y="163.25" width="4.9" height="2.45" fill="#66e8f4"/>
<rect x="797.41" y="156.2" width="4.2" height="4.2" fill="#fff" stroke="#66e8f4" stroke-width="0.6" stroke-opacity="0.7"/>
<rect x="797.06" y="155.85" width="4.9" height="2.45" fill="#66e8f4"/>
<rect x="804.54" y="154.9" width="4.2" height="4.2" fill="#fff" stroke="#66e8f4" stroke-width="0.6" stroke-opacity="0.7"/>
<rect x="804.19" y="154.55" width="4.9" height="2.45" fill="#66e8f4"/>
<rect x="811.67" y="139.6" width="4.2" height="4.2" fill="#fff" stroke="#66e8f4" stroke-width="0.6" stroke-opacity="0.7"/>
<rect x="811.32" y="139.25" width="4.9" height="2.45" fill="#66e8f4"/>
<rect x="818.8" y="156.2" width="4.2" height="4.2" fill="#fff" stroke="#66e8f4" stroke-width="0.6" stroke-opacity="0.7"/>
<rect x="818.45" y="155.85" width="4.9" height="2.45" fill="#66e8f4"/>
<rect x="825.93" y="197.9" width="4.2" height="4.2" fill="#fff" stroke="#66e8f4" stroke-width="0.6" stroke-opacity="0.7"/>
<rect x="825.58" y="197.55" width="4.9" height="2.45" fill="#66e8f4"/>
<rect x="833.06" y="235.2" width="4.2" height="4.2" fill="#fff" stroke="#66e8f4" stroke-width="0.6" stroke-opacity="0.7"/>
<rect x="832.71" y="234.85" width="4.9" height="2.45" fill="#66e8f4"/>
<rect x="840.19" y="252.9" width="4.2" height="4.2" fill="#fff" stroke="#66e8f4" stroke-width="0.6" stroke-opacity="0.7"/>
<rect x="839.84" y="252.55" width="4.9" height="2.45" fill="#66e8f4"/>
<rect x="847.32" y="262.9" width="4.2" height="4.2" fill="#fff" stroke="#66e8f4" stroke-width="0.6" stroke-opacity="0.7"/>
<rect x="846.97" y="262.55" width="4.9" height="2.45" fill="#66e8f4"/>
<rect x="854.45" y="267.2" width="4.2" height="4.2" fill="#fff" stroke="#66e8f4" stroke-width="0.6" stroke-opacity="0.7"/>
<rect x="854.1" y="266.85" width="4.9" height="2.45" fill="#66e8f4"/>
<rect x="861.58" y="268.9" width="4.2" height="4.2" fill="#fff" stroke="#66e8f4" stroke-width="0.6" stroke-opacity="0.7"/>
<rect x="861.23" y="268.55" width="4.9" height="2.45" fill="#66e8f4"/>
<rect x="868.71" y="269.6" width="4.2" height="4.2" fill="#fff" stroke="#66e8f4" stroke-width="0.6" stroke-opacity="0.7"/>
<rect x="868.36" y="269.25" width="4.9" height="2.45" fill="#66e8f4"/>
<rect x="875.84" y="269.9" width="4.2" height="4.2" fill="#fff" stroke="#66e8f4" stroke-width="0.6" stroke-opacity="0.7"/>
<rect x="875.49" y="269.55" width="4.9" height="2.45" fill="#66e8f4"/>
<rect x="882.97" y="269.9" width="4.2" height="4.2" fill="#fff" stroke="#66e8f4" stroke-width="0.6" stroke-opacity="0.7"/>
<rect x="882.62" y="269.55" width="4.9" height="2.45" fill="#66e8f4"/>
<rect x="890.1" y="269.9" width="4.2" height="4.2" fill="#fff" stroke="#66e8f4" stroke-width="0.6" stroke-opacity="0.7"/>
<rect x="889.75" y="269.55" width="4.9" height="2.45" fill="#66e8f4"/>
<rect x="897.23" y="269.9" width="4.2" height="4.2" fill="#fff" stroke="#66e8f4" stroke-width="0.6" stroke-opacity="0.7"/>
<rect x="896.88" y="269.55" width="4.9" height="2.45" fill="#66e8f4"/>
<rect x="904.36" y="269.9" width="4.2" height="4.2" fill="#fff" stroke="#66e8f4" stroke-width="0.6" stroke-opacity="0.7"/>
<rect x="904.01" y="269.55" width="4.9" height="2.45" fill="#66e8f4"/>
<rect x="911.49" y="269.9" width="4.2" height="4.2" fill="#fff" stroke="#66e8f4" stroke-width="0.6" stroke-opacity="0.7"/>
<rect x="911.14" y="269.55" width="4.9" height="2.45" fill="#66e8f4"/>
<rect x="918.62" y="269.9" width="4.2" height="4.2" fill="#fff" stroke="#66e8f4" stroke-width="0.6" stroke-opacity="0.7"/>
<rect x="918.27" y="269.55" width="4.9" height="2.45" fill="#66e8f4"/>
<rect x="925.75" y="269.9" width="4.2" height="4.2" fill="#fff" stroke="#66e8f4" stroke-width="0.6" stroke-opacity="0.7"/>
<rect x="925.4" y="269.55" width="4.9" height="2.45" fill="#66e8f4"/>
<rect x="932.88" y="269.9" width="4.2" height="4.2" fill="#fff" stroke="#66e8f4" stroke-width="0.6" stroke-opacity="0.7"/>
<rect x="932.53" y="269.55" width="4.9" height="2.45" fill="#66e8f4"/>
<rect x="940.01" y="269.9" width="4.2" height="4.2" fill="#fff" stroke="#66e8f4" stroke-width="0.6" stroke-opacity="0.7"/>
<rect x="939.66" y="269.55" width="4.9" height="2.45" fill="#66e8f4"/>
<rect x="947.14" y="269.9" width="4.2" height="4.2" fill="#fff" stroke="#66e8f4" stroke-width="0.6" stroke-opacity="0.7"/>
<rect x="946.79" y="269.55" width="4.9" height="2.45" fill="#66e8f4"/>
<rect x="954.27" y="269.9" width="4.2" height="4.2" fill="#fff" stroke="#66e8f4" stroke-width="0.6" stroke-opacity="0.7"/>
<rect x="953.92" y="269.55" width="4.9" height="2.45" fill="#66e8f4"/>
<rect x="961.4" y="269.9" width="4.2" height="4.2" fill="#fff" stroke="#66e8f4" stroke-width="0.6" stroke-opacity="0.7"/>
<rect x="961.05" y="269.55" width="4.9" height="2.45" fill="#66e8f4"/>
<rect x="968.53" y="269.9" width="4.2" height="4.2" fill="#fff" stroke="#66e8f4" stroke-width="0.6" stroke-opacity="0.7"/>
<rect x="968.18" y="269.55" width="4.9" height="2.45" fill="#66e8f4"/>
<rect x="975.66" y="269.9" width="4.2" height="4.2" fill="#fff" stroke="#66e8f4" stroke-width="0.6" stroke-opacity="0.7"/>
<rect x="975.31" y="269.55" width="4.9" height="2.45" fill="#66e8f4"/>
<rect x="982.79" y="269.9" width="4.2" height="4.2" fill="#fff" stroke="#66e8f4" stroke-width="0.6" stroke-opacity="0.7"/>
<rect x="982.44" y="269.55" width="4.9" height="2.45" fill="#66e8f4"/>
<rect x="989.92" y="269.9" width="4.2" height="4.2" fill="#fff" stroke="#66e8f4" stroke-width="0.6" stroke-opacity="0.7"/>
<rect x="989.57" y="269.55" width="4.9" height="2.45" fill="#66e8f4"/>
<rect x="997.05" y="269.9" width="4.2" height="4.2" fill="#fff" stroke="#66e8f4" stroke-width="0.6" stroke-opacity="0.7"/>
<rect x="996.7" y="269.55" width="4.9" height="2.45" fill="#66e8f4"/>
<rect x="1004.18" y="269.9" width="4.2" height="4.2" fill="#fff" stroke="#66e8f4" stroke-width="0.6" stroke-opacity="0.7"/>
<rect x="1003.83" y="269.55" width="4.9" height="2.45" fill="#66e8f4"/>
<rect x="1011.31" y="269.9" width="4.2" height="4.2" fill="#fff" stroke="#66e8f4" stroke-width="0.6" stroke-opacity="0.7"/>
<rect x="1010.96" y="269.55" width="4.9" height="2.45" fill="#66e8f4"/>
<rect x="1018.44" y="269.9" width="4.2" height="4.2" fill="#fff" stroke="#66e8f4" stroke-width="0.6" stroke-opacity="0.7"/>
<rect x="1018.09" y="269.55" width="4.9" height="2.45" fill="#66e8f4"/>
<rect x="1025.57" y="269.9" width="4.2" height="4.2" fill="#fff" stroke="#66e8f4" stroke-width="0.6" stroke-opacity="0.7"/>
<rect x="1025.22" y="269.55" width="4.9" height="2.45" fill="#66e8f4"/>
<rect x="1032.7" y="269.9" width="4.2" height="4.2" fill="#fff" stroke="#66e8f4" stroke-width="0.6" stroke-opacity="0.7"/>
<rect x="1032.35" y="269.55" width="4.9" height="2.45" fill="#66e8f4"/>
</g>
<g clip-path="url(#cc)">
<path d="M751.97 253.33L754.36 251.67M759.55 249.33L761.04 248.97M766.75 248.06L768.1 247.94M773.88 247.42L775.23 247.28M780.99 246.6L782.38 246.4M788.14 245.72L789.49 245.58M795.17 244.52L796.72 244.08M802.4 243.06L803.75 242.94M809.51 243.1L810.9 243.3M816.44 244.82L818.23 245.58M822.93 248.77L826 251.93M830 256.13L833.19 259.57M837.64 263.2L839.81 264.5M844.96 267.12L846.75 267.88M852.24 269.67L853.73 270.03M859.44 270.94L860.79 271.06M866.57 271.54L867.92 271.66M873.71 271.9L875.04 271.9M880.84 271.9L882.17 271.9M887.97 271.9L889.3 271.9M895.1 271.9L896.43 271.9M902.23 271.9L903.56 271.9M909.36 271.9L910.69 271.9M916.49 271.9L917.82 271.9M923.62 271.9L924.95 271.9M930.75 271.9L932.08 271.9M937.88 271.9L939.21 271.9M945.01 271.9L946.34 271.9M952.14 271.9L953.47 271.9M959.27 271.9L960.6 271.9M966.4 271.9L967.73 271.9M973.53 271.9L974.86 271.9M980.66 271.9L981.99 271.9M987.79 271.9L989.12 271.9M994.92 271.9L996.25 271.9M1002.05 271.9L1003.38 271.9M1009.18 271.9L1010.51 271.9M1016.31 271.9L1017.64 271.9M1023.44 271.9L1024.77 271.9M1030.57 271.9L1031.9 271.9" fill="none" stroke="#8fd973" stroke-width="1.1"/>
<rect x="747.5" y="252.9" width="4.2" height="4.2" fill="#fff" stroke="#8fd973" stroke-width="0.6" stroke-opacity="0.7"/>
<rect x="747.15" y="252.55" width="4.9" height="2.45" fill="#8fd973"/>
<rect x="754.63" y="247.9" width="4.2" height="4.2" fill="#fff" stroke="#8fd973" stroke-width="0.6" stroke-opacity="0.7"/>
<rect x="754.28" y="247.55" width="4.9" height="2.45" fill="#8fd973"/>
<rect x="761.76" y="246.2" width="4.2" height="4.2" fill="#fff" stroke="#8fd973" stroke-width="0.6" stroke-opacity="0.7"/>
<rect x="761.41" y="245.85" width="4.9" height="2.45" fill="#8fd973"/>
<rect x="768.89" y="245.6" width="4.2" height="4.2" fill="#fff" stroke="#8fd973" stroke-width="0.6" stroke-opacity="0.7"/>
<rect x="768.54" y="245.25" width="4.9" height="2.45" fill="#8fd973"/>
<rect x="776.02" y="244.9" width="4.2" height="4.2" fill="#fff" stroke="#8fd973" stroke-width="0.6" stroke-opacity="0.7"/>
<rect x="775.67" y="244.55" width="4.9" height="2.45" fill="#8fd973"/>
<rect x="783.15" y="243.9" width="4.2" height="4.2" fill="#fff" stroke="#8fd973" stroke-width="0.6" stroke-opacity="0.7"/>
<rect x="782.8" y="243.55" width="4.9" height="2.45" fill="#8fd973"/>
<rect x="790.28" y="243.2" width="4.2" height="4.2" fill="#fff" stroke="#8fd973" stroke-width="0.6" stroke-opacity="0.7"/>
<rect x="789.93" y="242.85" width="4.9" height="2.45" fill="#8fd973"/>
<rect x="797.41" y="241.2" width="4.2" height="4.2" fill="#fff" stroke="#8fd973" stroke-width="0.6" stroke-opacity="0.7"/>
<rect x="797.06" y="240.85" width="4.9" height="2.45" fill="#8fd973"/>
<rect x="804.54" y="240.6" width="4.2" height="4.2" fill="#fff" stroke="#8fd973" stroke-width="0.6" stroke-opacity="0.7"/>
<rect x="804.19" y="240.25" width="4.9" height="2.45" fill="#8fd973"/>
<rect x="811.67" y="241.6" width="4.2" height="4.2" fill="#fff" stroke="#8fd973" stroke-width="0.6" stroke-opacity="0.7"/>
<rect x="811.32" y="241.25" width="4.9" height="2.45" fill="#8fd973"/>
<rect x="818.8" y="244.6" width="4.2" height="4.2" fill="#fff" stroke="#8fd973" stroke-width="0.6" stroke-opacity="0.7"/>
<rect x="818.45" y="244.25" width="4.9" height="2.45" fill="#8fd973"/>
<rect x="825.93" y="251.9" width="4.2" height="4.2" fill="#fff" stroke="#8fd973" stroke-width="0.6" stroke-opacity="0.7"/>
<rect x="825.58" y="251.55" width="4.9" height="2.45" fill="#8fd973"/>
<rect x="833.06" y="259.6" width="4.2" height="4.2" fill="#fff" stroke="#8fd973" stroke-width="0.6" stroke-opacity="0.7"/>
<rect x="832.71" y="259.25" width="4.9" height="2.45" fill="#8fd973"/>
<rect x="840.19" y="263.9" width="4.2" height="4.2" fill="#fff" stroke="#8fd973" stroke-width="0.6" stroke-opacity="0.7"/>
<rect x="839.84" y="263.55" width="4.9" height="2.45" fill="#8fd973"/>
<rect x="847.32" y="266.9" width="4.2" height="4.2" fill="#fff" stroke="#8fd973" stroke-width="0.6" stroke-opacity="0.7"/>
<rect x="846.97" y="266.55" width="4.9" height="2.45" fill="#8fd973"/>
<rect x="854.45" y="268.6" width="4.2" height="4.2" fill="#fff" stroke="#8fd973" stroke-width="0.6" stroke-opacity="0.7"/>
<rect x="854.1" y="268.25" width="4.9" height="2.45" fill="#8fd973"/>
<rect x="861.58" y="269.2" width="4.2" height="4.2" fill="#fff" stroke="#8fd973" stroke-width="0.6" stroke-opacity="0.7"/>
<rect x="861.23" y="268.85" width="4.9" height="2.45" fill="#8fd973"/>
<rect x="868.71" y="269.8" width="4.2" height="4.2" fill="#fff" stroke="#8fd973" stroke-width="0.6" stroke-opacity="0.7"/>
<rect x="868.36" y="269.45" width="4.9" height="2.45" fill="#8fd973"/>
<rect x="875.84" y="269.8" width="4.2" height="4.2" fill="#fff" stroke="#8fd973" stroke-width="0.6" stroke-opacity="0.7"/>
<rect x="875.49" y="269.45" width="4.9" height="2.45" fill="#8fd973"/>
<rect x="882.97" y="269.8" width="4.2" height="4.2" fill="#fff" stroke="#8fd973" stroke-width="0.6" stroke-opacity="0.7"/>
<rect x="882.62" y="269.45" width="4.9" height="2.45" fill="#8fd973"/>
<rect x="890.1" y="269.8" width="4.2" height="4.2" fill="#fff" stroke="#8fd973" stroke-width="0.6" stroke-opacity="0.7"/>
<rect x="889.75" y="269.45" width="4.9" height="2.45" fill="#8fd973"/>
<rect x="897.23" y="269.8" width="4.2" height="4.2" fill="#fff" stroke="#8fd973" stroke-width="0.6" stroke-opacity="0.7"/>
<rect x="896.88" y="269.45" width="4.9" height="2.45" fill="#8fd973"/>
<rect x="904.36" y="269.8" width="4.2" height="4.2" fill="#fff" stroke="#8fd973" stroke-width="0.6" stroke-opacity="0.7"/>
<rect x="904.01" y="269.45" width="4.9" height="2.45" fill="#8fd973"/>
<rect x="911.49" y="269.8" width="4.2" height="4.2" fill="#fff" stroke="#8fd973" stroke-width="0.6" stroke-opacity="0.7"/>
<rect x="911.14" y="269.45" width="4.9" height="2.45" fill="#8fd973"/>
<rect x="918.62" y="269.8" width="4.2" height="4.2" fill="#fff" stroke="#8fd973" stroke-width="0.6" stroke-opacity="0.7"/>
<rect x="918.27" y="269.45" width="4.9" height="2.45" fill="#8fd973"/>
<rect x="925.75" y="269.8" width="4.2" height="4.2" fill="#fff" stroke="#8fd973" stroke-width="0.6" stroke-opacity="0.7"/>
<rect x="925.4" y="269.45" width="4.9" height="2.45" fill="#8fd973"/>
<rect x="932.88" y="269.8" width="4.2" height="4.2" fill="#fff" stroke="#8fd973" stroke-width="0.6" stroke-opacity="0.7"/>
<rect x="932.53" y="269.45" width="4.9" height="2.45" fill="#8fd973"/>
<rect x="940.01" y="269.8" width="4.2" height="4.2" fill="#fff" stroke="#8fd973" stroke-width="0.6" stroke-opacity="0.7"/>
<rect x="939.66" y="269.45" width="4.9" height="2.45" fill="#8fd973"/>
<rect x="947.14" y="269.8" width="4.2" height="4.2" fill="#fff" stroke="#8fd973" stroke-width="0.6" stroke-opacity="0.7"/>
<rect x="946.79" y="269.45" width="4.9" height="2.45" fill="#8fd973"/>
<rect x="954.27" y="269.8" width="4.2" height="4.2" fill="#fff" stroke="#8fd973" stroke-width="0.6" stroke-opacity="0.7"/>
<rect x="953.92" y="269.45" width="4.9" height="2.45" fill="#8fd973"/>
<rect x="961.4" y="269.8" width="4.2" height="4.2" fill="#fff" stroke="#8fd973" stroke-width="0.6" stroke-opacity="0.7"/>
<rect x="961.05" y="269.45" width="4.9" height="2.45" fill="#8fd973"/>
<rect x="968.53" y="269.8" width="4.2" height="4.2" fill="#fff" stroke="#8fd973" stroke-width="0.6" stroke-opacity="0.7"/>
<rect x="968.18" y="269.45" width="4.9" height="2.45" fill="#8fd973"/>
<rect x="975.66" y="269.8" width="4.2" height="4.2" fill="#fff" stroke="#8fd973" stroke-width="0.6" stroke-opacity="0.7"/>
<rect x="975.31" y="269.45" width="4.9" height="2.45" fill="#8fd973"/>
<rect x="982.79" y="269.8" width="4.2" height="4.2" fill="#fff" stroke="#8fd973" stroke-width="0.6" stroke-opacity="0.7"/>
<rect x="982.44" y="269.45" width="4.9" height="2.45" fill="#8fd973"/>
<rect x="989.92" y="269.8" width="4.2" height="4.2" fill="#fff" stroke="#8fd973" stroke-width="0.6" stroke-opacity="0.7"/>
<rect x="989.57" y="269.45" width="4.9" height="2.45" fill="#8fd973"/>
<rect x="997.05" y="269.8" width="4.2" height="4.2" fill="#fff" stroke="#8fd973" stroke-width="0.6" stroke-opacity="0.7"/>
<rect x="996.7" y="269.45" width="4.9" height="2.45" fill="#8fd973"/>
<rect x="1004.18" y="269.8" width="4.2" height="4.2" fill="#fff" stroke="#8fd973" stroke-width="0.6" stroke-opacity="0.7"/>
<rect x="1003.83" y="269.45" width="4.9" height="2.45" fill="#8fd973"/>
<rect x="1011.31" y="269.8" width="4.2" height="4.2" fill="#fff" stroke="#8fd973" stroke-width="0.6" stroke-opacity="0.7"/>
<rect x="1010.96" y="269.45" width="4.9" height="2.45" fill="#8fd973"/>
<rect x="1018.44" y="269.8" width="4.2" height="4.2" fill="#fff" stroke="#8fd973" stroke-width="0.6" stroke-opacity="0.7"/>
<rect x="1018.09" y="269.45" width="4.9" height="2.45" fill="#8fd973"/>
<rect x="1025.57" y="269.8" width="4.2" height="4.2" fill="#fff" stroke="#8fd973" stroke-width="0.6" stroke-opacity="0.7"/>
<rect x="1025.22" y="269.45" width="4.9" height="2.45" fill="#8fd973"/>
<rect x="1032.7" y="269.8" width="4.2" height="4.2" fill="#fff" stroke="#8fd973" stroke-width="0.6" stroke-opacity="0.7"/>
<rect x="1032.35" y="269.45" width="4.9" height="2.45" fill="#8fd973"/>
</g>
<rect x="749.6" y="29.8" width="285.2" height="253.4" fill="none" stroke="#1c1c1c" stroke-width="1"/>
<line x1="749.6" y1="69.7" x2="754.1" y2="69.7" stroke="#1c1c1c" stroke-width="1"/>
<line x1="749.6" y1="120" x2="754.1" y2="120" stroke="#1c1c1c" stroke-width="1"/>
<line x1="749.6" y1="171" x2="754.1" y2="171" stroke="#1c1c1c" stroke-width="1"/>
<line x1="749.6" y1="221.7" x2="754.1" y2="221.7" stroke="#1c1c1c" stroke-width="1"/>
<line x1="749.6" y1="272.3" x2="754.1" y2="272.3" stroke="#1c1c1c" stroke-width="1"/>
<text x="749.6" y="298.9" font-size="12.6" fill="#111" text-anchor="middle">200</text>
<line x1="785.25" y1="283.2" x2="785.25" y2="280.7" stroke="#1c1c1c" stroke-width="1"/>
<line x1="820.9" y1="283.2" x2="820.9" y2="278.7" stroke="#1c1c1c" stroke-width="1"/>
<text x="820.9" y="298.9" font-size="12.6" fill="#111" text-anchor="middle">250</text>
<line x1="856.55" y1="283.2" x2="856.55" y2="280.7" stroke="#1c1c1c" stroke-width="1"/>
<line x1="892.2" y1="283.2" x2="892.2" y2="278.7" stroke="#1c1c1c" stroke-width="1"/>
<text x="892.2" y="298.9" font-size="12.6" fill="#111" text-anchor="middle">300</text>
<line x1="927.85" y1="283.2" x2="927.85" y2="280.7" stroke="#1c1c1c" stroke-width="1"/>
<line x1="963.5" y1="283.2" x2="963.5" y2="278.7" stroke="#1c1c1c" stroke-width="1"/>
<text x="963.5" y="298.9" font-size="12.6" fill="#111" text-anchor="middle">350</text>
<line x1="999.15" y1="283.2" x2="999.15" y2="280.7" stroke="#1c1c1c" stroke-width="1"/>
<text x="1034.8" y="298.9" font-size="12.6" fill="#111" text-anchor="middle">400</text>
<text x="892" y="320" font-size="12.6" fill="#111" text-anchor="middle">Wavelength (nm)</text>
<line x1="918" y1="55" x2="928.3" y2="55" stroke="#7f9af7" stroke-width="1.3"/>
<line x1="935.7" y1="55" x2="946" y2="55" stroke="#7f9af7" stroke-width="1.3"/>
<rect x="929.8" y="52.8" width="4.4" height="4.4" fill="#fff" stroke="#7f9af7" stroke-width="0.6" stroke-opacity="0.7"/>
<rect x="929.45" y="52.45" width="5.1" height="2.55" fill="#7f9af7"/>
<text x="950.3" y="59.3" font-size="12.2" fill="#111">Pristine</text>
<line x1="918" y1="70.8" x2="928.3" y2="70.8" stroke="#4361ee" stroke-width="1.3"/>
<line x1="935.7" y1="70.8" x2="946" y2="70.8" stroke="#4361ee" stroke-width="1.3"/>
<rect x="929.8" y="68.6" width="4.4" height="4.4" fill="#fff" stroke="#4361ee" stroke-width="0.6" stroke-opacity="0.7"/>
<rect x="929.45" y="68.25" width="5.1" height="2.55" fill="#4361ee"/>
<text x="950.3" y="75.1" font-size="12.2" fill="#111">NG-P200</text>
<line x1="918" y1="86.5" x2="928.3" y2="86.5" stroke="#f5921e" stroke-width="1.3"/>
<line x1="935.7" y1="86.5" x2="946" y2="86.5" stroke="#f5921e" stroke-width="1.3"/>
<rect x="929.8" y="84.3" width="4.4" height="4.4" fill="#fff" stroke="#f5921e" stroke-width="0.6" stroke-opacity="0.7"/>
<rect x="929.45" y="83.95" width="5.1" height="2.55" fill="#f5921e"/>
<text x="950.3" y="90.8" font-size="12.2" fill="#111">NG-P300</text>
<line x1="918" y1="102" x2="928.3" y2="102" stroke="#66e8f4" stroke-width="1.3"/>
<line x1="935.7" y1="102" x2="946" y2="102" stroke="#66e8f4" stroke-width="1.3"/>
<rect x="929.8" y="99.8" width="4.4" height="4.4" fill="#fff" stroke="#66e8f4" stroke-width="0.6" stroke-opacity="0.7"/>
<rect x="929.45" y="99.45" width="5.1" height="2.55" fill="#66e8f4"/>
<text x="950.3" y="106.3" font-size="12.2" fill="#111">NG-P400</text>
<line x1="918" y1="117.7" x2="928.3" y2="117.7" stroke="#8fd973" stroke-width="1.3"/>
<line x1="935.7" y1="117.7" x2="946" y2="117.7" stroke="#8fd973" stroke-width="1.3"/>
<rect x="929.8" y="115.5" width="4.4" height="4.4" fill="#fff" stroke="#8fd973" stroke-width="0.6" stroke-opacity="0.7"/>
<rect x="929.45" y="115.15" width="5.1" height="2.55" fill="#8fd973"/>
<text x="950.3" y="122" font-size="12.2" fill="#111">NG-P500</text>
</g>
<g id="panel-d">
<text x="29.3" y="328" font-size="24.6" fill="#111">(d)</text>
<rect x="76" y="358.82" width="78.7" height="98.56" fill="#b5e3f8"/>
<rect x="203.3" y="358.82" width="86" height="98.56" fill="#b5e3f8"/>
<line x1="69" y1="358.82" x2="322.7" y2="358.82" stroke="#8a8a8a" stroke-width="0.9" stroke-dasharray="1 2.2"/>
<line x1="69" y1="457.38" x2="322.7" y2="457.38" stroke="#8a8a8a" stroke-width="0.9" stroke-dasharray="1 2.2"/>
<polyline points="69,469.33 71.33,467.33 74,463.33 76,457 78.67,445 81.67,433.33 84.33,424.67 87.33,416.67 91,408 95,400 99,393.67 103.33,388.33 107.33,383.67 111.67,380 116,377.33 120.33,375 126.67,371 133.33,367.33 138.33,365 143.33,362.67 149,360.67 154.67,359 160.67,356.67 166.67,354.33 173.33,352.67 180,351 186.67,349.67 191.67,348.33 194.67,349 197.33,348 200,346.67 201.33,349.33 202.33,353.33 203.33,359 205,368.33 206.67,376.67 209,384.67 211.67,391.67 215,398.67 218.33,405 222.33,411 226.67,416.67 231.67,421.67 236.67,426.67 241.67,431 246.67,435 253.33,439.33 260,443.33 266.67,446.67 274,450 281.67,453.33 289.33,456.67 298.33,460.33 306.67,463.33 316.67,466.33 325,468.33" fill="none" stroke="#f28a1c" stroke-width="0.95" stroke-dasharray="2.4 1.5 0.9 1.5" stroke-linejoin="round"/>
<rect x="56.7" y="334.1" width="281.6" height="148.3" fill="none" stroke="#1c1c1c" stroke-width="1"/>
<line x1="56.7" y1="469.7" x2="59.9" y2="469.7" stroke="#1c1c1c" stroke-width="1"/>
<text x="51.8" y="473.1" font-size="9.4" fill="#111" text-anchor="end">0.0</text>
<line x1="56.7" y1="457.38" x2="58.5" y2="457.38" stroke="#1c1c1c" stroke-width="1"/>
<line x1="56.7" y1="445.06" x2="59.9" y2="445.06" stroke="#1c1c1c" stroke-width="1"/>
<text x="51.8" y="448.46" font-size="9.4" fill="#111" text-anchor="end">0.2</text>
<line x1="56.7" y1="432.74" x2="58.5" y2="432.74" stroke="#1c1c1c" stroke-width="1"/>
<line x1="56.7" y1="420.42" x2="59.9" y2="420.42" stroke="#1c1c1c" stroke-width="1"/>
<text x="51.8" y="423.82" font-size="9.4" fill="#111" text-anchor="end">0.4</text>
<line x1="56.7" y1="408.1" x2="58.5" y2="408.1" stroke="#1c1c1c" stroke-width="1"/>
<line x1="56.7" y1="395.78" x2="59.9" y2="395.78" stroke="#1c1c1c" stroke-width="1"/>
<text x="51.8" y="399.18" font-size="9.4" fill="#111" text-anchor="end">0.6</text>
<line x1="56.7" y1="383.46" x2="58.5" y2="383.46" stroke="#1c1c1c" stroke-width="1"/>
<line x1="56.7" y1="371.14" x2="59.9" y2="371.14" stroke="#1c1c1c" stroke-width="1"/>
<text x="51.8" y="374.54" font-size="9.4" fill="#111" text-anchor="end">0.8</text>
<line x1="56.7" y1="358.82" x2="58.5" y2="358.82" stroke="#1c1c1c" stroke-width="1"/>
<line x1="56.7" y1="346.5" x2="59.9" y2="346.5" stroke="#1c1c1c" stroke-width="1"/>
<text x="51.8" y="349.9" font-size="9.4" fill="#111" text-anchor="end">1.0</text>
<line x1="69" y1="482.4" x2="69" y2="479.2" stroke="#1c1c1c" stroke-width="1"/>
<text x="69" y="493.2" font-size="9.4" fill="#111" text-anchor="middle">0.0</text>
<line x1="94.6" y1="482.4" x2="94.6" y2="480.6" stroke="#1c1c1c" stroke-width="1"/>
<line x1="120.2" y1="482.4" x2="120.2" y2="479.2" stroke="#1c1c1c" stroke-width="1"/>
<text x="120.2" y="493.2" font-size="9.4" fill="#111" text-anchor="middle">0.4</text>
<line x1="145.8" y1="482.4" x2="145.8" y2="480.6" stroke="#1c1c1c" stroke-width="1"/>
<line x1="171.4" y1="482.4" x2="171.4" y2="479.2" stroke="#1c1c1c" stroke-width="1"/>
<text x="171.4" y="493.2" font-size="9.4" fill="#111" text-anchor="middle">0.8</text>
<line x1="197" y1="482.4" x2="197" y2="480.6" stroke="#1c1c1c" stroke-width="1"/>
<line x1="222.6" y1="482.4" x2="222.6" y2="479.2" stroke="#1c1c1c" stroke-width="1"/>
<text x="222.6" y="493.2" font-size="9.4" fill="#111" text-anchor="middle">1.2</text>
<line x1="248.2" y1="482.4" x2="248.2" y2="480.6" stroke="#1c1c1c" stroke-width="1"/>
<line x1="273.8" y1="482.4" x2="273.8" y2="479.2" stroke="#1c1c1c" stroke-width="1"/>
<text x="273.8" y="493.2" font-size="9.4" fill="#111" text-anchor="middle">1.6</text>
<line x1="299.4" y1="482.4" x2="299.4" y2="480.6" stroke="#1c1c1c" stroke-width="1"/>
<line x1="325" y1="482.4" x2="325" y2="479.2" stroke="#1c1c1c" stroke-width="1"/>
<text x="325" y="493.2" font-size="9.4" fill="#111" text-anchor="middle">2.0</text>
<text x="197" y="510" font-size="11.1" fill="#111" text-anchor="middle">Time (ms)</text>
<text x="36" y="408.25" font-size="11.1" fill="#111" text-anchor="middle" transform="rotate(-90 36 408.25)">Normalized response (a.u.)</text>
<text x="85.7" y="350.1" font-size="10.6" fill="#111">Pristine</text>
<text x="212" y="371.12" font-size="10.55" font-weight="bold" fill="#f28a1c">τ<tspan dy="2.5" font-size="7.5">d</tspan><tspan dy="-2.5"> =0.68 ms</tspan></text>
<text x="83.3" y="453.88" font-size="10.55" font-weight="bold" fill="#f28a1c">τ<tspan dy="2.5" font-size="7.5">r</tspan><tspan dy="-2.5"> = 0.61 ms</tspan></text>
<text x="290" y="369.42" font-size="10.8" fill="#f28a1c" font-weight="bold">90%</text>
<text x="290" y="457.18" font-size="10.8" fill="#f28a1c" font-weight="bold">10%</text>
<rect x="73" y="540.57" width="69.7" height="98.16" fill="#b5e3f8"/>
<rect x="205.7" y="540.57" width="81" height="98.16" fill="#b5e3f8"/>
<line x1="69" y1="540.57" x2="322.7" y2="540.57" stroke="#8a8a8a" stroke-width="0.9" stroke-dasharray="1 2.2"/>
<line x1="69" y1="638.73" x2="322.7" y2="638.73" stroke="#8a8a8a" stroke-width="0.9" stroke-dasharray="1 2.2"/>
<polyline points="69,651 70.33,648.33 71.67,645 73,638.67 75.67,626 78.33,615 81.67,604.33 85,595 89,585.33 93.33,576.67 98.33,569.33 103.33,563.33 108.33,558.33 113.33,554.33 120.33,550 126.67,546.67 133.33,544 138,542.33 142.67,540.67 150,538 156.67,535.67 165,533.67 173.33,531.67 180,530.33 186.67,529.33 193.33,528.33 200,527.67 202,528.67 203.67,532.67 205.67,540.67 207.67,550 210,558.33 213.33,567.33 216.67,575 221.67,583.67 226.67,591.67 231.67,599.67 236.67,606.67 242.33,612 248.33,616.67 254,621 260,625 266.67,629 274,632.67 280,635.67 286.67,638.33 296.67,642.67 306.67,646 315,648.33 322.67,650" fill="none" stroke="#f28a1c" stroke-width="0.95" stroke-dasharray="2.4 1.5 0.9 1.5" stroke-linejoin="round"/>
<rect x="56.7" y="516" width="281.6" height="148.2" fill="none" stroke="#1c1c1c" stroke-width="1"/>
<line x1="56.7" y1="651" x2="59.9" y2="651" stroke="#1c1c1c" stroke-width="1"/>
<text x="51.8" y="654.4" font-size="9.4" fill="#111" text-anchor="end">0.0</text>
<line x1="56.7" y1="638.73" x2="58.5" y2="638.73" stroke="#1c1c1c" stroke-width="1"/>
<line x1="56.7" y1="626.46" x2="59.9" y2="626.46" stroke="#1c1c1c" stroke-width="1"/>
<text x="51.8" y="629.86" font-size="9.4" fill="#111" text-anchor="end">0.2</text>
<line x1="56.7" y1="614.19" x2="58.5" y2="614.19" stroke="#1c1c1c" stroke-width="1"/>
<line x1="56.7" y1="601.92" x2="59.9" y2="601.92" stroke="#1c1c1c" stroke-width="1"/>
<text x="51.8" y="605.32" font-size="9.4" fill="#111" text-anchor="end">0.4</text>
<line x1="56.7" y1="589.65" x2="58.5" y2="589.65" stroke="#1c1c1c" stroke-width="1"/>
<line x1="56.7" y1="577.38" x2="59.9" y2="577.38" stroke="#1c1c1c" stroke-width="1"/>
<text x="51.8" y="580.78" font-size="9.4" fill="#111" text-anchor="end">0.6</text>
<line x1="56.7" y1="565.11" x2="58.5" y2="565.11" stroke="#1c1c1c" stroke-width="1"/>
<line x1="56.7" y1="552.84" x2="59.9" y2="552.84" stroke="#1c1c1c" stroke-width="1"/>
<text x="51.8" y="556.24" font-size="9.4" fill="#111" text-anchor="end">0.8</text>
<line x1="56.7" y1="540.57" x2="58.5" y2="540.57" stroke="#1c1c1c" stroke-width="1"/>
<line x1="56.7" y1="528.3" x2="59.9" y2="528.3" stroke="#1c1c1c" stroke-width="1"/>
<text x="51.8" y="531.7" font-size="9.4" fill="#111" text-anchor="end">1.0</text>
<line x1="69" y1="664.2" x2="69" y2="661" stroke="#1c1c1c" stroke-width="1"/>
<text x="69" y="675" font-size="9.4" fill="#111" text-anchor="middle">0.0</text>
<line x1="94.6" y1="664.2" x2="94.6" y2="662.4" stroke="#1c1c1c" stroke-width="1"/>
<line x1="120.2" y1="664.2" x2="120.2" y2="661" stroke="#1c1c1c" stroke-width="1"/>
<text x="120.2" y="675" font-size="9.4" fill="#111" text-anchor="middle">0.4</text>
<line x1="145.8" y1="664.2" x2="145.8" y2="662.4" stroke="#1c1c1c" stroke-width="1"/>
<line x1="171.4" y1="664.2" x2="171.4" y2="661" stroke="#1c1c1c" stroke-width="1"/>
<text x="171.4" y="675" font-size="9.4" fill="#111" text-anchor="middle">0.8</text>
<line x1="197" y1="664.2" x2="197" y2="662.4" stroke="#1c1c1c" stroke-width="1"/>
<line x1="222.6" y1="664.2" x2="222.6" y2="661" stroke="#1c1c1c" stroke-width="1"/>
<text x="222.6" y="675" font-size="9.4" fill="#111" text-anchor="middle">1.2</text>
<line x1="248.2" y1="664.2" x2="248.2" y2="662.4" stroke="#1c1c1c" stroke-width="1"/>
<line x1="273.8" y1="664.2" x2="273.8" y2="661" stroke="#1c1c1c" stroke-width="1"/>
<text x="273.8" y="675" font-size="9.4" fill="#111" text-anchor="middle">1.6</text>
<line x1="299.4" y1="664.2" x2="299.4" y2="662.4" stroke="#1c1c1c" stroke-width="1"/>
<line x1="325" y1="664.2" x2="325" y2="661" stroke="#1c1c1c" stroke-width="1"/>
<text x="325" y="675" font-size="9.4" fill="#111" text-anchor="middle">2.0</text>
<text x="197" y="691.8" font-size="11.1" fill="#111" text-anchor="middle">Time (ms)</text>
<text x="36" y="590.1" font-size="11.1" fill="#111" text-anchor="middle" transform="rotate(-90 36 590.1)">Normalized response (a.u.)</text>
<text x="81.7" y="531.9" font-size="10.6" fill="#111">NG-P300</text>
<text x="219.3" y="552.87" font-size="10.55" font-weight="bold" fill="#f28a1c">τ<tspan dy="2.5" font-size="7.5">d</tspan><tspan dy="-2.5"> =0.62 ms</tspan></text>
<text x="79" y="635.23" font-size="10.55" font-weight="bold" fill="#f28a1c">τ<tspan dy="2.5" font-size="7.5">r</tspan><tspan dy="-2.5"> = 0.52 ms</tspan></text>
<text x="290" y="551.17" font-size="10.8" fill="#f28a1c" font-weight="bold">90%</text>
<text x="290" y="638.53" font-size="10.8" fill="#f28a1c" font-weight="bold">10%</text>
</g>
<g id="panel-e">
<defs>
<linearGradient id="mirG" x1="0" y1="0" x2="1" y2="0"><stop offset="0" stop-color="#d4ecee"/><stop offset="0.18" stop-color="#b2d8d9"/><stop offset="1" stop-color="#acd3d5"/></linearGradient>
<linearGradient id="mirE" x1="0" y1="0" x2="0" y2="1"><stop offset="0" stop-color="#9fc4c8"/><stop offset="0.45" stop-color="#5d7577"/><stop offset="0.75" stop-color="#0b0f10"/><stop offset="1" stop-color="#000"/></linearGradient>
<linearGradient id="cylG" x1="0" y1="0" x2="1" y2="0"><stop offset="0" stop-color="#d6efce"/><stop offset="0.5" stop-color="#cbebc2"/><stop offset="1" stop-color="#c3e4b9"/></linearGradient>
<linearGradient id="barG" x1="0" y1="0" x2="1" y2="0"><stop offset="0" stop-color="#a30000"/><stop offset="0.1" stop-color="#e80000"/><stop offset="0.3" stop-color="#ff8c00"/><stop offset="0.42" stop-color="#f4f400"/><stop offset="0.55" stop-color="#60ff9a"/><stop offset="0.68" stop-color="#00d8ff"/><stop offset="0.85" stop-color="#0040ff"/><stop offset="1" stop-color="#00009a"/></linearGradient>
<linearGradient id="scrG" x1="0" y1="0" x2="1" y2="1"><stop offset="0" stop-color="#fbfbfb"/><stop offset="0.55" stop-color="#ececec"/><stop offset="1" stop-color="#dcdcdc"/></linearGradient>
<linearGradient id="baseG" x1="0" y1="0" x2="0" y2="1"><stop offset="0" stop-color="#f4f4f4"/><stop offset="1" stop-color="#e3e3e3"/></linearGradient>
<linearGradient id="devR" x1="0" y1="0" x2="0" y2="1"><stop offset="0" stop-color="#8ea8dc"/><stop offset="1" stop-color="#6688d2"/></linearGradient>
<linearGradient id="devD" x1="0" y1="0" x2="0" y2="1"><stop offset="0" stop-color="#6f8dd9"/><stop offset="1" stop-color="#5b7ccd"/></linearGradient>
<linearGradient id="devL" x1="0" y1="0" x2="0" y2="1"><stop offset="0" stop-color="#accfed"/><stop offset="1" stop-color="#a2c6e6"/></linearGradient>
<linearGradient id="goldF" x1="0" y1="0" x2="1" y2="0"><stop offset="0" stop-color="#fbe07f"/><stop offset="1" stop-color="#fbd057"/></linearGradient>
<filter id="jet" filterUnits="userSpaceOnUse" x="502.2" y="563.4" width="215.6" height="67.4" color-interpolation-filters="sRGB">
<feGaussianBlur stdDeviation="1.25"/>
<feComponentTransfer>
<feFuncR type="table" tableValues="0 0 0 0 0.5 1 1 1 0.63"/>
<feFuncG type="table" tableValues="0 0 0.5 1 1 1 0.5 0 0"/>
<feFuncB type="table" tableValues="0.56 1 1 1 0.5 0 0 0 0"/>
</feComponentTransfer>
</filter>
</defs>
<text x="372.3" y="328.5" font-size="24.6" fill="#111">(e)</text>
<path d="M378.3 580 L378.3 643 A29.7 7 0 0 0 437.7 643 L437.7 580 Z" fill="url(#cylG)"/>
<ellipse cx="408" cy="580" rx="29.7" ry="7" fill="#d0edc8" stroke="#ddf3d6" stroke-width="0.8"/>
<path d="M405.6 577.5 L405.6 474 L408.3 469 L411 474 L411 577.5 Z" fill="#cdebc3" stroke="#bfe3b3" stroke-width="0.5"/>
<text x="379.3" y="674.3" font-size="19.1" fill="#111">Laser</text>
<g transform="rotate(4.5 411 418.3)">
<ellipse cx="408.4" cy="419.8" rx="23.6" ry="46" fill="url(#mirE)"/>
<ellipse cx="411.5" cy="418.2" rx="23.2" ry="46" fill="url(#mirG)"/>
</g>
<text x="383.7" y="364.5" font-size="19.1" fill="#111">Mirror</text>
<path d="M428.3 415.6 L534.5 415.6 Q537 418.3 534.5 421 L428.3 421 Z" fill="#cdebc3" stroke="#bfe3b3" stroke-width="0.5"/>
<polyline points="516.7,446 516.7,360.7 583,397" fill="none" stroke="#b4f0a2" stroke-width="2.1" stroke-linejoin="miter"/>
<polyline points="512.4,438.8 516.7,447 521,438.8" fill="none" stroke="#b4f0a2" stroke-width="2.1"/>
<polyline points="573.5,397.2 583.7,397.4 578.4,388.8" fill="none" stroke="#b4f0a2" stroke-width="2.1"/>
<text x="495.3" y="384.6" font-size="17.6" fill="#111">Y</text>
<text x="553.7" y="375.6" font-size="17.6" fill="#111">X</text>
<polygon points="523.3,383.3 652,456.7 652,512.7 523.3,437.3" fill="#a6a9f6"/>
<polygon points="523.3,383.3 530.3,380 658.3,453.3 652,456.7" fill="#7679b8"/>
<polygon points="652,456.7 658.3,453.3 658.3,508.3 652,512.7" fill="#0c0c1e"/>
<g transform="translate(543.2 440.1) skewY(29.7) scale(1 1.16)" font-size="37" font-weight="bold" stroke-width="0.7">
<text x="1.3" y="1.1" fill="#8b968f" stroke="#8b968f" textLength="88" lengthAdjust="spacingAndGlyphs">GNPI</text>
<text x="0" y="0" fill="#c9e2bd" stroke="#c9e2bd" textLength="88" lengthAdjust="spacingAndGlyphs">GNPI</text>
</g>
<path d="M520 415.6 L534.5 415.6 Q537 418.3 534.5 421 L520 421 Z" fill="#cdebc3"/>
<text x="512.7" y="486.7" font-size="19.1" fill="#111">Mask</text>
<path d="M610.3 415.6 L733 415.6 L735.8 418.3 L733 421 L610.3 421 Z" fill="#cdebc3" stroke="#bfe3b3" stroke-width="0.5"/>
<polygon points="731.14,356.79 744.54,349 781.07,366.04 767.68,375.06" fill="#bcdbf4"/>
<polygon points="767.68,375.06 781.07,366.04 825.4,466.39 811.51,475.4" fill="url(#devL)"/>
<polygon points="708.01,369.7 731.14,356.79 767.68,375.06 744.54,388.45" fill="#90aadf"/>
<polygon points="754.28,382.36 767.68,375.06 811.51,475.4 798.12,482.95" fill="url(#devR)"/>
<polygon points="743.81,388.45 754.53,382.12 798.36,482.95 787.16,490.01" fill="url(#devD)"/>
<polygon points="708.01,369.7 744.54,388.45 787.16,489.52 753.06,476.13" fill="#95afe5"/>
<polygon points="748,396.9 758.3,391.7 762.2,400.8 753.2,405.9" fill="#fac832"/>
<polygon points="758.5,419.9 768.8,414.7 772.7,423.8 763.7,428.9" fill="#fac832"/>
<polygon points="769,442.9 779.3,437.7 783.2,446.8 774.2,451.9" fill="#fac832"/>
<polygon points="779.5,465.9 789.8,460.7 793.7,469.8 784.7,474.9" fill="#fac832"/>
<polygon points="726,396.8 733.7,396.8 737.7,406.2 731.2,408.2" fill="#8aa5df"/>
<polygon points="719.6,384.6 732.4,391 734.4,394.4 727.2,398.4" fill="#fac832"/>
<polygon points="736.5,419.8 744.2,419.8 748.2,429.2 741.7,431.2" fill="#8aa5df"/>
<polygon points="730.1,407.6 742.9,414 744.9,417.4 737.7,421.4" fill="#fac832"/>
<polygon points="747,442.8 754.7,442.8 758.7,452.2 752.2,454.2" fill="#8aa5df"/>
<polygon points="740.6,430.6 753.4,437 755.4,440.4 748.2,444.4" fill="#fac832"/>
<polygon points="757.5,465.8 765.2,465.8 769.2,475.2 762.7,477.2" fill="#8aa5df"/>
<polygon points="751.1,453.6 763.9,460 765.9,463.4 758.7,467.4" fill="#fac832"/>
<polygon points="701.92,373.84 708.74,377.49 752.33,478.81 745.76,475.88" fill="url(#goldF)"/>
<polygon points="708.74,377.49 715.31,373.84 758.67,474.42 752.33,478.81" fill="#fac93a"/>
<polygon points="701.92,373.84 708.74,370.19 715.31,373.84 708.74,377.49" fill="#fccb45"/>
<polygon points="731.14,386.5 737.72,390.16 781.68,490.98 774.5,485.99" fill="url(#goldF)"/>
<polygon points="737.72,390.16 744.54,386.5 788.13,486.7 781.68,490.98" fill="#fac93a"/>
<polygon points="731.14,386.5 737.72,383.09 744.54,386.5 737.72,390.16" fill="#fccb45"/>
<path d="M700 415.6 L733 415.6 L735.8 418.3 L733 421 L700 421 Z" fill="#cdebc3" stroke="#bfe3b3" stroke-width="0.5"/>
<text x="726" y="505" font-size="19.1" fill="#111">Device</text>
<polygon points="877.7,396 917,372.7 1034.7,372.7 995.3,396" fill="#ddf1d8"/>
<polygon points="995.3,396 1034.7,372.7 1034.7,438.3 995.3,460.7" fill="#d9eed3"/>
<rect x="877.7" y="419" width="117.6" height="6" fill="#e3f3de"/>
<rect x="877.7" y="396.1" width="117.6" height="25.1" fill="#5a6e80"/>
<rect x="877.7" y="418.4" width="117.6" height="2.8" fill="#4f6274"/>
<rect x="877.7" y="424.6" width="117.6" height="35.1" fill="#5a6e80"/>
<rect x="877.7" y="424.6" width="117.6" height="1.8" fill="#6f8191"/>
<rect x="885.3" y="421.2" width="10" height="3.4" fill="#3f5162"/>
<rect x="885.3" y="459.7" width="10" height="3.5" fill="#3f5162"/>
<rect x="977" y="421.2" width="10" height="3.4" fill="#3f5162"/>
<rect x="977" y="459.7" width="10" height="3.5" fill="#3f5162"/>
<rect x="884.7" y="401.7" width="65.6" height="11.6" fill="#3f5162"/>
<rect x="888" y="404.3" width="27.3" height="6.7" fill="#d3b33d"/>
<rect x="919.7" y="404.3" width="27.3" height="6.7" fill="#d3b33d"/>
<ellipse cx="963.5" cy="407.8" rx="5.8" ry="4.8" fill="#f4f4f4"/><ellipse cx="963.5" cy="407.8" rx="2.6" ry="2.1" fill="#cfd3d6"/>
<ellipse cx="981.8" cy="407.8" rx="5.8" ry="4.8" fill="#f4f4f4"/><ellipse cx="981.8" cy="407.8" rx="2.6" ry="2.1" fill="#cfd3d6"/>
<rect x="885.3" y="431.7" width="3.3" height="8.3" fill="#3f5162"/>
<rect x="892" y="431.7" width="3.3" height="8.3" fill="#3f5162"/>
<rect x="898.7" y="431.7" width="3.3" height="8.3" fill="#3f5162"/>
<rect x="968.7" y="431.7" width="3.3" height="8.3" fill="#3f5162"/>
<rect x="976" y="431.7" width="3.3" height="8.3" fill="#3f5162"/>
<rect x="983" y="431.7" width="3.3" height="8.3" fill="#3f5162"/>
<rect x="910.3" y="431" width="51" height="9" fill="#3f5162"/>
<rect x="913.7" y="433.3" width="44.3" height="4" fill="#d9dde0"/>
<rect x="884.7" y="443.3" width="18.3" height="7.7" fill="#3f5162"/>
<rect x="888" y="445" width="11.7" height="4.3" fill="#d3b33d"/>
<rect x="910.3" y="443.3" width="51" height="8.3" fill="#3f5162"/>
<rect x="914.3" y="445.7" width="6.7" height="3.3" fill="#2fa7a0"/>
<rect x="925.3" y="445.7" width="6.7" height="3.3" fill="#2fa7a0"/>
<rect x="939.7" y="445.7" width="6.7" height="3.3" fill="#2fa7a0"/>
<rect x="950.7" y="445.7" width="6.7" height="3.3" fill="#2fa7a0"/>
<rect x="968.7" y="445.7" width="18.3" height="2.7" fill="#3f5162"/>
<rect x="976" y="445" width="3.3" height="4.3" fill="#e8ecef"/>
<text x="903" y="484.3" font-size="19.2" fill="#111">Data <tspan x="954.6">collection</tspan></text>
<path d="M718.3 405.3 C750 405.5 780 402 797 400 C806 398.8 808 395.5 813 394.3 C830 391.5 863 390.4 896 389.7" fill="none" stroke="#b6eea6" stroke-width="1.3"/>
<polyline points="891.5,386.8 898,389.7 891.7,392.8" fill="none" stroke="#b6eea6" stroke-width="1.3"/>
<path d="M760.2 448.4 C785 448.4 805 447.5 828 444.6 C835 443.6 837 440.5 842 438.5 C852 436.3 865 435 877.7 434.3" fill="none" stroke="#b6eea6" stroke-width="1.3"/>
<path d="M945.6 462.5 L950.3 462.5 L950.3 534.5 L948 538.6 L945.6 534.5 Z" fill="#cdebc3" stroke="#bfe3b3" stroke-width="0.5"/>
<path d="M865.3 648.2 L1033.7 648.2 L1031 651.2 L868 651.2 Z" fill="#8d8d8d"/>
<path d="M865.3 647.2 L1033.7 647.2 L1033.7 649 L865.3 649 Z" fill="#d9d9d9"/>
<path d="M881 636 L1018 636 L1033.7 647.7 L865.3 647.7 Z" fill="url(#baseG)"/>
<path d="M893.5 637.8 L1005.5 637.8 L1008.8 642.3 L890.2 642.3 Z" fill="#1a1a1a"/>
<path d="M928.7 643.3 L968.7 643.3 L971.3 647.2 L926 647.2 Z" fill="#e4e4e4" stroke="#c4c4c4" stroke-width="0.4"/>
<rect x="881.2" y="547.8" width="137" height="89.3" fill="#141414" rx="3.6" ry="3.6"/>
<rect x="885" y="552.8" width="129.4" height="78.1" fill="url(#scrG)"/>
<line x1="893" y1="639.1" x2="1006" y2="639.1" stroke="#d8d8d8" stroke-width="0.5" stroke-dasharray="1.1 1.5" opacity="0.75"/>
<line x1="893" y1="640.5" x2="1006" y2="640.5" stroke="#d8d8d8" stroke-width="0.5" stroke-dasharray="1.1 1.5" opacity="0.75"/>
<line x1="893" y1="641.8" x2="1006" y2="641.8" stroke="#d8d8d8" stroke-width="0.5" stroke-dasharray="1.1 1.5" opacity="0.75"/>
<text x="948.6" y="606.7" font-size="38" fill="#c5e8b7" text-anchor="middle" font-weight="bold">GNPI</text>
<text x="903" y="673.6" font-size="19.4" fill="#111">Computer</text>
<path d="M846 589.8 L846 596.7 L755.2 596.7 L755.2 600 L748 593.1 L755.2 586.2 L755.2 589.8 Z" fill="#cdebc3"/>
<g filter="url(#jet)">
<rect x="498" y="560" width="224" height="75" fill="#000"/>
<g transform="translate(0 620.6) scale(1.1 1)"><text x="488.91 543.18 596.18 633.45" y="0" text-anchor="middle" font-family="'DejaVu Sans','Liberation Sans',sans-serif" font-size="63" font-weight="bold" fill="#fff" stroke="#fff" stroke-width="3" stroke-linejoin="miter">GNPI</text></g>
</g>
<rect x="626" y="638.8" width="57" height="5.9" fill="url(#barG)"/>
<text x="601" y="644.3" font-size="9.2" fill="#111">Max</text>
<text x="686" y="644.3" font-size="9.2" fill="#111">Min</text>
<text x="540" y="674.3" font-size="19.1" fill="#111">Imaging result</text>
</g>
</svg>
</body>
</html>
